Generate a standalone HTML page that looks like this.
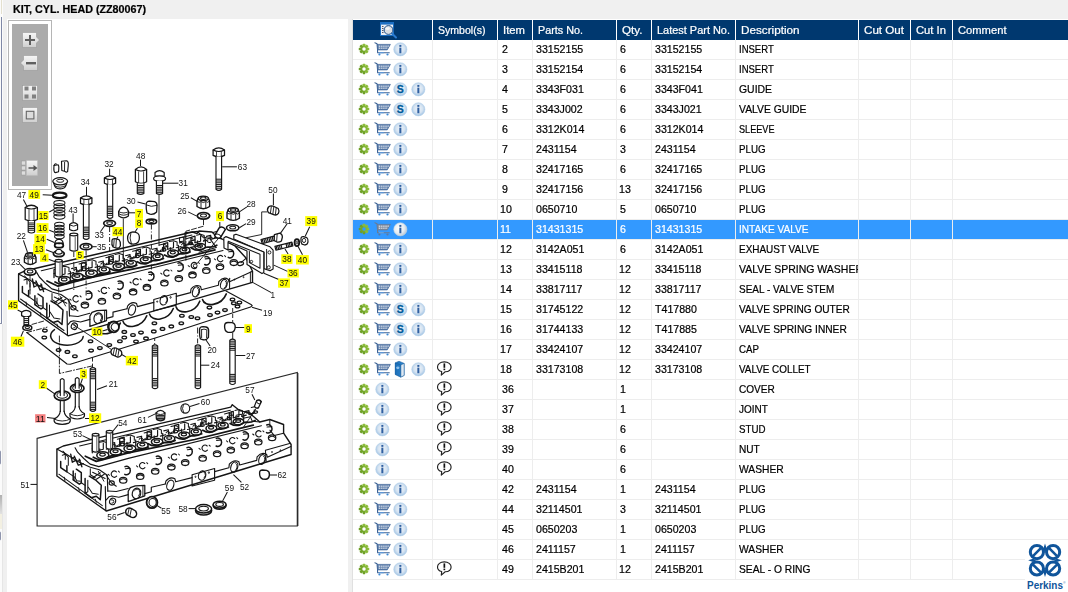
<!DOCTYPE html><html><head><meta charset="utf-8"><title>KIT, CYL. HEAD (ZZ80067)</title><style>

html,body{margin:0;padding:0}
body{width:1068px;height:592px;overflow:hidden;position:relative;background:#f0f0f0;font-family:"Liberation Sans", sans-serif;font-size:11px}
.abs{position:absolute}
.t{-webkit-text-stroke:0.22px currentColor;position:absolute;white-space:pre;line-height:13px;height:13px;transform-origin:0 0;font-size:11px}
.ic{position:absolute;overflow:visible}
.hl{position:absolute;background:#ededed;height:1px}
.vl{position:absolute;background:#ededed;width:1px}
.clip{position:absolute;overflow:hidden;height:20px}

</style></head><body>

<svg width="0" height="0" style="position:absolute">
<defs>
<linearGradient id="gg" x1="0" y1="0" x2="0" y2="1"><stop offset="0" stop-color="#8fc03e"/><stop offset="1" stop-color="#6a9c24"/></linearGradient>
<radialGradient id="ig" cx="0.5" cy="0.45" r="0.55"><stop offset="0" stop-color="#eef4fa"/><stop offset="0.6" stop-color="#d5e3f1"/><stop offset="1" stop-color="#9fc2e4"/></radialGradient>
<radialGradient id="igs" cx="0.4" cy="0.4" r="0.65"><stop offset="0" stop-color="#ffffff"/><stop offset="0.6" stop-color="#e6edf3"/><stop offset="1" stop-color="#b4c4d4"/></radialGradient>
<linearGradient id="bk" x1="0" y1="0" x2="1" y2="0"><stop offset="0" stop-color="#1d6fb8"/><stop offset="1" stop-color="#2d86cf"/></linearGradient>
<mask id="gm" x="-6" y="-6" width="12" height="12" maskUnits="userSpaceOnUse"><rect x="-6" y="-6" width="12" height="12" fill="#fff"/><circle r="1.75" fill="#000"/></mask>
<symbol id="gear" viewBox="-6 -6 12 12">
 <g fill="url(#gg)" mask="url(#gm)">
 <circle r="3.7"/>
 <rect x="-1.3" y="-5.25" width="2.6" height="10.5" rx="0.4"/><rect x="-1.3" y="-5.25" width="2.6" height="10.5" rx="0.4" transform="rotate(45)"/><rect x="-1.3" y="-5.25" width="2.6" height="10.5" rx="0.4" transform="rotate(90)"/><rect x="-1.3" y="-5.25" width="2.6" height="10.5" rx="0.4" transform="rotate(135)"/>
 </g>
</symbol>
<symbol id="cart" viewBox="0 0 17 14">
 <path d="M0.4 0.6 L2.3 1.3 L3.1 2.4 L3.3 10.7 L15 10.7" fill="none" stroke="#3d6396" stroke-width="1.1" stroke-linejoin="round" stroke-linecap="round"/>
 <path d="M2.7 2.3 L16.1 2.3 L12.9 7.8 L3.3 7.8 Z" fill="#6382ad" stroke="#3d6396" stroke-width="0.7" stroke-linejoin="round"/>
 <g fill="#fff" opacity="0.92">
  <rect x="4.5" y="3.5" width="1.05" height="1.2"/><rect x="6.4" y="3.5" width="1.05" height="1.2"/><rect x="8.3" y="3.5" width="1.05" height="1.2"/><rect x="10.2" y="3.5" width="1.05" height="1.2"/><rect x="12.1" y="3.5" width="1.05" height="1.2"/><rect x="13.9" y="3.5" width="0.8" height="1"/>
  <rect x="4.5" y="5.5" width="1.05" height="1.2"/><rect x="6.4" y="5.5" width="1.05" height="1.2"/><rect x="8.3" y="5.5" width="1.05" height="1.2"/><rect x="10.2" y="5.5" width="1.05" height="1.2"/><rect x="12" y="5.5" width="0.9" height="1.1"/>
 </g>
 <path d="M4.6 10.7 H9.5" stroke="#5a9be0" stroke-width="1.1"/>
 <circle cx="5.1" cy="12.4" r="1.1" fill="#3d8ad6"/><circle cx="13.2" cy="12.4" r="1.1" fill="#3d8ad6"/>
</symbol>
<symbol id="info" viewBox="-7.5 -7.5 15 15">
 <circle r="6.6" fill="url(#ig)" stroke="#b4d0ea" stroke-width="0.6"/>
 <rect x="-1" y="-1.7" width="2" height="5.6" fill="#2f5fa0"/><rect x="-1" y="-4.4" width="2" height="1.9" fill="#2f5fa0"/>
</symbol>
<symbol id="cartsel" viewBox="0 0 17 14">
 <path d="M0.4 0.6 L2.3 1.3 L3.1 2.4 L3.3 10.7 L15 10.7" fill="none" stroke="#6b7b92" stroke-width="1.1" stroke-linejoin="round" stroke-linecap="round"/>
 <path d="M2.7 2.3 L16.1 2.3 L12.9 7.8 L3.3 7.8 Z" fill="#7c8aa0" stroke="#6b7b92" stroke-width="0.7" stroke-linejoin="round"/>
 <g fill="#fff" opacity="0.92">
  <rect x="4.5" y="3.5" width="1.05" height="1.2"/><rect x="6.4" y="3.5" width="1.05" height="1.2"/><rect x="8.3" y="3.5" width="1.05" height="1.2"/><rect x="10.2" y="3.5" width="1.05" height="1.2"/><rect x="12.1" y="3.5" width="1.05" height="1.2"/><rect x="13.9" y="3.5" width="0.8" height="1"/>
  <rect x="4.5" y="5.5" width="1.05" height="1.2"/><rect x="6.4" y="5.5" width="1.05" height="1.2"/><rect x="8.3" y="5.5" width="1.05" height="1.2"/><rect x="10.2" y="5.5" width="1.05" height="1.2"/><rect x="12" y="5.5" width="0.9" height="1.1"/>
 </g>
 <path d="M4.6 10.7 H9.5" stroke="#6aa8e6" stroke-width="1.1"/>
 <circle cx="5.1" cy="12.4" r="1.1" fill="#5a7aa6"/><circle cx="13.2" cy="12.4" r="1.1" fill="#5a7aa6"/>
</symbol>
<symbol id="infosel" viewBox="-7.5 -7.5 15 15">
 <circle r="6.6" fill="url(#igs)" stroke="#c9d6e3" stroke-width="0.6"/>
 <rect x="-1" y="-1.7" width="2" height="5.6" fill="#2f5fa0"/><rect x="-1" y="-4.4" width="2" height="1.9" fill="#2f5fa0"/>
</symbol>
<symbol id="sicon" viewBox="-7.5 -7.5 15 15">
 <circle r="6.6" fill="url(#ig)" stroke="#b4d0ea" stroke-width="0.6"/>
 <text x="0" y="3.7" text-anchor="middle" font-family='"Liberation Sans", sans-serif' font-weight="bold" font-size="10.5" fill="#005b9a" stroke="#005b9a" stroke-width="0.3">S</text>
</symbol>
<symbol id="book" viewBox="0 0 11 17">
 <path d="M0.5 2.2 L4.5 0.4 L9.6 2.6 L9.6 14.6 L6.2 16.4 L0.5 13.6 Z" fill="url(#bk)" stroke="#155a9b" stroke-width="0.6"/>
 <path d="M6.2 4.2 L9.6 2.6 L9.6 14.6 L6.2 16.4 Z" fill="#dfe9f3" stroke="#155a9b" stroke-width="0.5"/>
 <path d="M0.5 2.2 L6.2 4.2 L6.2 16.4" fill="none" stroke="#155a9b" stroke-width="0.5"/>
 <ellipse cx="3.3" cy="7" rx="1.6" ry="1.4" fill="#8fc0ea"/>
</symbol>
<symbol id="bubble" viewBox="0 0 16 15">
 <path d="M8 0.8 C12 0.8 14.8 3 14.8 5.8 C14.8 8.4 12.3 10.4 8.9 10.7 L5 14 L5.4 10.4 C2.8 9.8 1.2 8 1.2 5.8 C1.2 3 4 0.8 8 0.8 Z" fill="#fff" stroke="#222" stroke-width="1.15" stroke-linejoin="round"/>
 <rect x="7.2" y="2.3" width="1.7" height="4.4" fill="#111"/><rect x="7.2" y="7.5" width="1.7" height="1.6" fill="#111"/>
</symbol>
</defs></svg>

<div class="abs" style="left:0;top:0;width:3px;height:592px;background:#fbfbfb"></div>
<div class="abs" style="left:1px;top:17px;width:1px;height:307px;background:#7f88a6"></div>
<div class="abs" style="left:0;top:323px;width:2px;height:1px;background:#8a90a8"></div>
<div class="abs" style="left:2px;top:324px;width:1px;height:268px;background:#e6e6e6"></div>
<div class="abs" style="left:-4px;top:450px;width:5px;height:15px;border:1px solid #8f95ad;border-radius:2px;box-sizing:border-box"></div>
<div class="abs" style="left:0;top:495px;width:2px;height:19px;background:linear-gradient(#b0b0b0,#e2e2e2)"></div>
<div class="abs" style="left:0;top:514px;width:2px;height:15px;background:#f3f0e2"></div>
<div class="abs" style="left:-4px;top:531px;width:5px;height:10px;border:1px solid #8f95ad;border-radius:2px;box-sizing:border-box"></div>
<div class="abs" style="left:1px;top:0;width:1px;height:14px;background:#e4e0cf"></div>
<span class="t" style="left:13px;top:2.6px;font-weight:bold;font-size:11px;transform:scaleX(0.976)">KIT, CYL. HEAD (ZZ80067)</span>
<div class="abs" style="left:7px;top:19px;width:341px;height:573px;background:#fff"></div>
<div class="abs" style="left:8px;top:20px;width:42px;height:168px;border:1px solid #b5b5b5;background:#fff"></div>
<div class="abs" style="left:12px;top:24px;width:36px;height:162px;background:#ababab"></div>

<svg class="abs" style="left:0;top:0" width="60" height="200">
<defs><linearGradient id="bg1" x1="0" y1="0" x2="0" y2="1"><stop offset="0" stop-color="#f6f6f6"/><stop offset="0.5" stop-color="#e4e4e4"/><stop offset="1" stop-color="#cfcfcf"/></linearGradient></defs>
<g stroke="#999" stroke-width="0.6" fill="url(#bg1)">
 <path d="M22.5 32.5 H36.5 V37 L39.5 40 L36.5 43 V47.5 H22.5 Z"/>
 <path d="M23.5 55.5 H37.5 V70.5 H23.5 V66 L20.5 63 L23.5 60 Z"/>
 <rect x="22.5" y="85.5" width="15" height="15"/>
 <rect x="22.5" y="107.5" width="15" height="15"/>
</g>
<g fill="#606060">
 <rect x="25" y="39" width="10" height="2"/><rect x="29" y="35" width="2" height="10"/>
 <rect x="26" y="62" width="10" height="2.4"/>
 <rect x="24.5" y="86.5" width="4" height="4" fill="#808080"/><rect x="32" y="86.5" width="4" height="4" fill="#808080"/><rect x="24.5" y="94.5" width="4" height="4" fill="#808080"/><rect x="32" y="94.5" width="4" height="4" fill="#808080"/>
</g>
<rect x="26.3" y="111.3" width="7.6" height="7.6" fill="#dcdcdc" stroke="#666" stroke-width="1.1"/>
<g>
 <rect x="26.5" y="160.5" width="11" height="15" fill="url(#bg1)" stroke="#bbb" stroke-width="0.5"/>
 <rect x="21.5" y="161" width="4" height="4" fill="#ddd" stroke="#999" stroke-width="0.5"/>
 <rect x="21.5" y="166" width="4" height="4" fill="#ddd" stroke="#999" stroke-width="0.5"/>
 <rect x="21.5" y="171" width="4" height="4" fill="#ddd" stroke="#999" stroke-width="0.5"/>
 <path d="M28.5 167.2 H33.5 V165 L37.5 168 L33.5 171 V168.8 H28.5 Z" fill="#555"/>
</g>
</svg>

<svg class="abs" style="left:0;top:0;will-change:transform" width="352" height="592" viewBox="0 0 352 592" font-family='"Liberation Sans", sans-serif' font-size="8.6" fill="#111">
<path d="M37.1 438.4 L297.3 372.5 L297.3 526.0 L37.1 526.0 Z" fill="none" stroke="#2a2a2a" stroke-width="1.15" stroke-linejoin="miter" stroke-linecap="round"/>
<line x1="297.7" y1="373.0" x2="297.7" y2="526.0" stroke="#2a2a2a" stroke-width="1.38"/>
<line x1="30.5" y1="484.4" x2="37.0" y2="484.4" stroke="#151515" stroke-width="1.03"/>
<path d="M26.8 332.5 L64.5 362.0 L67.0 364.0 L70.3 364.3 L162.5 335.8 L250.6 307.0 L252.2 305.6 L251.0 304.4 L226.0 291.0 L100.0 300.0 Z" fill="#fff" stroke="#fff" stroke-width="0.01" stroke-linejoin="round" stroke-linecap="round"/>
<path d="M26.8 332.5 L64.5 362.0 L67.0 364.0 L70.3 364.3 L162.5 335.8 L250.6 307.0 L252.2 305.6 L251.0 304.4 L226.0 291.0" fill="none" stroke="#151515" stroke-width="1.15" stroke-linejoin="round" stroke-linecap="round"/>
<path d="M26.8 332.5 L47.0 327.2" fill="none" stroke="#151515" stroke-width="0.92" stroke-linejoin="round" stroke-linecap="round" stroke-dasharray="5 2 1 2"/>
<path d="M32.0 324.4 L44.0 321.0" fill="none" stroke="#151515" stroke-width="0.92" stroke-linejoin="round" stroke-linecap="round" stroke-dasharray="5 2"/>
<path d="M202.5 299.5 C204.5 307.5 221.3 306.4 226.3 293.9" fill="none" stroke="#151515" stroke-width="1.61" stroke-linejoin="round" stroke-linecap="round"/>
<path d="M176.0 306.8 C178.0 314.8 194.8 313.7 199.8 301.2" fill="none" stroke="#151515" stroke-width="1.61" stroke-linejoin="round" stroke-linecap="round"/>
<path d="M149.5 314.1 C151.5 322.1 168.3 321.0 173.3 308.5" fill="none" stroke="#151515" stroke-width="1.61" stroke-linejoin="round" stroke-linecap="round"/>
<path d="M123.0 321.4 C125.0 329.4 141.8 328.3 146.8 315.8" fill="none" stroke="#151515" stroke-width="1.61" stroke-linejoin="round" stroke-linecap="round"/>
<path d="M96.5 328.7 C98.5 336.7 115.3 335.6 120.3 323.1" fill="none" stroke="#151515" stroke-width="1.61" stroke-linejoin="round" stroke-linecap="round"/>
<path d="M54.5 329.6 A16.3 9.5 0 1 0 83.2 336.6" fill="none" stroke="#151515" stroke-width="1.49" stroke-linejoin="round" stroke-linecap="round"/>
<ellipse cx="232.5" cy="299.5" rx="2.3" ry="1.4" fill="none" stroke="#151515" stroke-width="1.26"/>
<ellipse cx="233.8" cy="303.3" rx="2.3" ry="1.4" fill="none" stroke="#151515" stroke-width="1.26"/>
<ellipse cx="239.4" cy="302.6" rx="2.3" ry="1.4" fill="none" stroke="#151515" stroke-width="1.26"/>
<ellipse cx="237.5" cy="306.4" rx="2.3" ry="1.4" fill="none" stroke="#151515" stroke-width="1.26"/>
<ellipse cx="225.0" cy="310.1" rx="2.3" ry="1.4" fill="none" stroke="#151515" stroke-width="1.26"/>
<ellipse cx="217.5" cy="312.6" rx="2.3" ry="1.4" fill="none" stroke="#151515" stroke-width="1.26"/>
<ellipse cx="210.0" cy="315.1" rx="2.3" ry="1.4" fill="none" stroke="#151515" stroke-width="1.26"/>
<ellipse cx="209.4" cy="307.6" rx="2.3" ry="1.4" fill="none" stroke="#151515" stroke-width="1.26"/>
<ellipse cx="197.5" cy="318.3" rx="2.3" ry="1.4" fill="none" stroke="#151515" stroke-width="1.26"/>
<ellipse cx="191.3" cy="317.0" rx="2.3" ry="1.4" fill="none" stroke="#151515" stroke-width="1.26"/>
<ellipse cx="181.9" cy="315.8" rx="2.3" ry="1.4" fill="none" stroke="#151515" stroke-width="1.26"/>
<ellipse cx="181.3" cy="323.3" rx="2.3" ry="1.4" fill="none" stroke="#151515" stroke-width="1.26"/>
<ellipse cx="154.4" cy="323.3" rx="2.3" ry="1.4" fill="none" stroke="#151515" stroke-width="1.26"/>
<ellipse cx="162.5" cy="328.9" rx="2.3" ry="1.4" fill="none" stroke="#151515" stroke-width="1.26"/>
<ellipse cx="171.3" cy="326.4" rx="2.3" ry="1.4" fill="none" stroke="#151515" stroke-width="1.26"/>
<ellipse cx="153.8" cy="331.4" rx="2.3" ry="1.4" fill="none" stroke="#151515" stroke-width="1.26"/>
<ellipse cx="44.9" cy="330.6" rx="2.3" ry="1.4" fill="none" stroke="#151515" stroke-width="1.26"/>
<ellipse cx="44.3" cy="337.5" rx="2.3" ry="1.4" fill="none" stroke="#151515" stroke-width="1.26"/>
<ellipse cx="58.6" cy="350.0" rx="2.3" ry="1.4" fill="none" stroke="#151515" stroke-width="1.26"/>
<ellipse cx="67.4" cy="351.9" rx="2.3" ry="1.4" fill="none" stroke="#151515" stroke-width="1.26"/>
<ellipse cx="74.9" cy="356.3" rx="2.3" ry="1.4" fill="none" stroke="#151515" stroke-width="1.26"/>
<ellipse cx="90.5" cy="341.3" rx="2.3" ry="1.4" fill="none" stroke="#151515" stroke-width="1.26"/>
<ellipse cx="91.1" cy="350.6" rx="2.3" ry="1.4" fill="none" stroke="#151515" stroke-width="1.26"/>
<ellipse cx="99.9" cy="348.1" rx="2.3" ry="1.4" fill="none" stroke="#151515" stroke-width="1.26"/>
<ellipse cx="109.3" cy="345.0" rx="2.3" ry="1.4" fill="none" stroke="#151515" stroke-width="1.26"/>
<ellipse cx="124.3" cy="331.9" rx="2.3" ry="1.4" fill="none" stroke="#151515" stroke-width="1.26"/>
<ellipse cx="124.3" cy="337.5" rx="2.3" ry="1.4" fill="none" stroke="#151515" stroke-width="1.26"/>
<ellipse cx="119.9" cy="341.3" rx="2.3" ry="1.4" fill="none" stroke="#151515" stroke-width="1.26"/>
<ellipse cx="133.0" cy="335.0" rx="2.3" ry="1.4" fill="none" stroke="#151515" stroke-width="1.26"/>
<ellipse cx="141.0" cy="332.6" rx="2.3" ry="1.4" fill="none" stroke="#151515" stroke-width="1.26"/>
<ellipse cx="146.0" cy="338.4" rx="2.3" ry="1.4" fill="none" stroke="#151515" stroke-width="1.26"/>
<ellipse cx="136.0" cy="341.6" rx="2.3" ry="1.4" fill="none" stroke="#151515" stroke-width="1.26"/>
<path d="M18.6 273.9 L25.0 270.8 L37.0 268.0 L192.5 232.0 L197.0 233.5 L199.0 231.0 L212.0 232.0 L217.0 237.0 L222.0 239.0 L235.0 246.0 L246.0 258.0 L252.5 271.3 L252.5 282.4 L68.0 335.8 L18.6 300.8 Z" fill="#fff" stroke="#151515" stroke-width="1.38" stroke-linejoin="round" stroke-linecap="round"/>
<path d="M41.3 270.8 L192.0 235.0" fill="none" stroke="#151515" stroke-width="1.03" stroke-linejoin="round" stroke-linecap="round"/>
<path d="M18.6 273.9 L29.0 279.5 L39.0 286.0 L52.0 292.0 L61.0 294.5 L69.0 300.0 L69.5 316.0" fill="none" stroke="#151515" stroke-width="1.15" stroke-linejoin="round" stroke-linecap="round"/>
<path d="M36.8 272.6 L39.3 277.0 L45.5 283.3 L51.8 288.9 L60.5 291.4 L90.0 283.2 L223.0 250.5" fill="none" stroke="#151515" stroke-width="1.15" stroke-linejoin="round" stroke-linecap="round"/>
<path d="M47.0 281.0 L58.0 286.2 L90.0 277.6 L156.3 264.3 L215.0 249.9" fill="none" stroke="#151515" stroke-width="1.72" stroke-linejoin="round" stroke-linecap="round"/>
<path d="M67.0 311.3 L67.5 335.5" fill="none" stroke="#151515" stroke-width="1.15" stroke-linejoin="round" stroke-linecap="round"/>
<path d="M22.4 286.4 L22.4 292.5 L28.6 296.6 L28.6 290.5" fill="none" stroke="#151515" stroke-width="1.49" stroke-linejoin="round" stroke-linecap="round"/>
<path d="M24.0 280.0 L27.0 279.0 L27.0 284.0" fill="none" stroke="#151515" stroke-width="1.03" stroke-linejoin="round" stroke-linecap="round"/>
<path d="M34.9 295.8 L34.9 304.6 L41.0 309.0 L43.0 307.6 L43.0 297.5 L38.0 294.0" fill="none" stroke="#151515" stroke-width="1.49" stroke-linejoin="round" stroke-linecap="round"/>
<path d="M34.9 304.6 L37.0 303.4 L37.0 298.0" fill="none" stroke="#151515" stroke-width="1.03" stroke-linejoin="round" stroke-linecap="round"/>
<path d="M36.0 301.5 L38.6 305.6 L42.0 306.0" fill="none" stroke="#151515" stroke-width="1.03" stroke-linejoin="round" stroke-linecap="round"/>
<path d="M46.8 303.3 L46.8 318.0 L53.0 322.5 L58.0 321.0 L62.0 324.5 L63.0 310.0 L57.0 304.6 L51.0 301.0" fill="none" stroke="#151515" stroke-width="1.49" stroke-linejoin="round" stroke-linecap="round"/>
<path d="M46.8 318.0 L49.5 316.6 L49.5 305.0" fill="none" stroke="#151515" stroke-width="1.03" stroke-linejoin="round" stroke-linecap="round"/>
<path d="M50.0 312.0 L54.0 318.0 L60.0 319.0" fill="none" stroke="#151515" stroke-width="1.03" stroke-linejoin="round" stroke-linecap="round"/>
<path d="M28.6 296.6 L34.9 301.0" fill="none" stroke="#151515" stroke-width="1.03" stroke-linejoin="round" stroke-linecap="round"/>
<path d="M43.0 307.6 L46.8 310.2" fill="none" stroke="#151515" stroke-width="1.03" stroke-linejoin="round" stroke-linecap="round"/>
<path d="M20.5 299.0 L64.0 330.5" fill="none" stroke="#151515" stroke-width="1.03" stroke-linejoin="round" stroke-linecap="round"/>
<path d="M26.0 302.0 L26.6 305.4" fill="none" stroke="#151515" stroke-width="0.92" stroke-linejoin="round" stroke-linecap="round"/>
<path d="M40.0 312.4 L41.0 315.4" fill="none" stroke="#151515" stroke-width="0.92" stroke-linejoin="round" stroke-linecap="round"/>
<path d="M57.0 324.0 L58.0 327.0" fill="none" stroke="#151515" stroke-width="0.92" stroke-linejoin="round" stroke-linecap="round"/>
<path d="M54.3 297.0 L66.8 303.3" fill="none" stroke="#151515" stroke-width="1.03" stroke-linejoin="round" stroke-linecap="round"/>
<path d="M54.5 302.5 L62.0 297.5" fill="none" stroke="#151515" stroke-width="1.03" stroke-linejoin="round" stroke-linecap="round"/>
<path d="M58.0 304.0 L66.0 299.0" fill="none" stroke="#151515" stroke-width="1.03" stroke-linejoin="round" stroke-linecap="round"/>
<path d="M60.0 296.0 L65.6 306.0" fill="none" stroke="#151515" stroke-width="0.92" stroke-linejoin="round" stroke-linecap="round"/>
<path d="M32.4 279.0 L34.0 287.0 L38.0 285.0" fill="none" stroke="#151515" stroke-width="1.38" stroke-linejoin="round" stroke-linecap="round"/>
<path d="M36.0 281.0 L40.0 290.0 L45.0 288.5" fill="none" stroke="#151515" stroke-width="1.38" stroke-linejoin="round" stroke-linecap="round"/>
<path d="M41.0 284.0 L43.6 291.6" fill="none" stroke="#151515" stroke-width="1.38" stroke-linejoin="round" stroke-linecap="round"/>
<path d="M33.0 283.0 L36.4 282.0" fill="none" stroke="#151515" stroke-width="1.15" stroke-linejoin="round" stroke-linecap="round"/>
<path d="M38.0 286.0 L42.0 285.0" fill="none" stroke="#151515" stroke-width="1.15" stroke-linejoin="round" stroke-linecap="round"/>
<path d="M24.6 276.0 L30.0 282.0 L30.0 290.0" fill="none" stroke="#151515" stroke-width="1.03" stroke-linejoin="round" stroke-linecap="round"/>
<path d="M52.0 293.6 L52.0 299.6 L57.0 302.6" fill="none" stroke="#151515" stroke-width="1.03" stroke-linejoin="round" stroke-linecap="round"/>
<ellipse cx="74.3" cy="326.2" rx="3.0" ry="3.3" fill="none" stroke="#151515" stroke-width="1.15" transform="rotate(20 74.3 326.2)"/>
<path transform="translate(0 0)" d="M73 324.6 q2.6 -0.6 2.6 1.8 q-0.4 2 -2 1.6" fill="none" stroke="#151515" stroke-width="0.92" stroke-linejoin="round" stroke-linecap="round"/>
<path d="M69.6 315.8 L78.0 316.4 L89.9 313.3" fill="none" stroke="#151515" stroke-width="1.03" stroke-linejoin="round" stroke-linecap="round"/>
<path d="M68.0 324.6 L70.6 321.6 L73.6 320.8 L80.5 322.0 L89.9 319.4" fill="none" stroke="#151515" stroke-width="1.15" stroke-linejoin="round" stroke-linecap="round"/>
<path d="M68.0 300.0 L73.0 307.6 L78.0 311.0" fill="none" stroke="#151515" stroke-width="1.03" stroke-linejoin="round" stroke-linecap="round"/>
<path d="M89.9 326.4 L89.9 316.0 L92.0 312.4 L97.0 310.6 L106.5 310.2 L106.5 320.6 L89.9 326.4" fill="none" stroke="#151515" stroke-width="1.26" stroke-linejoin="round" stroke-linecap="round"/>
<path d="M106.5 318.4 L113.0 316.6 L113.0 312.1 L127.0 308.8" fill="none" stroke="#151515" stroke-width="1.15" stroke-linejoin="round" stroke-linecap="round"/>
<path d="M104.6 311.0 L104.6 320.8" fill="none" stroke="#151515" stroke-width="0.92" stroke-linejoin="round" stroke-linecap="round"/>
<ellipse cx="98.2" cy="318.2" rx="4.2" ry="5.4" fill="none" stroke="#151515" stroke-width="1.15" transform="rotate(15 98.2 318.2)"/>
<path transform="translate(0 0)" d="M96.4 315.2 A2.8 3.8 15 0 1 100.4 320.8" fill="none" stroke="#151515" stroke-width="0.92" stroke-linejoin="round" stroke-linecap="round"/>
<path transform="translate(0 0)" d="M127 308.8 L127.6 306 Q131.5 301 136.6 303.6 L137.4 306.6 L153.8 302.4" fill="none" stroke="#151515" stroke-width="1.15" stroke-linejoin="round" stroke-linecap="round"/>
<path d="M153.8 299.5 L176.3 293.3 L176.3 305.1 L153.8 310.8 Z" fill="none" stroke="#151515" stroke-width="1.15" stroke-linejoin="round" stroke-linecap="round"/>
<path transform="translate(0 0)" d="M176.3 296.4 L190.6 292.6 L191 289 Q195.6 283.6 200.6 286.6 L201.4 289.8 L218.4 285.2 L218.8 281.6 Q223.4 276.2 228.4 279.4 L229 282 L252.5 271.3" fill="none" stroke="#151515" stroke-width="1.15" stroke-linejoin="round" stroke-linecap="round"/>
<ellipse cx="132.0" cy="310.0" rx="3.4" ry="5.2" fill="none" stroke="#151515" stroke-width="1.15" transform="rotate(18 132.0 310.0)"/>
<ellipse cx="163.8" cy="300.3" rx="3.6" ry="4.8" fill="none" stroke="#151515" stroke-width="1.15" transform="rotate(18 163.8 300.3)"/>
<path transform="translate(0 0)" d="M162.2 297.4 A2.6 3.4 18 0 1 165.8 302.8" fill="none" stroke="#151515" stroke-width="0.92" stroke-linejoin="round" stroke-linecap="round"/>
<ellipse cx="157.2" cy="301.6" rx="0.5" ry="0.7" fill="none" stroke="#151515" stroke-width="0.92"/>
<ellipse cx="170.6" cy="297.4" rx="0.6" ry="0.9" fill="none" stroke="#151515" stroke-width="0.92"/>
<ellipse cx="196.0" cy="291.8" rx="3.4" ry="5.2" fill="none" stroke="#151515" stroke-width="1.15" transform="rotate(18 196.0 291.8)"/>
<path transform="translate(0 0)" d="M197.6 288.4 A2.6 4 18 0 1 196.6 295.6" fill="none" stroke="#151515" stroke-width="0.92" stroke-linejoin="round" stroke-linecap="round"/>
<ellipse cx="223.8" cy="284.3" rx="3.2" ry="5.0" fill="none" stroke="#151515" stroke-width="1.15" transform="rotate(18 223.8 284.3)"/>
<path transform="translate(0 0)" d="M225.4 281 A2.6 4 18 0 1 224.4 288" fill="none" stroke="#151515" stroke-width="0.92" stroke-linejoin="round" stroke-linecap="round"/>
<path d="M229.6 278.2 L229.6 288.4" fill="none" stroke="#151515" stroke-width="1.03" stroke-linejoin="round" stroke-linecap="round"/>
<ellipse cx="234.4" cy="279.6" rx="0.5" ry="0.5" fill="none" stroke="#151515" stroke-width="0.92"/>
<ellipse cx="243.6" cy="277.2" rx="0.5" ry="0.5" fill="none" stroke="#151515" stroke-width="0.92"/>
<path d="M250.4 272.0 L250.4 282.6" fill="none" stroke="#151515" stroke-width="0.92" stroke-linejoin="round" stroke-linecap="round"/>
<path transform="translate(0 0)" d="M78.1 296.7 A3.1 3 0 1 0 78.3 300.9" fill="none" stroke="#151515" stroke-width="1.15" stroke-linejoin="round" stroke-linecap="round"/>
<path d="M69.9 299.1 L71.1 300.1" fill="none" stroke="#151515" stroke-width="1.03" stroke-linejoin="round" stroke-linecap="round"/>
<path d="M80.1 295.9 L81.1 296.9" fill="none" stroke="#151515" stroke-width="1.03" stroke-linejoin="round" stroke-linecap="round"/>
<path transform="translate(0 0)" d="M106.4 288.3 A3.1 3 0 1 0 106.6 292.5" fill="none" stroke="#151515" stroke-width="1.15" stroke-linejoin="round" stroke-linecap="round"/>
<path d="M98.2 290.7 L99.4 291.7" fill="none" stroke="#151515" stroke-width="1.03" stroke-linejoin="round" stroke-linecap="round"/>
<path d="M108.4 287.5 L109.4 288.5" fill="none" stroke="#151515" stroke-width="1.03" stroke-linejoin="round" stroke-linecap="round"/>
<path transform="translate(0 0)" d="M138.2 279.6 A3.1 3 0 1 0 138.4 283.8" fill="none" stroke="#151515" stroke-width="1.15" stroke-linejoin="round" stroke-linecap="round"/>
<path d="M130.0 282.0 L131.2 283.0" fill="none" stroke="#151515" stroke-width="1.03" stroke-linejoin="round" stroke-linecap="round"/>
<path d="M140.2 278.8 L141.2 279.8" fill="none" stroke="#151515" stroke-width="1.03" stroke-linejoin="round" stroke-linecap="round"/>
<path transform="translate(0 0)" d="M168.9 270.8 A3.1 3 0 1 0 169.1 275.0" fill="none" stroke="#151515" stroke-width="1.15" stroke-linejoin="round" stroke-linecap="round"/>
<path d="M160.7 273.2 L161.9 274.2" fill="none" stroke="#151515" stroke-width="1.03" stroke-linejoin="round" stroke-linecap="round"/>
<path d="M170.9 270.0 L171.9 271.0" fill="none" stroke="#151515" stroke-width="1.03" stroke-linejoin="round" stroke-linecap="round"/>
<path transform="translate(0 0)" d="M196.4 263.3 A3.1 3 0 1 0 196.6 267.5" fill="none" stroke="#151515" stroke-width="1.15" stroke-linejoin="round" stroke-linecap="round"/>
<path d="M188.2 265.7 L189.4 266.7" fill="none" stroke="#151515" stroke-width="1.03" stroke-linejoin="round" stroke-linecap="round"/>
<path d="M198.4 262.5 L199.4 263.5" fill="none" stroke="#151515" stroke-width="1.03" stroke-linejoin="round" stroke-linecap="round"/>
<path transform="translate(0 0)" d="M222.6 256.4 A3.1 3 0 1 0 222.8 260.6" fill="none" stroke="#151515" stroke-width="1.15" stroke-linejoin="round" stroke-linecap="round"/>
<path d="M214.4 258.8 L215.6 259.8" fill="none" stroke="#151515" stroke-width="1.03" stroke-linejoin="round" stroke-linecap="round"/>
<path d="M224.6 255.6 L225.6 256.6" fill="none" stroke="#151515" stroke-width="1.03" stroke-linejoin="round" stroke-linecap="round"/>
<path transform="translate(0 0)" d="M86.7 291.5 A3.8 4.2 0 1 1 86.5 299.1" fill="none" stroke="#151515" stroke-width="1.49" stroke-linejoin="round" stroke-linecap="round"/>
<path d="M87.1 293.5 L91.7 293.1" fill="none" stroke="#151515" stroke-width="1.15" stroke-linejoin="round" stroke-linecap="round"/>
<path transform="translate(0 0)" d="M118.0 281.3 A3.8 4.2 0 1 1 117.8 288.9" fill="none" stroke="#151515" stroke-width="1.49" stroke-linejoin="round" stroke-linecap="round"/>
<path d="M118.4 283.3 L123.0 282.9" fill="none" stroke="#151515" stroke-width="1.15" stroke-linejoin="round" stroke-linecap="round"/>
<path transform="translate(0 0)" d="M148.7 272.5 A3.8 4.2 0 1 1 148.5 280.1" fill="none" stroke="#151515" stroke-width="1.49" stroke-linejoin="round" stroke-linecap="round"/>
<path d="M149.1 274.5 L153.7 274.1" fill="none" stroke="#151515" stroke-width="1.15" stroke-linejoin="round" stroke-linecap="round"/>
<path transform="translate(0 0)" d="M178.0 263.2 A3.8 4.2 0 1 1 177.8 270.8" fill="none" stroke="#151515" stroke-width="1.49" stroke-linejoin="round" stroke-linecap="round"/>
<path d="M178.4 265.2 L183.0 264.8" fill="none" stroke="#151515" stroke-width="1.15" stroke-linejoin="round" stroke-linecap="round"/>
<path transform="translate(0 0)" d="M204.9 256.9 A3.8 4.2 0 1 1 204.7 264.5" fill="none" stroke="#151515" stroke-width="1.49" stroke-linejoin="round" stroke-linecap="round"/>
<path d="M205.3 258.9 L209.9 258.5" fill="none" stroke="#151515" stroke-width="1.15" stroke-linejoin="round" stroke-linecap="round"/>
<path transform="translate(0 0)" d="M228.4 249.8 A3.8 4.2 0 1 1 228.2 257.4" fill="none" stroke="#151515" stroke-width="1.49" stroke-linejoin="round" stroke-linecap="round"/>
<path d="M228.8 251.8 L233.4 251.4" fill="none" stroke="#151515" stroke-width="1.15" stroke-linejoin="round" stroke-linecap="round"/>
<ellipse cx="84.9" cy="305.1" rx="3.7" ry="2.9" fill="none" stroke="#151515" stroke-width="1.26"/>
<path transform="translate(0 0)" d="M82.1 304.7 Q84.9 302.5 87.7 304.7" fill="none" stroke="#151515" stroke-width="1.03" stroke-linejoin="round" stroke-linecap="round"/>
<ellipse cx="101.9" cy="301.2" rx="3.7" ry="2.9" fill="none" stroke="#151515" stroke-width="1.26"/>
<path transform="translate(0 0)" d="M99.1 300.8 Q101.9 298.6 104.7 300.8" fill="none" stroke="#151515" stroke-width="1.03" stroke-linejoin="round" stroke-linecap="round"/>
<ellipse cx="116.9" cy="296.0" rx="3.7" ry="2.9" fill="none" stroke="#151515" stroke-width="1.26"/>
<path transform="translate(0 0)" d="M114.1 295.6 Q116.9 293.4 119.7 295.6" fill="none" stroke="#151515" stroke-width="1.03" stroke-linejoin="round" stroke-linecap="round"/>
<ellipse cx="133.1" cy="291.9" rx="3.7" ry="2.9" fill="none" stroke="#151515" stroke-width="1.26"/>
<path transform="translate(0 0)" d="M130.3 291.5 Q133.1 289.3 135.9 291.5" fill="none" stroke="#151515" stroke-width="1.03" stroke-linejoin="round" stroke-linecap="round"/>
<ellipse cx="146.9" cy="287.4" rx="3.7" ry="2.9" fill="none" stroke="#151515" stroke-width="1.26"/>
<path transform="translate(0 0)" d="M144.1 287.0 Q146.9 284.8 149.7 287.0" fill="none" stroke="#151515" stroke-width="1.03" stroke-linejoin="round" stroke-linecap="round"/>
<ellipse cx="164.4" cy="283.0" rx="3.7" ry="2.9" fill="none" stroke="#151515" stroke-width="1.26"/>
<path transform="translate(0 0)" d="M161.6 282.6 Q164.4 280.4 167.2 282.6" fill="none" stroke="#151515" stroke-width="1.03" stroke-linejoin="round" stroke-linecap="round"/>
<ellipse cx="178.8" cy="278.6" rx="3.7" ry="2.9" fill="none" stroke="#151515" stroke-width="1.26"/>
<path transform="translate(0 0)" d="M176.0 278.2 Q178.8 276.0 181.6 278.2" fill="none" stroke="#151515" stroke-width="1.03" stroke-linejoin="round" stroke-linecap="round"/>
<ellipse cx="192.5" cy="274.9" rx="3.7" ry="2.9" fill="none" stroke="#151515" stroke-width="1.26"/>
<path transform="translate(0 0)" d="M189.7 274.5 Q192.5 272.3 195.3 274.5" fill="none" stroke="#151515" stroke-width="1.03" stroke-linejoin="round" stroke-linecap="round"/>
<ellipse cx="206.3" cy="270.5" rx="3.7" ry="2.9" fill="none" stroke="#151515" stroke-width="1.26"/>
<path transform="translate(0 0)" d="M203.5 270.1 Q206.3 267.9 209.1 270.1" fill="none" stroke="#151515" stroke-width="1.03" stroke-linejoin="round" stroke-linecap="round"/>
<ellipse cx="220.0" cy="266.8" rx="3.7" ry="2.9" fill="none" stroke="#151515" stroke-width="1.26"/>
<path transform="translate(0 0)" d="M217.2 266.4 Q220.0 264.2 222.8 266.4" fill="none" stroke="#151515" stroke-width="1.03" stroke-linejoin="round" stroke-linecap="round"/>
<ellipse cx="233.8" cy="262.6" rx="3.7" ry="2.9" fill="none" stroke="#151515" stroke-width="1.26"/>
<path transform="translate(0 0)" d="M231.0 262.2 Q233.8 260.0 236.6 262.2" fill="none" stroke="#151515" stroke-width="1.03" stroke-linejoin="round" stroke-linecap="round"/>
<ellipse cx="73.4" cy="307.8" rx="2.6" ry="2.2" fill="none" stroke="#151515" stroke-width="1.15"/>
<path transform="translate(0 0)" d="M241 262.6 L246 258.4" fill="none" stroke="#151515" stroke-width="1.15" stroke-linejoin="round" stroke-linecap="round"/>
<ellipse cx="240.6" cy="263.6" rx="3.0" ry="1.8" fill="none" stroke="#151515" stroke-width="1.15" transform="rotate(-15 240.6 263.6)"/>
<path d="M54.0 277.6 L54.0 269.6 L58.6 268.4 L58.6 275.6" fill="none" stroke="#151515" stroke-width="1.26" stroke-linejoin="round" stroke-linecap="round"/>
<path d="M54.0 273.6 L58.6 272.4" fill="none" stroke="#151515" stroke-width="1.26" stroke-linejoin="round" stroke-linecap="round"/>
<path d="M58.6 275.6 L65.0 274.0 L65.0 268.0" fill="none" stroke="#151515" stroke-width="1.15" stroke-linejoin="round" stroke-linecap="round"/>
<path d="M60.4 267.2 L65.0 266.2 L69.0 267.6 L69.0 271.6" fill="none" stroke="#151515" stroke-width="1.03" stroke-linejoin="round" stroke-linecap="round"/>
<ellipse cx="64.5" cy="280.0" rx="6.0" ry="3.5" fill="none" stroke="#151515" stroke-width="1.55"/>
<ellipse cx="64.2" cy="279.4" rx="2.8" ry="1.5" fill="none" stroke="#151515" stroke-width="1.15"/>
<path d="M61.5 277.0 L61.5 273.6" fill="none" stroke="#151515" stroke-width="1.03" stroke-linejoin="round" stroke-linecap="round"/>
<ellipse cx="77.5" cy="276.6" rx="5.6" ry="3.3" fill="none" stroke="#151515" stroke-width="1.55"/>
<ellipse cx="77.2" cy="276.0" rx="2.6" ry="1.4" fill="none" stroke="#151515" stroke-width="1.15"/>
<path d="M70.4 271.2 L70.4 277.6" fill="none" stroke="#151515" stroke-width="1.15" stroke-linejoin="round" stroke-linecap="round"/>
<path d="M68.0 274.0 L73.4 272.6" fill="none" stroke="#151515" stroke-width="1.15" stroke-linejoin="round" stroke-linecap="round"/>
<path d="M71.6 268.6 L76.4 267.4 L76.4 272.0 L82.4 270.4 L82.4 266.6" fill="none" stroke="#151515" stroke-width="1.15" stroke-linejoin="round" stroke-linecap="round"/>
<path transform="translate(0 0)" d="M74.0 270.6 q1.6 -2.4 3.2 -0.6 q1.4 1.8 3 -0.4" fill="none" stroke="#151515" stroke-width="1.03" stroke-linejoin="round" stroke-linecap="round"/>
<ellipse cx="84.0" cy="269.2" rx="2.2" ry="1.4" fill="none" stroke="#151515" stroke-width="1.26"/>
<path d="M79.0 264.0 L84.0 262.8 L86.6 264.6" fill="none" stroke="#151515" stroke-width="1.03" stroke-linejoin="round" stroke-linecap="round"/>
<path transform="translate(0 0)" d="M55.0 282.0 Q60.0 285.2 65.4 284.0 Q70.0 281.0 73.0 280.6 Q78.0 281.4 83.4 278.6" fill="none" stroke="#151515" stroke-width="1.72" stroke-linejoin="round" stroke-linecap="round"/>
<path d="M81.4 270.9 L81.4 263.1 L85.9 262.0 L85.9 269.0" fill="none" stroke="#151515" stroke-width="1.26" stroke-linejoin="round" stroke-linecap="round"/>
<path d="M81.4 267.0 L85.9 265.9" fill="none" stroke="#151515" stroke-width="1.26" stroke-linejoin="round" stroke-linecap="round"/>
<path d="M85.9 269.0 L92.1 267.4 L92.1 261.6" fill="none" stroke="#151515" stroke-width="1.15" stroke-linejoin="round" stroke-linecap="round"/>
<path d="M87.6 260.8 L92.1 259.8 L96.0 261.2 L96.0 265.1" fill="none" stroke="#151515" stroke-width="1.03" stroke-linejoin="round" stroke-linecap="round"/>
<ellipse cx="91.6" cy="273.3" rx="5.9" ry="3.4" fill="none" stroke="#151515" stroke-width="1.55"/>
<ellipse cx="91.3" cy="272.7" rx="2.7" ry="1.5" fill="none" stroke="#151515" stroke-width="1.15"/>
<path d="M88.7 270.4 L88.7 267.0" fill="none" stroke="#151515" stroke-width="1.03" stroke-linejoin="round" stroke-linecap="round"/>
<ellipse cx="104.3" cy="270.0" rx="5.5" ry="3.2" fill="none" stroke="#151515" stroke-width="1.55"/>
<ellipse cx="104.0" cy="269.4" rx="2.5" ry="1.4" fill="none" stroke="#151515" stroke-width="1.15"/>
<path d="M97.4 264.7 L97.4 270.9" fill="none" stroke="#151515" stroke-width="1.15" stroke-linejoin="round" stroke-linecap="round"/>
<path d="M95.1 267.4 L100.3 266.1" fill="none" stroke="#151515" stroke-width="1.15" stroke-linejoin="round" stroke-linecap="round"/>
<path d="M98.6 262.2 L103.3 261.0 L103.3 265.5 L109.1 263.9 L109.1 260.2" fill="none" stroke="#151515" stroke-width="1.15" stroke-linejoin="round" stroke-linecap="round"/>
<path transform="translate(0 0)" d="M100.9 264.1 q1.6 -2.4 3.2 -0.6 q1.4 1.8 3 -0.4" fill="none" stroke="#151515" stroke-width="1.03" stroke-linejoin="round" stroke-linecap="round"/>
<ellipse cx="110.7" cy="262.7" rx="2.1" ry="1.4" fill="none" stroke="#151515" stroke-width="1.26"/>
<path d="M105.8 257.7 L110.7 256.5 L113.2 258.3" fill="none" stroke="#151515" stroke-width="1.03" stroke-linejoin="round" stroke-linecap="round"/>
<path transform="translate(0 0)" d="M82.4 275.2 Q87.2 278.4 92.5 277.2 Q97.0 274.3 99.9 273.9 Q104.8 274.7 110.1 271.9" fill="none" stroke="#151515" stroke-width="1.72" stroke-linejoin="round" stroke-linecap="round"/>
<path d="M108.8 264.3 L108.8 256.7 L113.2 255.5 L113.2 262.4" fill="none" stroke="#151515" stroke-width="1.26" stroke-linejoin="round" stroke-linecap="round"/>
<path d="M108.8 260.5 L113.2 259.3" fill="none" stroke="#151515" stroke-width="1.26" stroke-linejoin="round" stroke-linecap="round"/>
<path d="M113.2 262.4 L119.3 260.9 L119.3 255.2" fill="none" stroke="#151515" stroke-width="1.15" stroke-linejoin="round" stroke-linecap="round"/>
<path d="M114.9 254.4 L119.3 253.4 L123.1 254.8 L123.1 258.6" fill="none" stroke="#151515" stroke-width="1.03" stroke-linejoin="round" stroke-linecap="round"/>
<ellipse cx="118.8" cy="266.6" rx="5.7" ry="3.3" fill="none" stroke="#151515" stroke-width="1.55"/>
<ellipse cx="118.5" cy="266.0" rx="2.7" ry="1.4" fill="none" stroke="#151515" stroke-width="1.15"/>
<path d="M115.9 263.7 L115.9 260.5" fill="none" stroke="#151515" stroke-width="1.03" stroke-linejoin="round" stroke-linecap="round"/>
<ellipse cx="131.2" cy="263.3" rx="5.3" ry="3.1" fill="none" stroke="#151515" stroke-width="1.55"/>
<ellipse cx="130.9" cy="262.8" rx="2.5" ry="1.3" fill="none" stroke="#151515" stroke-width="1.15"/>
<path d="M124.4 258.2 L124.4 264.3" fill="none" stroke="#151515" stroke-width="1.15" stroke-linejoin="round" stroke-linecap="round"/>
<path d="M122.1 260.9 L127.3 259.5" fill="none" stroke="#151515" stroke-width="1.15" stroke-linejoin="round" stroke-linecap="round"/>
<path d="M125.5 255.7 L130.1 254.6 L130.1 259.0 L135.8 257.4 L135.8 253.8" fill="none" stroke="#151515" stroke-width="1.15" stroke-linejoin="round" stroke-linecap="round"/>
<path transform="translate(0 0)" d="M127.8 257.6 q1.6 -2.4 3.2 -0.6 q1.4 1.8 3 -0.4" fill="none" stroke="#151515" stroke-width="1.03" stroke-linejoin="round" stroke-linecap="round"/>
<ellipse cx="137.3" cy="256.3" rx="2.1" ry="1.3" fill="none" stroke="#151515" stroke-width="1.26"/>
<path d="M132.6 251.3 L137.3 250.2 L139.8 251.9" fill="none" stroke="#151515" stroke-width="1.03" stroke-linejoin="round" stroke-linecap="round"/>
<path transform="translate(0 0)" d="M109.7 268.5 Q114.5 271.5 119.6 270.4 Q124.0 267.5 126.9 267.2 Q131.6 267.9 136.8 265.2" fill="none" stroke="#151515" stroke-width="1.72" stroke-linejoin="round" stroke-linecap="round"/>
<path d="M136.2 257.6 L136.2 250.2 L140.4 249.1 L140.4 255.8" fill="none" stroke="#151515" stroke-width="1.26" stroke-linejoin="round" stroke-linecap="round"/>
<path d="M136.2 253.9 L140.4 252.8" fill="none" stroke="#151515" stroke-width="1.26" stroke-linejoin="round" stroke-linecap="round"/>
<path d="M140.4 255.8 L146.4 254.3 L146.4 248.7" fill="none" stroke="#151515" stroke-width="1.15" stroke-linejoin="round" stroke-linecap="round"/>
<path d="M142.1 248.0 L146.4 247.1 L150.1 248.4 L150.1 252.1" fill="none" stroke="#151515" stroke-width="1.03" stroke-linejoin="round" stroke-linecap="round"/>
<ellipse cx="145.9" cy="259.9" rx="5.6" ry="3.2" fill="none" stroke="#151515" stroke-width="1.55"/>
<ellipse cx="145.6" cy="259.3" rx="2.6" ry="1.4" fill="none" stroke="#151515" stroke-width="1.15"/>
<path d="M143.1 257.1 L143.1 253.9" fill="none" stroke="#151515" stroke-width="1.03" stroke-linejoin="round" stroke-linecap="round"/>
<ellipse cx="158.0" cy="256.7" rx="5.2" ry="3.1" fill="none" stroke="#151515" stroke-width="1.55"/>
<ellipse cx="157.7" cy="256.2" rx="2.4" ry="1.3" fill="none" stroke="#151515" stroke-width="1.15"/>
<path d="M151.4 251.7 L151.4 257.6" fill="none" stroke="#151515" stroke-width="1.15" stroke-linejoin="round" stroke-linecap="round"/>
<path d="M149.2 254.3 L154.2 253.0" fill="none" stroke="#151515" stroke-width="1.15" stroke-linejoin="round" stroke-linecap="round"/>
<path d="M152.5 249.3 L157.0 248.2 L157.0 252.4 L162.5 251.0 L162.5 247.4" fill="none" stroke="#151515" stroke-width="1.15" stroke-linejoin="round" stroke-linecap="round"/>
<path transform="translate(0 0)" d="M154.7 251.1 q1.6 -2.4 3.2 -0.6 q1.4 1.8 3 -0.4" fill="none" stroke="#151515" stroke-width="1.03" stroke-linejoin="round" stroke-linecap="round"/>
<ellipse cx="164.0" cy="249.8" rx="2.0" ry="1.3" fill="none" stroke="#151515" stroke-width="1.26"/>
<path d="M159.4 245.0 L164.0 243.9 L166.4 245.6" fill="none" stroke="#151515" stroke-width="1.03" stroke-linejoin="round" stroke-linecap="round"/>
<path transform="translate(0 0)" d="M137.1 261.7 Q141.7 264.7 146.8 263.6 Q151.0 260.8 153.8 260.4 Q158.4 261.2 163.5 258.6" fill="none" stroke="#151515" stroke-width="1.72" stroke-linejoin="round" stroke-linecap="round"/>
<path d="M163.6 251.0 L163.6 243.8 L167.7 242.7 L167.7 249.2" fill="none" stroke="#151515" stroke-width="1.26" stroke-linejoin="round" stroke-linecap="round"/>
<path d="M163.6 247.4 L167.7 246.3" fill="none" stroke="#151515" stroke-width="1.26" stroke-linejoin="round" stroke-linecap="round"/>
<path d="M167.7 249.2 L173.5 247.7 L173.5 242.3" fill="none" stroke="#151515" stroke-width="1.15" stroke-linejoin="round" stroke-linecap="round"/>
<path d="M169.4 241.6 L173.5 240.7 L177.1 242.0 L177.1 245.6" fill="none" stroke="#151515" stroke-width="1.03" stroke-linejoin="round" stroke-linecap="round"/>
<ellipse cx="173.1" cy="253.2" rx="5.4" ry="3.2" fill="none" stroke="#151515" stroke-width="1.55"/>
<ellipse cx="172.8" cy="252.6" rx="2.5" ry="1.4" fill="none" stroke="#151515" stroke-width="1.15"/>
<path d="M170.3 250.4 L170.3 247.4" fill="none" stroke="#151515" stroke-width="1.03" stroke-linejoin="round" stroke-linecap="round"/>
<ellipse cx="184.8" cy="250.1" rx="5.1" ry="3.0" fill="none" stroke="#151515" stroke-width="1.55"/>
<ellipse cx="184.5" cy="249.5" rx="2.4" ry="1.3" fill="none" stroke="#151515" stroke-width="1.15"/>
<path d="M178.4 245.2 L178.4 251.0" fill="none" stroke="#151515" stroke-width="1.15" stroke-linejoin="round" stroke-linecap="round"/>
<path d="M176.2 247.7 L181.1 246.5" fill="none" stroke="#151515" stroke-width="1.15" stroke-linejoin="round" stroke-linecap="round"/>
<path d="M179.5 242.9 L183.8 241.8 L183.8 245.9 L189.2 244.5 L189.2 241.0" fill="none" stroke="#151515" stroke-width="1.15" stroke-linejoin="round" stroke-linecap="round"/>
<path transform="translate(0 0)" d="M181.6 244.7 q1.6 -2.4 3.2 -0.6 q1.4 1.8 3 -0.4" fill="none" stroke="#151515" stroke-width="1.03" stroke-linejoin="round" stroke-linecap="round"/>
<ellipse cx="190.7" cy="243.4" rx="2.0" ry="1.3" fill="none" stroke="#151515" stroke-width="1.26"/>
<path d="M186.2 238.7 L190.7 237.6 L193.0 239.2" fill="none" stroke="#151515" stroke-width="1.03" stroke-linejoin="round" stroke-linecap="round"/>
<path transform="translate(0 0)" d="M164.5 255.0 Q169.0 257.9 173.9 256.8 Q178.0 254.1 180.7 253.7 Q185.3 254.4 190.1 251.9" fill="none" stroke="#151515" stroke-width="1.72" stroke-linejoin="round" stroke-linecap="round"/>
<path d="M191.0 244.3 L191.0 237.3 L195.0 236.2 L195.0 242.6" fill="none" stroke="#151515" stroke-width="1.26" stroke-linejoin="round" stroke-linecap="round"/>
<path d="M191.0 240.8 L195.0 239.8" fill="none" stroke="#151515" stroke-width="1.26" stroke-linejoin="round" stroke-linecap="round"/>
<path d="M195.0 242.6 L200.6 241.2 L200.6 235.9" fill="none" stroke="#151515" stroke-width="1.15" stroke-linejoin="round" stroke-linecap="round"/>
<path d="M196.6 235.2 L200.6 234.3 L204.2 235.5 L204.2 239.1" fill="none" stroke="#151515" stroke-width="1.03" stroke-linejoin="round" stroke-linecap="round"/>
<ellipse cx="200.2" cy="246.5" rx="5.3" ry="3.1" fill="none" stroke="#151515" stroke-width="1.55"/>
<ellipse cx="199.9" cy="245.9" rx="2.5" ry="1.3" fill="none" stroke="#151515" stroke-width="1.15"/>
<path d="M197.6 243.8 L197.6 240.8" fill="none" stroke="#151515" stroke-width="1.03" stroke-linejoin="round" stroke-linecap="round"/>
<path d="M205.4 238.7 L205.4 244.3" fill="none" stroke="#151515" stroke-width="1.15" stroke-linejoin="round" stroke-linecap="round"/>
<path d="M203.3 241.2 L208.0 239.9" fill="none" stroke="#151515" stroke-width="1.15" stroke-linejoin="round" stroke-linecap="round"/>
<path d="M206.4 236.4 L210.7 235.4 L210.7 239.4 L216.0 238.0 L216.0 234.7" fill="none" stroke="#151515" stroke-width="1.15" stroke-linejoin="round" stroke-linecap="round"/>
<path transform="translate(0 0)" d="M208.6 238.2 q1.6 -2.4 3.2 -0.6 q1.4 1.8 3 -0.4" fill="none" stroke="#151515" stroke-width="1.03" stroke-linejoin="round" stroke-linecap="round"/>
<ellipse cx="217.4" cy="236.9" rx="1.9" ry="1.2" fill="none" stroke="#151515" stroke-width="1.26"/>
<path d="M213.0 232.4 L217.4 231.3 L219.6 232.9" fill="none" stroke="#151515" stroke-width="1.03" stroke-linejoin="round" stroke-linecap="round"/>
<path transform="translate(0 0)" d="M191.8 248.2 Q196.2 251.0 201.0 250.0 Q205.0 247.3 207.7 247.0 Q212.1 247.7 216.8 245.2" fill="none" stroke="#151515" stroke-width="1.72" stroke-linejoin="round" stroke-linecap="round"/>
<path d="M185.0 250.0 L185.0 232.8 L197.5 231.3 L202.5 236.9 L210.0 238.8 L216.3 247.5 L199.0 252.2" fill="none" stroke="#151515" stroke-width="1.15" stroke-linejoin="round" stroke-linecap="round"/>
<path d="M179.4 237.8 L183.6 237.0 L183.8 241.0 L179.6 241.8 Z" fill="none" stroke="#151515" stroke-width="1.03" stroke-linejoin="round" stroke-linecap="round"/>
<path transform="translate(0 0)" d="M188 244.6 q2.4 -3 4.6 -0.4 q1.6 2 3.6 0.2 M196 246.4 l4 -1 l0.6 2.4 M190 247.6 l4.4 -1" fill="none" stroke="#151515" stroke-width="1.15" stroke-linejoin="round" stroke-linecap="round"/>
<path transform="translate(0 0)" d="M203.6 240.6 q2 -1.6 3.4 0.4 q1.4 2.2 3.6 1.2" fill="none" stroke="#151515" stroke-width="1.03" stroke-linejoin="round" stroke-linecap="round"/>
<path d="M56.9 449.1 L63.3 446.0 L75.3 443.2 L230.8 407.2 L232.3 404.7 L239.8 410.7 L249.8 413.2 L259.8 422.0 L269.8 419.5 L283.6 424.5 L283.6 433.2 L291.1 444.5 L291.1 454.5 L106.3 511.0 L56.9 476.0 Z" fill="#fff" stroke="#151515" stroke-width="1.38" stroke-linejoin="round" stroke-linecap="round"/>
<path d="M289.6 443.6 L265.4 450.3 L266.2 461.2" fill="none" stroke="#151515" stroke-width="1.03" stroke-linejoin="round" stroke-linecap="round"/>
<path d="M269.8 419.5 L269.8 425.2" fill="none" stroke="#151515" stroke-width="0.92" stroke-linejoin="round" stroke-linecap="round"/>
<path d="M283.6 433.2 L274.3 435.6 L269.9 430.2" fill="none" stroke="#151515" stroke-width="1.03" stroke-linejoin="round" stroke-linecap="round"/>
<ellipse cx="272.0" cy="452.0" rx="0.5" ry="0.5" fill="none" stroke="#151515" stroke-width="0.92"/>
<ellipse cx="280.4" cy="450.3" rx="0.5" ry="0.5" fill="none" stroke="#151515" stroke-width="0.92"/>
<path d="M79.6 446.0 L230.3 410.2" fill="none" stroke="#151515" stroke-width="1.03" stroke-linejoin="round" stroke-linecap="round"/>
<path d="M56.9 449.1 L67.3 454.7 L77.3 461.2 L90.3 467.2 L99.3 469.7 L107.3 475.2 L107.8 491.2" fill="none" stroke="#151515" stroke-width="1.15" stroke-linejoin="round" stroke-linecap="round"/>
<path d="M75.1 447.8 L77.6 452.2 L83.8 458.5 L90.1 464.1 L98.8 466.6 L128.3 458.4 L261.3 425.7" fill="none" stroke="#151515" stroke-width="1.15" stroke-linejoin="round" stroke-linecap="round"/>
<path d="M85.3 456.2 L96.3 461.4 L128.3 452.8 L194.6 439.5 L253.3 425.1" fill="none" stroke="#151515" stroke-width="1.72" stroke-linejoin="round" stroke-linecap="round"/>
<path d="M105.3 486.5 L105.8 510.7" fill="none" stroke="#151515" stroke-width="1.15" stroke-linejoin="round" stroke-linecap="round"/>
<path d="M60.7 461.6 L60.7 467.7 L66.9 471.8 L66.9 465.7" fill="none" stroke="#151515" stroke-width="1.49" stroke-linejoin="round" stroke-linecap="round"/>
<path d="M62.3 455.2 L65.3 454.2 L65.3 459.2" fill="none" stroke="#151515" stroke-width="1.03" stroke-linejoin="round" stroke-linecap="round"/>
<path d="M73.2 471.0 L73.2 479.8 L79.3 484.2 L81.3 482.8 L81.3 472.7 L76.3 469.2" fill="none" stroke="#151515" stroke-width="1.49" stroke-linejoin="round" stroke-linecap="round"/>
<path d="M73.2 479.8 L75.3 478.6 L75.3 473.2" fill="none" stroke="#151515" stroke-width="1.03" stroke-linejoin="round" stroke-linecap="round"/>
<path d="M74.3 476.7 L76.9 480.8 L80.3 481.2" fill="none" stroke="#151515" stroke-width="1.03" stroke-linejoin="round" stroke-linecap="round"/>
<path d="M85.1 478.5 L85.1 493.2 L91.3 497.7 L96.3 496.2 L100.3 499.7 L101.3 485.2 L95.3 479.8 L89.3 476.2" fill="none" stroke="#151515" stroke-width="1.49" stroke-linejoin="round" stroke-linecap="round"/>
<path d="M85.1 493.2 L87.8 491.8 L87.8 480.2" fill="none" stroke="#151515" stroke-width="1.03" stroke-linejoin="round" stroke-linecap="round"/>
<path d="M88.3 487.2 L92.3 493.2 L98.3 494.2" fill="none" stroke="#151515" stroke-width="1.03" stroke-linejoin="round" stroke-linecap="round"/>
<path d="M66.9 471.8 L73.2 476.2" fill="none" stroke="#151515" stroke-width="1.03" stroke-linejoin="round" stroke-linecap="round"/>
<path d="M81.3 482.8 L85.1 485.4" fill="none" stroke="#151515" stroke-width="1.03" stroke-linejoin="round" stroke-linecap="round"/>
<path d="M58.8 474.2 L102.3 505.7" fill="none" stroke="#151515" stroke-width="1.03" stroke-linejoin="round" stroke-linecap="round"/>
<path d="M64.3 477.2 L64.9 480.6" fill="none" stroke="#151515" stroke-width="0.92" stroke-linejoin="round" stroke-linecap="round"/>
<path d="M78.3 487.6 L79.3 490.6" fill="none" stroke="#151515" stroke-width="0.92" stroke-linejoin="round" stroke-linecap="round"/>
<path d="M95.3 499.2 L96.3 502.2" fill="none" stroke="#151515" stroke-width="0.92" stroke-linejoin="round" stroke-linecap="round"/>
<path d="M92.6 472.2 L105.1 478.5" fill="none" stroke="#151515" stroke-width="1.03" stroke-linejoin="round" stroke-linecap="round"/>
<path d="M92.8 477.7 L100.3 472.7" fill="none" stroke="#151515" stroke-width="1.03" stroke-linejoin="round" stroke-linecap="round"/>
<path d="M96.3 479.2 L104.3 474.2" fill="none" stroke="#151515" stroke-width="1.03" stroke-linejoin="round" stroke-linecap="round"/>
<path d="M98.3 471.2 L103.9 481.2" fill="none" stroke="#151515" stroke-width="0.92" stroke-linejoin="round" stroke-linecap="round"/>
<path d="M70.7 454.2 L72.3 462.2 L76.3 460.2" fill="none" stroke="#151515" stroke-width="1.38" stroke-linejoin="round" stroke-linecap="round"/>
<path d="M74.3 456.2 L78.3 465.2 L83.3 463.7" fill="none" stroke="#151515" stroke-width="1.38" stroke-linejoin="round" stroke-linecap="round"/>
<path d="M79.3 459.2 L81.9 466.8" fill="none" stroke="#151515" stroke-width="1.38" stroke-linejoin="round" stroke-linecap="round"/>
<path d="M71.3 458.2 L74.7 457.2" fill="none" stroke="#151515" stroke-width="1.15" stroke-linejoin="round" stroke-linecap="round"/>
<path d="M76.3 461.2 L80.3 460.2" fill="none" stroke="#151515" stroke-width="1.15" stroke-linejoin="round" stroke-linecap="round"/>
<path d="M62.9 451.2 L68.3 457.2 L68.3 465.2" fill="none" stroke="#151515" stroke-width="1.03" stroke-linejoin="round" stroke-linecap="round"/>
<path d="M90.3 468.8 L90.3 474.8 L95.3 477.8" fill="none" stroke="#151515" stroke-width="1.03" stroke-linejoin="round" stroke-linecap="round"/>
<ellipse cx="112.6" cy="501.4" rx="3.0" ry="3.3" fill="none" stroke="#151515" stroke-width="1.15" transform="rotate(20 112.6 501.4)"/>
<path transform="translate(38.3 175.2)" d="M73 324.6 q2.6 -0.6 2.6 1.8 q-0.4 2 -2 1.6" fill="none" stroke="#151515" stroke-width="0.92" stroke-linejoin="round" stroke-linecap="round"/>
<path d="M107.9 491.0 L116.3 491.6 L128.2 488.5" fill="none" stroke="#151515" stroke-width="1.03" stroke-linejoin="round" stroke-linecap="round"/>
<path d="M106.3 499.8 L108.9 496.8 L111.9 496.0 L118.8 497.2 L128.2 494.6" fill="none" stroke="#151515" stroke-width="1.15" stroke-linejoin="round" stroke-linecap="round"/>
<path d="M106.3 475.2 L111.3 482.8 L116.3 486.2" fill="none" stroke="#151515" stroke-width="1.03" stroke-linejoin="round" stroke-linecap="round"/>
<path d="M128.2 501.6 L128.2 491.2 L130.3 487.6 L135.3 485.8 L144.8 485.4 L144.8 495.8 L128.2 501.6" fill="none" stroke="#151515" stroke-width="1.26" stroke-linejoin="round" stroke-linecap="round"/>
<path d="M144.8 493.6 L151.3 491.8 L151.3 487.3 L165.3 484.0" fill="none" stroke="#151515" stroke-width="1.15" stroke-linejoin="round" stroke-linecap="round"/>
<path d="M142.9 486.2 L142.9 496.0" fill="none" stroke="#151515" stroke-width="0.92" stroke-linejoin="round" stroke-linecap="round"/>
<ellipse cx="136.5" cy="493.4" rx="4.2" ry="5.4" fill="none" stroke="#151515" stroke-width="1.15" transform="rotate(15 136.5 493.4)"/>
<path transform="translate(38.3 175.2)" d="M96.4 315.2 A2.8 3.8 15 0 1 100.4 320.8" fill="none" stroke="#151515" stroke-width="0.92" stroke-linejoin="round" stroke-linecap="round"/>
<path transform="translate(38.3 175.2)" d="M127 308.8 L127.6 306 Q131.5 301 136.6 303.6 L137.4 306.6 L153.8 302.4" fill="none" stroke="#151515" stroke-width="1.15" stroke-linejoin="round" stroke-linecap="round"/>
<path d="M192.1 474.7 L214.6 468.5 L214.6 480.3 L192.1 486.0 Z" fill="none" stroke="#151515" stroke-width="1.15" stroke-linejoin="round" stroke-linecap="round"/>
<path transform="translate(38.3 175.2)" d="M176.3 296.4 L190.6 292.6 L191 289 Q195.6 283.6 200.6 286.6 L201.4 289.8 L218.4 285.2 L218.8 281.6 Q223.4 276.2 228.4 279.4 L229 282 L252.5 271.3" fill="none" stroke="#151515" stroke-width="1.15" stroke-linejoin="round" stroke-linecap="round"/>
<ellipse cx="170.3" cy="485.2" rx="3.4" ry="5.2" fill="none" stroke="#151515" stroke-width="1.15" transform="rotate(18 170.3 485.2)"/>
<ellipse cx="202.1" cy="475.5" rx="3.6" ry="4.8" fill="none" stroke="#151515" stroke-width="1.15" transform="rotate(18 202.1 475.5)"/>
<path transform="translate(38.3 175.2)" d="M162.2 297.4 A2.6 3.4 18 0 1 165.8 302.8" fill="none" stroke="#151515" stroke-width="0.92" stroke-linejoin="round" stroke-linecap="round"/>
<ellipse cx="195.5" cy="476.8" rx="0.5" ry="0.7" fill="none" stroke="#151515" stroke-width="0.92"/>
<ellipse cx="208.9" cy="472.6" rx="0.6" ry="0.9" fill="none" stroke="#151515" stroke-width="0.92"/>
<ellipse cx="234.3" cy="467.0" rx="3.4" ry="5.2" fill="none" stroke="#151515" stroke-width="1.15" transform="rotate(18 234.3 467.0)"/>
<path transform="translate(38.3 175.2)" d="M197.6 288.4 A2.6 4 18 0 1 196.6 295.6" fill="none" stroke="#151515" stroke-width="0.92" stroke-linejoin="round" stroke-linecap="round"/>
<ellipse cx="262.1" cy="459.5" rx="3.2" ry="5.0" fill="none" stroke="#151515" stroke-width="1.15" transform="rotate(18 262.1 459.5)"/>
<path transform="translate(38.3 175.2)" d="M225.4 281 A2.6 4 18 0 1 224.4 288" fill="none" stroke="#151515" stroke-width="0.92" stroke-linejoin="round" stroke-linecap="round"/>
<path transform="translate(38.3 175.2)" d="M78.1 296.7 A3.1 3 0 1 0 78.3 300.9" fill="none" stroke="#151515" stroke-width="1.15" stroke-linejoin="round" stroke-linecap="round"/>
<path d="M108.2 474.3 L109.4 475.3" fill="none" stroke="#151515" stroke-width="1.03" stroke-linejoin="round" stroke-linecap="round"/>
<path d="M118.4 471.1 L119.4 472.1" fill="none" stroke="#151515" stroke-width="1.03" stroke-linejoin="round" stroke-linecap="round"/>
<path transform="translate(38.3 175.2)" d="M106.4 288.3 A3.1 3 0 1 0 106.6 292.5" fill="none" stroke="#151515" stroke-width="1.15" stroke-linejoin="round" stroke-linecap="round"/>
<path d="M136.5 465.9 L137.7 466.9" fill="none" stroke="#151515" stroke-width="1.03" stroke-linejoin="round" stroke-linecap="round"/>
<path d="M146.7 462.7 L147.7 463.7" fill="none" stroke="#151515" stroke-width="1.03" stroke-linejoin="round" stroke-linecap="round"/>
<path transform="translate(38.3 175.2)" d="M138.2 279.6 A3.1 3 0 1 0 138.4 283.8" fill="none" stroke="#151515" stroke-width="1.15" stroke-linejoin="round" stroke-linecap="round"/>
<path d="M168.3 457.2 L169.5 458.2" fill="none" stroke="#151515" stroke-width="1.03" stroke-linejoin="round" stroke-linecap="round"/>
<path d="M178.5 454.0 L179.5 455.0" fill="none" stroke="#151515" stroke-width="1.03" stroke-linejoin="round" stroke-linecap="round"/>
<path transform="translate(38.3 175.2)" d="M168.9 270.8 A3.1 3 0 1 0 169.1 275.0" fill="none" stroke="#151515" stroke-width="1.15" stroke-linejoin="round" stroke-linecap="round"/>
<path d="M199.0 448.4 L200.2 449.4" fill="none" stroke="#151515" stroke-width="1.03" stroke-linejoin="round" stroke-linecap="round"/>
<path d="M209.2 445.2 L210.2 446.2" fill="none" stroke="#151515" stroke-width="1.03" stroke-linejoin="round" stroke-linecap="round"/>
<path transform="translate(38.3 175.2)" d="M196.4 263.3 A3.1 3 0 1 0 196.6 267.5" fill="none" stroke="#151515" stroke-width="1.15" stroke-linejoin="round" stroke-linecap="round"/>
<path d="M226.5 440.9 L227.7 441.9" fill="none" stroke="#151515" stroke-width="1.03" stroke-linejoin="round" stroke-linecap="round"/>
<path d="M236.7 437.7 L237.7 438.7" fill="none" stroke="#151515" stroke-width="1.03" stroke-linejoin="round" stroke-linecap="round"/>
<path transform="translate(38.3 175.2)" d="M222.6 256.4 A3.1 3 0 1 0 222.8 260.6" fill="none" stroke="#151515" stroke-width="1.15" stroke-linejoin="round" stroke-linecap="round"/>
<path d="M252.7 434.0 L253.9 435.0" fill="none" stroke="#151515" stroke-width="1.03" stroke-linejoin="round" stroke-linecap="round"/>
<path d="M262.9 430.8 L263.9 431.8" fill="none" stroke="#151515" stroke-width="1.03" stroke-linejoin="round" stroke-linecap="round"/>
<path transform="translate(38.3 175.2)" d="M86.7 291.5 A3.8 4.2 0 1 1 86.5 299.1" fill="none" stroke="#151515" stroke-width="1.49" stroke-linejoin="round" stroke-linecap="round"/>
<path d="M125.4 468.7 L130.0 468.3" fill="none" stroke="#151515" stroke-width="1.15" stroke-linejoin="round" stroke-linecap="round"/>
<path transform="translate(38.3 175.2)" d="M118.0 281.3 A3.8 4.2 0 1 1 117.8 288.9" fill="none" stroke="#151515" stroke-width="1.49" stroke-linejoin="round" stroke-linecap="round"/>
<path d="M156.7 458.5 L161.3 458.1" fill="none" stroke="#151515" stroke-width="1.15" stroke-linejoin="round" stroke-linecap="round"/>
<path transform="translate(38.3 175.2)" d="M148.7 272.5 A3.8 4.2 0 1 1 148.5 280.1" fill="none" stroke="#151515" stroke-width="1.49" stroke-linejoin="round" stroke-linecap="round"/>
<path d="M187.4 449.7 L192.0 449.3" fill="none" stroke="#151515" stroke-width="1.15" stroke-linejoin="round" stroke-linecap="round"/>
<path transform="translate(38.3 175.2)" d="M178.0 263.2 A3.8 4.2 0 1 1 177.8 270.8" fill="none" stroke="#151515" stroke-width="1.49" stroke-linejoin="round" stroke-linecap="round"/>
<path d="M216.7 440.4 L221.3 440.0" fill="none" stroke="#151515" stroke-width="1.15" stroke-linejoin="round" stroke-linecap="round"/>
<path transform="translate(38.3 175.2)" d="M204.9 256.9 A3.8 4.2 0 1 1 204.7 264.5" fill="none" stroke="#151515" stroke-width="1.49" stroke-linejoin="round" stroke-linecap="round"/>
<path d="M243.6 434.1 L248.2 433.7" fill="none" stroke="#151515" stroke-width="1.15" stroke-linejoin="round" stroke-linecap="round"/>
<path transform="translate(38.3 175.2)" d="M228.4 249.8 A3.8 4.2 0 1 1 228.2 257.4" fill="none" stroke="#151515" stroke-width="1.49" stroke-linejoin="round" stroke-linecap="round"/>
<path d="M267.1 427.0 L271.7 426.6" fill="none" stroke="#151515" stroke-width="1.15" stroke-linejoin="round" stroke-linecap="round"/>
<ellipse cx="123.2" cy="480.3" rx="3.7" ry="2.9" fill="none" stroke="#151515" stroke-width="1.26"/>
<path transform="translate(38.3 175.2)" d="M82.1 304.7 Q84.9 302.5 87.7 304.7" fill="none" stroke="#151515" stroke-width="1.03" stroke-linejoin="round" stroke-linecap="round"/>
<ellipse cx="140.2" cy="476.4" rx="3.7" ry="2.9" fill="none" stroke="#151515" stroke-width="1.26"/>
<path transform="translate(38.3 175.2)" d="M99.1 300.8 Q101.9 298.6 104.7 300.8" fill="none" stroke="#151515" stroke-width="1.03" stroke-linejoin="round" stroke-linecap="round"/>
<ellipse cx="155.2" cy="471.2" rx="3.7" ry="2.9" fill="none" stroke="#151515" stroke-width="1.26"/>
<path transform="translate(38.3 175.2)" d="M114.1 295.6 Q116.9 293.4 119.7 295.6" fill="none" stroke="#151515" stroke-width="1.03" stroke-linejoin="round" stroke-linecap="round"/>
<ellipse cx="171.4" cy="467.1" rx="3.7" ry="2.9" fill="none" stroke="#151515" stroke-width="1.26"/>
<path transform="translate(38.3 175.2)" d="M130.3 291.5 Q133.1 289.3 135.9 291.5" fill="none" stroke="#151515" stroke-width="1.03" stroke-linejoin="round" stroke-linecap="round"/>
<ellipse cx="185.2" cy="462.6" rx="3.7" ry="2.9" fill="none" stroke="#151515" stroke-width="1.26"/>
<path transform="translate(38.3 175.2)" d="M144.1 287.0 Q146.9 284.8 149.7 287.0" fill="none" stroke="#151515" stroke-width="1.03" stroke-linejoin="round" stroke-linecap="round"/>
<ellipse cx="202.7" cy="458.2" rx="3.7" ry="2.9" fill="none" stroke="#151515" stroke-width="1.26"/>
<path transform="translate(38.3 175.2)" d="M161.6 282.6 Q164.4 280.4 167.2 282.6" fill="none" stroke="#151515" stroke-width="1.03" stroke-linejoin="round" stroke-linecap="round"/>
<ellipse cx="217.1" cy="453.8" rx="3.7" ry="2.9" fill="none" stroke="#151515" stroke-width="1.26"/>
<path transform="translate(38.3 175.2)" d="M176.0 278.2 Q178.8 276.0 181.6 278.2" fill="none" stroke="#151515" stroke-width="1.03" stroke-linejoin="round" stroke-linecap="round"/>
<ellipse cx="230.8" cy="450.1" rx="3.7" ry="2.9" fill="none" stroke="#151515" stroke-width="1.26"/>
<path transform="translate(38.3 175.2)" d="M189.7 274.5 Q192.5 272.3 195.3 274.5" fill="none" stroke="#151515" stroke-width="1.03" stroke-linejoin="round" stroke-linecap="round"/>
<ellipse cx="244.6" cy="445.7" rx="3.7" ry="2.9" fill="none" stroke="#151515" stroke-width="1.26"/>
<path transform="translate(38.3 175.2)" d="M203.5 270.1 Q206.3 267.9 209.1 270.1" fill="none" stroke="#151515" stroke-width="1.03" stroke-linejoin="round" stroke-linecap="round"/>
<ellipse cx="258.3" cy="442.0" rx="3.7" ry="2.9" fill="none" stroke="#151515" stroke-width="1.26"/>
<path transform="translate(38.3 175.2)" d="M217.2 266.4 Q220.0 264.2 222.8 266.4" fill="none" stroke="#151515" stroke-width="1.03" stroke-linejoin="round" stroke-linecap="round"/>
<ellipse cx="272.1" cy="437.8" rx="3.7" ry="2.9" fill="none" stroke="#151515" stroke-width="1.26"/>
<path transform="translate(38.3 175.2)" d="M231.0 262.2 Q233.8 260.0 236.6 262.2" fill="none" stroke="#151515" stroke-width="1.03" stroke-linejoin="round" stroke-linecap="round"/>
<ellipse cx="111.7" cy="483.0" rx="2.6" ry="2.2" fill="none" stroke="#151515" stroke-width="1.15"/>
<path d="M92.3 452.8 L92.3 444.8 L96.9 443.6 L96.9 450.8" fill="none" stroke="#151515" stroke-width="1.26" stroke-linejoin="round" stroke-linecap="round"/>
<path d="M92.3 448.8 L96.9 447.6" fill="none" stroke="#151515" stroke-width="1.26" stroke-linejoin="round" stroke-linecap="round"/>
<path d="M96.9 450.8 L103.3 449.2 L103.3 443.2" fill="none" stroke="#151515" stroke-width="1.15" stroke-linejoin="round" stroke-linecap="round"/>
<path d="M98.7 442.4 L103.3 441.4 L107.3 442.8 L107.3 446.8" fill="none" stroke="#151515" stroke-width="1.03" stroke-linejoin="round" stroke-linecap="round"/>
<ellipse cx="102.8" cy="455.2" rx="6.0" ry="3.5" fill="none" stroke="#151515" stroke-width="1.55"/>
<ellipse cx="102.5" cy="454.6" rx="2.8" ry="1.5" fill="none" stroke="#151515" stroke-width="1.15"/>
<path d="M99.8 452.2 L99.8 448.8" fill="none" stroke="#151515" stroke-width="1.03" stroke-linejoin="round" stroke-linecap="round"/>
<ellipse cx="115.8" cy="451.8" rx="5.6" ry="3.3" fill="none" stroke="#151515" stroke-width="1.55"/>
<ellipse cx="115.5" cy="451.2" rx="2.6" ry="1.4" fill="none" stroke="#151515" stroke-width="1.15"/>
<path d="M108.7 446.4 L108.7 452.8" fill="none" stroke="#151515" stroke-width="1.15" stroke-linejoin="round" stroke-linecap="round"/>
<path d="M106.3 449.2 L111.7 447.8" fill="none" stroke="#151515" stroke-width="1.15" stroke-linejoin="round" stroke-linecap="round"/>
<path d="M109.9 443.8 L114.7 442.6 L114.7 447.2 L120.7 445.6 L120.7 441.8" fill="none" stroke="#151515" stroke-width="1.15" stroke-linejoin="round" stroke-linecap="round"/>
<path transform="translate(38.3 175.2)" d="M74.0 270.6 q1.6 -2.4 3.2 -0.6 q1.4 1.8 3 -0.4" fill="none" stroke="#151515" stroke-width="1.03" stroke-linejoin="round" stroke-linecap="round"/>
<ellipse cx="122.3" cy="444.4" rx="2.2" ry="1.4" fill="none" stroke="#151515" stroke-width="1.26"/>
<path d="M117.3 439.2 L122.3 438.0 L124.9 439.8" fill="none" stroke="#151515" stroke-width="1.03" stroke-linejoin="round" stroke-linecap="round"/>
<path transform="translate(38.3 175.2)" d="M55.0 282.0 Q60.0 285.2 65.4 284.0 Q70.0 281.0 73.0 280.6 Q78.0 281.4 83.4 278.6" fill="none" stroke="#151515" stroke-width="1.72" stroke-linejoin="round" stroke-linecap="round"/>
<path d="M119.7 446.1 L119.7 438.3 L124.2 437.2 L124.2 444.2" fill="none" stroke="#151515" stroke-width="1.26" stroke-linejoin="round" stroke-linecap="round"/>
<path d="M119.7 442.2 L124.2 441.1" fill="none" stroke="#151515" stroke-width="1.26" stroke-linejoin="round" stroke-linecap="round"/>
<path d="M124.2 444.2 L130.4 442.6 L130.4 436.8" fill="none" stroke="#151515" stroke-width="1.15" stroke-linejoin="round" stroke-linecap="round"/>
<path d="M125.9 436.0 L130.4 435.0 L134.3 436.4 L134.3 440.3" fill="none" stroke="#151515" stroke-width="1.03" stroke-linejoin="round" stroke-linecap="round"/>
<ellipse cx="129.9" cy="448.5" rx="5.9" ry="3.4" fill="none" stroke="#151515" stroke-width="1.55"/>
<ellipse cx="129.6" cy="447.9" rx="2.7" ry="1.5" fill="none" stroke="#151515" stroke-width="1.15"/>
<path d="M127.0 445.6 L127.0 442.2" fill="none" stroke="#151515" stroke-width="1.03" stroke-linejoin="round" stroke-linecap="round"/>
<ellipse cx="142.6" cy="445.2" rx="5.5" ry="3.2" fill="none" stroke="#151515" stroke-width="1.55"/>
<ellipse cx="142.3" cy="444.6" rx="2.5" ry="1.4" fill="none" stroke="#151515" stroke-width="1.15"/>
<path d="M135.7 439.9 L135.7 446.1" fill="none" stroke="#151515" stroke-width="1.15" stroke-linejoin="round" stroke-linecap="round"/>
<path d="M133.4 442.6 L138.6 441.3" fill="none" stroke="#151515" stroke-width="1.15" stroke-linejoin="round" stroke-linecap="round"/>
<path d="M136.9 437.4 L141.6 436.2 L141.6 440.7 L147.4 439.1 L147.4 435.4" fill="none" stroke="#151515" stroke-width="1.15" stroke-linejoin="round" stroke-linecap="round"/>
<path transform="translate(38.3 175.2)" d="M100.9 264.1 q1.6 -2.4 3.2 -0.6 q1.4 1.8 3 -0.4" fill="none" stroke="#151515" stroke-width="1.03" stroke-linejoin="round" stroke-linecap="round"/>
<ellipse cx="149.0" cy="437.9" rx="2.1" ry="1.4" fill="none" stroke="#151515" stroke-width="1.26"/>
<path d="M144.1 432.9 L149.0 431.7 L151.5 433.5" fill="none" stroke="#151515" stroke-width="1.03" stroke-linejoin="round" stroke-linecap="round"/>
<path transform="translate(38.3 175.2)" d="M82.4 275.2 Q87.2 278.4 92.5 277.2 Q97.0 274.3 99.9 273.9 Q104.8 274.7 110.1 271.9" fill="none" stroke="#151515" stroke-width="1.72" stroke-linejoin="round" stroke-linecap="round"/>
<path d="M147.1 439.5 L147.1 431.9 L151.5 430.7 L151.5 437.6" fill="none" stroke="#151515" stroke-width="1.26" stroke-linejoin="round" stroke-linecap="round"/>
<path d="M147.1 435.7 L151.5 434.5" fill="none" stroke="#151515" stroke-width="1.26" stroke-linejoin="round" stroke-linecap="round"/>
<path d="M151.5 437.6 L157.6 436.1 L157.6 430.4" fill="none" stroke="#151515" stroke-width="1.15" stroke-linejoin="round" stroke-linecap="round"/>
<path d="M153.2 429.6 L157.6 428.6 L161.4 430.0 L161.4 433.8" fill="none" stroke="#151515" stroke-width="1.03" stroke-linejoin="round" stroke-linecap="round"/>
<ellipse cx="157.1" cy="441.8" rx="5.7" ry="3.3" fill="none" stroke="#151515" stroke-width="1.55"/>
<ellipse cx="156.8" cy="441.2" rx="2.7" ry="1.4" fill="none" stroke="#151515" stroke-width="1.15"/>
<path d="M154.2 438.9 L154.2 435.7" fill="none" stroke="#151515" stroke-width="1.03" stroke-linejoin="round" stroke-linecap="round"/>
<ellipse cx="169.5" cy="438.5" rx="5.3" ry="3.1" fill="none" stroke="#151515" stroke-width="1.55"/>
<ellipse cx="169.2" cy="438.0" rx="2.5" ry="1.3" fill="none" stroke="#151515" stroke-width="1.15"/>
<path d="M162.7 433.4 L162.7 439.5" fill="none" stroke="#151515" stroke-width="1.15" stroke-linejoin="round" stroke-linecap="round"/>
<path d="M160.4 436.1 L165.6 434.7" fill="none" stroke="#151515" stroke-width="1.15" stroke-linejoin="round" stroke-linecap="round"/>
<path d="M163.8 430.9 L168.4 429.8 L168.4 434.2 L174.1 432.6 L174.1 429.0" fill="none" stroke="#151515" stroke-width="1.15" stroke-linejoin="round" stroke-linecap="round"/>
<path transform="translate(38.3 175.2)" d="M127.8 257.6 q1.6 -2.4 3.2 -0.6 q1.4 1.8 3 -0.4" fill="none" stroke="#151515" stroke-width="1.03" stroke-linejoin="round" stroke-linecap="round"/>
<ellipse cx="175.6" cy="431.5" rx="2.1" ry="1.3" fill="none" stroke="#151515" stroke-width="1.26"/>
<path d="M170.9 426.5 L175.6 425.4 L178.1 427.1" fill="none" stroke="#151515" stroke-width="1.03" stroke-linejoin="round" stroke-linecap="round"/>
<path transform="translate(38.3 175.2)" d="M109.7 268.5 Q114.5 271.5 119.6 270.4 Q124.0 267.5 126.9 267.2 Q131.6 267.9 136.8 265.2" fill="none" stroke="#151515" stroke-width="1.72" stroke-linejoin="round" stroke-linecap="round"/>
<path d="M174.5 432.8 L174.5 425.4 L178.7 424.3 L178.7 431.0" fill="none" stroke="#151515" stroke-width="1.26" stroke-linejoin="round" stroke-linecap="round"/>
<path d="M174.5 429.1 L178.7 428.0" fill="none" stroke="#151515" stroke-width="1.26" stroke-linejoin="round" stroke-linecap="round"/>
<path d="M178.7 431.0 L184.7 429.5 L184.7 423.9" fill="none" stroke="#151515" stroke-width="1.15" stroke-linejoin="round" stroke-linecap="round"/>
<path d="M180.4 423.2 L184.7 422.3 L188.4 423.6 L188.4 427.3" fill="none" stroke="#151515" stroke-width="1.03" stroke-linejoin="round" stroke-linecap="round"/>
<ellipse cx="184.2" cy="435.1" rx="5.6" ry="3.2" fill="none" stroke="#151515" stroke-width="1.55"/>
<ellipse cx="183.9" cy="434.5" rx="2.6" ry="1.4" fill="none" stroke="#151515" stroke-width="1.15"/>
<path d="M181.4 432.3 L181.4 429.1" fill="none" stroke="#151515" stroke-width="1.03" stroke-linejoin="round" stroke-linecap="round"/>
<ellipse cx="196.3" cy="431.9" rx="5.2" ry="3.1" fill="none" stroke="#151515" stroke-width="1.55"/>
<ellipse cx="196.0" cy="431.4" rx="2.4" ry="1.3" fill="none" stroke="#151515" stroke-width="1.15"/>
<path d="M189.7 426.9 L189.7 432.8" fill="none" stroke="#151515" stroke-width="1.15" stroke-linejoin="round" stroke-linecap="round"/>
<path d="M187.5 429.5 L192.5 428.2" fill="none" stroke="#151515" stroke-width="1.15" stroke-linejoin="round" stroke-linecap="round"/>
<path d="M190.8 424.5 L195.3 423.4 L195.3 427.6 L200.8 426.2 L200.8 422.6" fill="none" stroke="#151515" stroke-width="1.15" stroke-linejoin="round" stroke-linecap="round"/>
<path transform="translate(38.3 175.2)" d="M154.7 251.1 q1.6 -2.4 3.2 -0.6 q1.4 1.8 3 -0.4" fill="none" stroke="#151515" stroke-width="1.03" stroke-linejoin="round" stroke-linecap="round"/>
<ellipse cx="202.3" cy="425.0" rx="2.0" ry="1.3" fill="none" stroke="#151515" stroke-width="1.26"/>
<path d="M197.7 420.2 L202.3 419.1 L204.7 420.8" fill="none" stroke="#151515" stroke-width="1.03" stroke-linejoin="round" stroke-linecap="round"/>
<path transform="translate(38.3 175.2)" d="M137.1 261.7 Q141.7 264.7 146.8 263.6 Q151.0 260.8 153.8 260.4 Q158.4 261.2 163.5 258.6" fill="none" stroke="#151515" stroke-width="1.72" stroke-linejoin="round" stroke-linecap="round"/>
<path d="M201.9 426.2 L201.9 419.0 L206.0 417.9 L206.0 424.4" fill="none" stroke="#151515" stroke-width="1.26" stroke-linejoin="round" stroke-linecap="round"/>
<path d="M201.9 422.6 L206.0 421.5" fill="none" stroke="#151515" stroke-width="1.26" stroke-linejoin="round" stroke-linecap="round"/>
<path d="M206.0 424.4 L211.8 422.9 L211.8 417.5" fill="none" stroke="#151515" stroke-width="1.15" stroke-linejoin="round" stroke-linecap="round"/>
<path d="M207.7 416.8 L211.8 415.9 L215.4 417.2 L215.4 420.8" fill="none" stroke="#151515" stroke-width="1.03" stroke-linejoin="round" stroke-linecap="round"/>
<ellipse cx="211.4" cy="428.4" rx="5.4" ry="3.2" fill="none" stroke="#151515" stroke-width="1.55"/>
<ellipse cx="211.1" cy="427.8" rx="2.5" ry="1.4" fill="none" stroke="#151515" stroke-width="1.15"/>
<path d="M208.6 425.6 L208.6 422.6" fill="none" stroke="#151515" stroke-width="1.03" stroke-linejoin="round" stroke-linecap="round"/>
<ellipse cx="223.1" cy="425.3" rx="5.1" ry="3.0" fill="none" stroke="#151515" stroke-width="1.55"/>
<ellipse cx="222.8" cy="424.7" rx="2.4" ry="1.3" fill="none" stroke="#151515" stroke-width="1.15"/>
<path d="M216.7 420.4 L216.7 426.2" fill="none" stroke="#151515" stroke-width="1.15" stroke-linejoin="round" stroke-linecap="round"/>
<path d="M214.5 422.9 L219.4 421.7" fill="none" stroke="#151515" stroke-width="1.15" stroke-linejoin="round" stroke-linecap="round"/>
<path d="M217.8 418.1 L222.1 417.0 L222.1 421.1 L227.5 419.7 L227.5 416.2" fill="none" stroke="#151515" stroke-width="1.15" stroke-linejoin="round" stroke-linecap="round"/>
<path transform="translate(38.3 175.2)" d="M181.6 244.7 q1.6 -2.4 3.2 -0.6 q1.4 1.8 3 -0.4" fill="none" stroke="#151515" stroke-width="1.03" stroke-linejoin="round" stroke-linecap="round"/>
<ellipse cx="229.0" cy="418.6" rx="2.0" ry="1.3" fill="none" stroke="#151515" stroke-width="1.26"/>
<path d="M224.5 413.9 L229.0 412.8 L231.3 414.4" fill="none" stroke="#151515" stroke-width="1.03" stroke-linejoin="round" stroke-linecap="round"/>
<path transform="translate(38.3 175.2)" d="M164.5 255.0 Q169.0 257.9 173.9 256.8 Q178.0 254.1 180.7 253.7 Q185.3 254.4 190.1 251.9" fill="none" stroke="#151515" stroke-width="1.72" stroke-linejoin="round" stroke-linecap="round"/>
<path d="M229.3 419.5 L229.3 412.5 L233.3 411.4 L233.3 417.8" fill="none" stroke="#151515" stroke-width="1.26" stroke-linejoin="round" stroke-linecap="round"/>
<path d="M229.3 416.0 L233.3 415.0" fill="none" stroke="#151515" stroke-width="1.26" stroke-linejoin="round" stroke-linecap="round"/>
<path d="M233.3 417.8 L238.9 416.4 L238.9 411.1" fill="none" stroke="#151515" stroke-width="1.15" stroke-linejoin="round" stroke-linecap="round"/>
<path d="M234.9 410.4 L238.9 409.5 L242.5 410.7 L242.5 414.3" fill="none" stroke="#151515" stroke-width="1.03" stroke-linejoin="round" stroke-linecap="round"/>
<ellipse cx="238.5" cy="421.7" rx="5.3" ry="3.1" fill="none" stroke="#151515" stroke-width="1.55"/>
<ellipse cx="238.2" cy="421.1" rx="2.5" ry="1.3" fill="none" stroke="#151515" stroke-width="1.15"/>
<path d="M235.9 419.0 L235.9 416.0" fill="none" stroke="#151515" stroke-width="1.03" stroke-linejoin="round" stroke-linecap="round"/>
<path d="M243.7 413.9 L243.7 419.5" fill="none" stroke="#151515" stroke-width="1.15" stroke-linejoin="round" stroke-linecap="round"/>
<path d="M241.6 416.4 L246.3 415.1" fill="none" stroke="#151515" stroke-width="1.15" stroke-linejoin="round" stroke-linecap="round"/>
<path d="M244.7 411.6 L249.0 410.6 L249.0 414.6 L254.3 413.2 L254.3 409.9" fill="none" stroke="#151515" stroke-width="1.15" stroke-linejoin="round" stroke-linecap="round"/>
<path transform="translate(38.3 175.2)" d="M208.6 238.2 q1.6 -2.4 3.2 -0.6 q1.4 1.8 3 -0.4" fill="none" stroke="#151515" stroke-width="1.03" stroke-linejoin="round" stroke-linecap="round"/>
<ellipse cx="255.7" cy="412.1" rx="1.9" ry="1.2" fill="none" stroke="#151515" stroke-width="1.26"/>
<path d="M251.3 407.6 L255.7 406.5 L257.9 408.1" fill="none" stroke="#151515" stroke-width="1.03" stroke-linejoin="round" stroke-linecap="round"/>
<path transform="translate(38.3 175.2)" d="M191.8 248.2 Q196.2 251.0 201.0 250.0 Q205.0 247.3 207.7 247.0 Q212.1 247.7 216.8 245.2" fill="none" stroke="#151515" stroke-width="1.72" stroke-linejoin="round" stroke-linecap="round"/>
<path d="M231.3 411.6 L231.3 423.2 L235.9 422.2" fill="none" stroke="#151515" stroke-width="1.03" stroke-linejoin="round" stroke-linecap="round"/>
<path d="M236.3 415.2 L241.3 414.2 L243.3 418.2 L250.3 416.8 L252.3 421.2 L259.8 422.0" fill="none" stroke="#151515" stroke-width="1.03" stroke-linejoin="round" stroke-linecap="round"/>
<path transform="translate(38.3 175.2)" d="M206 238 q2 -3 4 0 q2 3 4 0.6" fill="none" stroke="#151515" stroke-width="1.03" stroke-linejoin="round" stroke-linecap="round"/>
<path d="M54 165.5 Q53.3 172.5 55.5 172.6 L58.5 171.8 Q59.3 166 58.2 164.8 Z" fill="none" stroke="#151515" stroke-width="1.15" stroke-linejoin="round" stroke-linecap="round"/>
<path d="M54 165.5 Q55 163 56.5 164.2" fill="none" stroke="#151515" stroke-width="1.03" stroke-linejoin="round" stroke-linecap="round"/>
<path d="M61.5 161.3 L66.5 160.8 Q68.8 161 68.2 166 L67.6 171.6 Q66 172.8 64.5 171.2 L61.8 170.5 Z" fill="none" stroke="#151515" stroke-width="1.15" stroke-linejoin="round" stroke-linecap="round"/>
<line x1="64.6" y1="162.0" x2="64.5" y2="171.0" stroke="#151515" stroke-width="0.92"/>
<ellipse cx="60.2" cy="181.3" rx="7.4" ry="3.6" fill="#fff" stroke="#151515" stroke-width="1.26"/>
<ellipse cx="60.2" cy="180.8" rx="3.6" ry="1.5" fill="none" stroke="#151515" stroke-width="0.92"/>
<path d="M53.6 183 Q55 187.8 57 188.3 Q60.2 189.6 63.4 188.3 Q65.4 187.8 66.8 183" fill="none" stroke="#151515" stroke-width="1.15" stroke-linejoin="round" stroke-linecap="round"/>
<path d="M54.6 185.6 Q60.2 189 65.8 185.6" fill="none" stroke="#151515" stroke-width="0.92" stroke-linejoin="round" stroke-linecap="round"/>
<ellipse cx="59.7" cy="195.4" rx="6.8" ry="2.7" fill="none" stroke="#151515" stroke-width="2.18"/>
<line x1="42.7" y1="194.7" x2="52.7" y2="195.2" stroke="#151515" stroke-width="1.03"/>
<ellipse cx="59.4" cy="203.0" rx="5.6" ry="2.6" fill="none" stroke="#151515" stroke-width="1.03"/>
<ellipse cx="59.4" cy="206.4" rx="5.6" ry="2.6" fill="none" stroke="#151515" stroke-width="1.03"/>
<ellipse cx="59.4" cy="209.8" rx="5.6" ry="2.6" fill="none" stroke="#151515" stroke-width="1.03"/>
<ellipse cx="59.4" cy="213.2" rx="5.6" ry="2.6" fill="none" stroke="#151515" stroke-width="1.03"/>
<ellipse cx="59.4" cy="216.6" rx="5.6" ry="2.6" fill="none" stroke="#151515" stroke-width="1.03"/>
<ellipse cx="59.4" cy="224.5" rx="4.8" ry="2.3" fill="none" stroke="#151515" stroke-width="1.03"/>
<ellipse cx="59.4" cy="227.5" rx="4.8" ry="2.3" fill="none" stroke="#151515" stroke-width="1.03"/>
<ellipse cx="59.4" cy="230.5" rx="4.8" ry="2.3" fill="none" stroke="#151515" stroke-width="1.03"/>
<ellipse cx="59.4" cy="233.5" rx="4.8" ry="2.3" fill="none" stroke="#151515" stroke-width="1.03"/>
<ellipse cx="59.4" cy="236.5" rx="4.8" ry="2.3" fill="none" stroke="#151515" stroke-width="1.03"/>
<line x1="49.3" y1="212.0" x2="53.9" y2="209.4" stroke="#151515" stroke-width="1.03"/>
<line x1="49.3" y1="230.3" x2="54.4" y2="232.3" stroke="#151515" stroke-width="1.03"/>
<line x1="23.4" y1="199.4" x2="26.8" y2="206.0" stroke="#151515" stroke-width="1.03"/>
<path d="M25.2 207.5 Q31.3 203 37.4 207.5 L37.4 219.5 Q31.3 222.6 25.2 219.5 Z" fill="#fff" stroke="#151515" stroke-width="1.26" stroke-linejoin="round" stroke-linecap="round"/>
<path d="M25.2 207.5 Q31.3 210.6 37.4 207.5" fill="none" stroke="#151515" stroke-width="1.03" stroke-linejoin="round" stroke-linecap="round"/>
<line x1="29.0" y1="209.3" x2="29.0" y2="220.6" stroke="#151515" stroke-width="0.80"/>
<line x1="34.0" y1="209.2" x2="34.0" y2="220.4" stroke="#151515" stroke-width="0.80"/>
<path d="M28.2 221 L28.2 232 Q31.4 234 34.6 232 L34.6 221" fill="#fff" stroke="#151515" stroke-width="1.15" stroke-linejoin="round" stroke-linecap="round"/>
<line x1="28.2" y1="223.0" x2="34.6" y2="223.0" stroke="#151515" stroke-width="1.03"/>
<line x1="28.2" y1="224.8" x2="34.6" y2="224.8" stroke="#151515" stroke-width="1.03"/>
<line x1="28.2" y1="226.6" x2="34.6" y2="226.6" stroke="#151515" stroke-width="1.03"/>
<line x1="28.2" y1="228.4" x2="34.6" y2="228.4" stroke="#151515" stroke-width="1.03"/>
<line x1="28.2" y1="230.2" x2="34.6" y2="230.2" stroke="#151515" stroke-width="1.03"/>
<line x1="23.4" y1="240.4" x2="27.6" y2="252.6" stroke="#151515" stroke-width="1.03"/>
<path d="M25.6 254.7 L24.4 257.7 L24.4 262.3 Q30.2 266.7 36.0 262.3 L36.0 257.7 L34.8 254.7" fill="#fff" stroke="#151515" stroke-width="1.38" stroke-linejoin="round" stroke-linecap="round"/>
<ellipse cx="30.2" cy="254.9" rx="4.6" ry="2.2" fill="#fff" stroke="#151515" stroke-width="1.38"/>
<ellipse cx="30.2" cy="254.9" rx="2.6" ry="1.2" fill="none" stroke="#151515" stroke-width="1.03"/>
<path d="M24.4 257.7 Q26.5 260.1 28.1 258.1 Q30.2 260.3 32.5 258.1 Q34.1 260.1 36.0 257.7" fill="none" stroke="#151515" stroke-width="0.92" stroke-linejoin="round" stroke-linecap="round"/>
<line x1="28.1" y1="258.3" x2="28.1" y2="264.3" stroke="#151515" stroke-width="0.92"/>
<line x1="32.5" y1="258.3" x2="32.5" y2="264.3" stroke="#151515" stroke-width="0.92"/>
<line x1="20.1" y1="264.3" x2="25.1" y2="269.3" stroke="#151515" stroke-width="1.03"/>
<ellipse cx="30.1" cy="271.8" rx="5.9" ry="3.3" fill="#fff" stroke="#151515" stroke-width="1.72"/>
<ellipse cx="30.1" cy="271.6" rx="2.8" ry="1.5" fill="none" stroke="#151515" stroke-width="1.03"/>
<line x1="30.0" y1="275.4" x2="30.0" y2="297.0" stroke="#151515" stroke-width="0.92" stroke-dasharray="5 2"/>
<line x1="46.8" y1="239.2" x2="54.4" y2="242.5" stroke="#151515" stroke-width="1.03"/>
<path d="M54.8 245.6 Q54.2 239.6 59 239.2 Q63.8 239.6 63.2 245.6" fill="#fff" stroke="#151515" stroke-width="1.26" stroke-linejoin="round" stroke-linecap="round"/>
<ellipse cx="59.0" cy="245.4" rx="4.3" ry="2.3" fill="#fff" stroke="#151515" stroke-width="1.84"/>
<path d="M55.6 243 Q59 245 62.6 243" fill="none" stroke="#151515" stroke-width="0.92" stroke-linejoin="round" stroke-linecap="round"/>
<line x1="46.0" y1="249.7" x2="53.2" y2="252.6" stroke="#151515" stroke-width="1.03"/>
<ellipse cx="58.8" cy="253.8" rx="5.4" ry="2.9" fill="#fff" stroke="#151515" stroke-width="1.84"/>
<path d="M55.4 253 Q55.4 249.4 58.8 249.2 Q62.2 249.4 62.2 253 Q58.8 255.2 55.4 253 Z" fill="#fff" stroke="#151515" stroke-width="1.15" stroke-linejoin="round" stroke-linecap="round"/>
<line x1="48.5" y1="259.3" x2="55.2" y2="261.8" stroke="#151515" stroke-width="1.03"/>
<path d="M55.2 260.7 L55.2 275.8 Q58.7 278.2 62.2 275.8 L62.2 260.7" fill="#fff" stroke="#151515" stroke-width="1.15" stroke-linejoin="round" stroke-linecap="round"/>
<ellipse cx="58.7" cy="260.7" rx="3.5" ry="1.4" fill="#fff" stroke="#151515" stroke-width="1.15"/>
<line x1="60.0" y1="262.7" x2="60.0" y2="275.8" stroke="#151515" stroke-width="0.69"/>
<line x1="58.7" y1="277.5" x2="58.7" y2="300.0" stroke="#151515" stroke-width="0.92" stroke-dasharray="5 2 1 2"/>
<line x1="73.1" y1="213.6" x2="73.1" y2="222.0" stroke="#151515" stroke-width="1.03"/>
<path d="M69.6 224.5 Q73.6 220.6 77.6 224.5 L77.6 229.5 Q73.6 232 69.6 229.5 Z" fill="#fff" stroke="#151515" stroke-width="1.15" stroke-linejoin="round" stroke-linecap="round"/>
<path d="M69.6 225 Q73.6 227.5 77.6 225" fill="none" stroke="#151515" stroke-width="0.92" stroke-linejoin="round" stroke-linecap="round"/>
<path d="M69.9 234.5 L69.9 249.9 Q73.8 252.3 77.7 249.9 L77.7 234.5" fill="#fff" stroke="#151515" stroke-width="1.15" stroke-linejoin="round" stroke-linecap="round"/>
<ellipse cx="73.8" cy="234.5" rx="3.9" ry="1.4" fill="#fff" stroke="#151515" stroke-width="1.15"/>
<line x1="75.2" y1="236.5" x2="75.2" y2="249.9" stroke="#151515" stroke-width="0.69"/>
<line x1="73.8" y1="252.0" x2="73.8" y2="292.0" stroke="#151515" stroke-width="0.92" stroke-dasharray="5 2 1 2"/>
<line x1="86.5" y1="186.8" x2="86.5" y2="196.0" stroke="#151515" stroke-width="1.03"/>
<path d="M80.5 198.0 Q86.2 193.8 91.9 198.0 L91.9 203.4 Q86.2 206.4 80.5 203.4 Z" fill="#fff" stroke="#151515" stroke-width="1.26" stroke-linejoin="round" stroke-linecap="round"/>
<path d="M80.5 198.0 Q86.2 201.0 91.9 198.0" fill="none" stroke="#151515" stroke-width="1.03" stroke-linejoin="round" stroke-linecap="round"/>
<line x1="83.9" y1="199.4" x2="83.9" y2="204.4" stroke="#151515" stroke-width="0.80"/>
<line x1="88.7" y1="199.4" x2="88.7" y2="204.4" stroke="#151515" stroke-width="0.80"/>
<path d="M83.4 204.4 L83.4 238.2 Q86.2 240.4 89.0 238.2 L89.0 204.4" fill="#fff" stroke="#151515" stroke-width="1.15" stroke-linejoin="round" stroke-linecap="round"/>
<line x1="83.4" y1="227.2" x2="89.0" y2="227.2" stroke="#151515" stroke-width="1.03"/>
<line x1="83.4" y1="229.0" x2="89.0" y2="229.0" stroke="#151515" stroke-width="1.03"/>
<line x1="83.4" y1="230.8" x2="89.0" y2="230.8" stroke="#151515" stroke-width="1.03"/>
<line x1="83.4" y1="232.6" x2="89.0" y2="232.6" stroke="#151515" stroke-width="1.03"/>
<line x1="83.4" y1="234.4" x2="89.0" y2="234.4" stroke="#151515" stroke-width="1.03"/>
<line x1="83.4" y1="236.2" x2="89.0" y2="236.2" stroke="#151515" stroke-width="1.03"/>
<ellipse cx="86.1" cy="246.7" rx="5.9" ry="3.0" fill="#fff" stroke="#151515" stroke-width="1.72"/>
<ellipse cx="86.1" cy="246.5" rx="2.8" ry="1.4" fill="none" stroke="#151515" stroke-width="1.03"/>
<line x1="92.3" y1="246.7" x2="96.7" y2="246.7" stroke="#151515" stroke-width="1.03"/>
<line x1="86.1" y1="250.5" x2="86.1" y2="297.0" stroke="#151515" stroke-width="0.92" stroke-dasharray="5 2 1 2"/>
<line x1="109.6" y1="168.8" x2="109.6" y2="176.0" stroke="#151515" stroke-width="1.03"/>
<path d="M104.4 178.0 Q110.0 173.8 115.6 178.0 L115.6 183.3 Q110.0 186.3 104.4 183.3 Z" fill="#fff" stroke="#151515" stroke-width="1.26" stroke-linejoin="round" stroke-linecap="round"/>
<path d="M104.4 178.0 Q110.0 181.0 115.6 178.0" fill="none" stroke="#151515" stroke-width="1.03" stroke-linejoin="round" stroke-linecap="round"/>
<line x1="107.8" y1="179.4" x2="107.8" y2="184.3" stroke="#151515" stroke-width="0.80"/>
<line x1="112.5" y1="179.4" x2="112.5" y2="184.3" stroke="#151515" stroke-width="0.80"/>
<path d="M107.3 184.3 L107.3 217.3 Q110.0 219.5 112.7 217.3 L112.7 184.3" fill="#fff" stroke="#151515" stroke-width="1.15" stroke-linejoin="round" stroke-linecap="round"/>
<line x1="107.3" y1="206.3" x2="112.7" y2="206.3" stroke="#151515" stroke-width="1.03"/>
<line x1="107.3" y1="208.1" x2="112.7" y2="208.1" stroke="#151515" stroke-width="1.03"/>
<line x1="107.3" y1="209.9" x2="112.7" y2="209.9" stroke="#151515" stroke-width="1.03"/>
<line x1="107.3" y1="211.7" x2="112.7" y2="211.7" stroke="#151515" stroke-width="1.03"/>
<line x1="107.3" y1="213.5" x2="112.7" y2="213.5" stroke="#151515" stroke-width="1.03"/>
<line x1="107.3" y1="215.3" x2="112.7" y2="215.3" stroke="#151515" stroke-width="1.03"/>
<ellipse cx="109.6" cy="223.3" rx="5.9" ry="3.0" fill="#fff" stroke="#151515" stroke-width="1.72"/>
<ellipse cx="109.6" cy="223.1" rx="2.8" ry="1.4" fill="none" stroke="#151515" stroke-width="1.03"/>
<line x1="100.4" y1="231.7" x2="105.0" y2="225.3" stroke="#151515" stroke-width="1.03"/>
<line x1="109.6" y1="227.0" x2="109.6" y2="263.0" stroke="#151515" stroke-width="0.92" stroke-dasharray="5 2 1 2"/>
<path d="M112 241.5 Q111.6 238.6 115 238.6 L119 239.6 Q121 241.8 120.4 245.6 Q119.6 248.6 116.5 248.2 L113 247 Q111.4 244.6 112 241.5 Z" fill="#fff" stroke="#151515" stroke-width="1.26" stroke-linejoin="round" stroke-linecap="round"/>
<line x1="114.2" y1="239.4" x2="113.6" y2="246.8" stroke="#151515" stroke-width="0.92"/>
<line x1="116.4" y1="239.3" x2="115.8" y2="247.6" stroke="#151515" stroke-width="0.92"/>
<line x1="118.0" y1="236.5" x2="116.6" y2="239.0" stroke="#151515" stroke-width="1.03"/>
<path d="M118.6 211.6 L120 209 Q123.6 205.4 127.2 209 L128.6 211.6 L128.4 216 Q123.6 219.6 118.8 216 Z" fill="#fff" stroke="#151515" stroke-width="1.26" stroke-linejoin="round" stroke-linecap="round"/>
<path d="M118.6 211.6 Q123.6 214.4 128.6 211.6" fill="none" stroke="#151515" stroke-width="1.03" stroke-linejoin="round" stroke-linecap="round"/>
<path d="M118.8 213.8 Q123.6 216.8 128.4 213.8" fill="none" stroke="#151515" stroke-width="0.92" stroke-linejoin="round" stroke-linecap="round"/>
<line x1="128.8" y1="212.8" x2="135.2" y2="212.8" stroke="#151515" stroke-width="1.03"/>
<line x1="123.3" y1="218.6" x2="123.3" y2="262.0" stroke="#151515" stroke-width="0.92"/>
<line x1="137.5" y1="228.3" x2="133.8" y2="233.7" stroke="#151515" stroke-width="1.03"/>
<path d="M127.6 238.5 Q127.4 232.2 133 231.8 Q139.6 232 139.4 237.6 Q139.6 243.6 133.6 244.2 Q127.8 244.2 127.6 238.5 Z" fill="#fff" stroke="#151515" stroke-width="1.26" stroke-linejoin="round" stroke-linecap="round"/>
<path d="M131 232.2 Q128.8 238 131.4 244" fill="none" stroke="#151515" stroke-width="0.92" stroke-linejoin="round" stroke-linecap="round"/>
<line x1="140.5" y1="159.7" x2="140.5" y2="166.0" stroke="#151515" stroke-width="1.03"/>
<path d="M135.4 169.5 Q141 164.4 146.6 169.5 L146.6 181.8 Q141 185 135.4 181.8 Z" fill="#fff" stroke="#151515" stroke-width="1.26" stroke-linejoin="round" stroke-linecap="round"/>
<path d="M135.4 169.5 Q141 172.6 146.6 169.5" fill="none" stroke="#151515" stroke-width="1.03" stroke-linejoin="round" stroke-linecap="round"/>
<line x1="138.6" y1="171.5" x2="138.6" y2="183.0" stroke="#151515" stroke-width="0.80"/>
<line x1="143.6" y1="171.5" x2="143.6" y2="183.0" stroke="#151515" stroke-width="0.80"/>
<path d="M137.3 183.5 L137.3 193.6 Q140.6 195.4 143.9 193.6 L143.9 183.5" fill="#fff" stroke="#151515" stroke-width="1.15" stroke-linejoin="round" stroke-linecap="round"/>
<line x1="137.3" y1="185.5" x2="143.9" y2="185.5" stroke="#151515" stroke-width="1.03"/>
<line x1="137.3" y1="187.3" x2="143.9" y2="187.3" stroke="#151515" stroke-width="1.03"/>
<line x1="137.3" y1="189.1" x2="143.9" y2="189.1" stroke="#151515" stroke-width="1.03"/>
<line x1="137.3" y1="190.9" x2="143.9" y2="190.9" stroke="#151515" stroke-width="1.03"/>
<line x1="137.3" y1="192.7" x2="143.9" y2="192.7" stroke="#151515" stroke-width="1.03"/>
<path d="M155 172.5 Q159.6 168.6 164.2 172.5 L164.2 176 L155 176 Z" fill="#fff" stroke="#151515" stroke-width="1.15" stroke-linejoin="round" stroke-linecap="round"/>
<ellipse cx="159.6" cy="178.6" rx="6.0" ry="2.6" fill="#fff" stroke="#151515" stroke-width="1.15"/>
<path d="M156.4 181 L156.4 193.6 Q159.5 195.4 162.6 193.6 L162.6 181" fill="#fff" stroke="#151515" stroke-width="1.15" stroke-linejoin="round" stroke-linecap="round"/>
<line x1="156.4" y1="185.5" x2="162.6" y2="185.5" stroke="#151515" stroke-width="1.03"/>
<line x1="156.4" y1="187.3" x2="162.6" y2="187.3" stroke="#151515" stroke-width="1.03"/>
<line x1="156.4" y1="189.1" x2="162.6" y2="189.1" stroke="#151515" stroke-width="1.03"/>
<line x1="156.4" y1="190.9" x2="162.6" y2="190.9" stroke="#151515" stroke-width="1.03"/>
<line x1="156.4" y1="192.7" x2="162.6" y2="192.7" stroke="#151515" stroke-width="1.03"/>
<line x1="159.0" y1="195.0" x2="159.0" y2="246.0" stroke="#151515" stroke-width="0.92"/>
<line x1="163.0" y1="183.2" x2="178.4" y2="183.2" stroke="#151515" stroke-width="1.03"/>
<line x1="137.5" y1="201.9" x2="145.5" y2="203.9" stroke="#151515" stroke-width="1.03"/>
<path d="M146.2 204.5 Q146 201.4 149.6 201.2 L154.6 201.6 Q157.2 202.4 157 206 L156.6 212 Q154 214.8 150 214.2 L147 213 Q146 209 146.2 204.5 Z" fill="#fff" stroke="#151515" stroke-width="1.26" stroke-linejoin="round" stroke-linecap="round"/>
<path d="M146.4 205 Q151 207.6 157 205.4" fill="none" stroke="#151515" stroke-width="0.92" stroke-linejoin="round" stroke-linecap="round"/>
<ellipse cx="151.4" cy="221.5" rx="5.2" ry="2.4" fill="#fff" stroke="#151515" stroke-width="1.61"/>
<ellipse cx="151.4" cy="221.3" rx="2.5" ry="1.1" fill="none" stroke="#151515" stroke-width="1.03"/>
<line x1="151.4" y1="224.5" x2="151.4" y2="276.0" stroke="#151515" stroke-width="0.92" stroke-dasharray="5 2 1 2"/>
<path d="M213.1 150.0 Q218.8 145.8 224.5 150.0 L224.5 155.4 Q218.8 158.4 213.1 155.4 Z" fill="#fff" stroke="#151515" stroke-width="1.26" stroke-linejoin="round" stroke-linecap="round"/>
<path d="M213.1 150.0 Q218.8 153.0 224.5 150.0" fill="none" stroke="#151515" stroke-width="1.03" stroke-linejoin="round" stroke-linecap="round"/>
<line x1="216.5" y1="151.4" x2="216.5" y2="156.4" stroke="#151515" stroke-width="0.80"/>
<line x1="221.3" y1="151.4" x2="221.3" y2="156.4" stroke="#151515" stroke-width="0.80"/>
<path d="M216.0 156.4 L216.0 189.2 Q218.8 191.4 221.6 189.2 L221.6 156.4" fill="#fff" stroke="#151515" stroke-width="1.15" stroke-linejoin="round" stroke-linecap="round"/>
<line x1="216.0" y1="179.2" x2="221.6" y2="179.2" stroke="#151515" stroke-width="1.03"/>
<line x1="216.0" y1="181.0" x2="221.6" y2="181.0" stroke="#151515" stroke-width="1.03"/>
<line x1="216.0" y1="182.8" x2="221.6" y2="182.8" stroke="#151515" stroke-width="1.03"/>
<line x1="216.0" y1="184.6" x2="221.6" y2="184.6" stroke="#151515" stroke-width="1.03"/>
<line x1="216.0" y1="186.4" x2="221.6" y2="186.4" stroke="#151515" stroke-width="1.03"/>
<line x1="216.0" y1="188.2" x2="221.6" y2="188.2" stroke="#151515" stroke-width="1.03"/>
<line x1="222.2" y1="166.8" x2="236.9" y2="166.8" stroke="#151515" stroke-width="1.03"/>
<line x1="190.9" y1="197.7" x2="197.6" y2="201.6" stroke="#151515" stroke-width="1.03"/>
<path d="M198.3 198.1 L197.0 201.1 L197.0 206.5 Q203.3 210.9 209.6 206.5 L209.6 201.1 L208.3 198.1" fill="#fff" stroke="#151515" stroke-width="1.38" stroke-linejoin="round" stroke-linecap="round"/>
<ellipse cx="203.3" cy="198.3" rx="5.0" ry="2.2" fill="#fff" stroke="#151515" stroke-width="1.38"/>
<ellipse cx="203.3" cy="198.3" rx="2.8" ry="1.2" fill="none" stroke="#151515" stroke-width="1.03"/>
<path d="M197.0 201.1 Q199.3 203.5 201.0 201.5 Q203.3 203.7 205.8 201.5 Q207.6 203.5 209.6 201.1" fill="none" stroke="#151515" stroke-width="0.92" stroke-linejoin="round" stroke-linecap="round"/>
<line x1="201.0" y1="201.7" x2="201.0" y2="208.5" stroke="#151515" stroke-width="0.92"/>
<line x1="205.8" y1="201.7" x2="205.8" y2="208.5" stroke="#151515" stroke-width="0.92"/>
<line x1="188.1" y1="211.9" x2="196.8" y2="216.1" stroke="#151515" stroke-width="1.03"/>
<ellipse cx="203.5" cy="215.8" rx="6.2" ry="3.3" fill="#fff" stroke="#151515" stroke-width="1.72"/>
<ellipse cx="203.5" cy="215.6" rx="3.0" ry="1.5" fill="none" stroke="#151515" stroke-width="1.03"/>
<path d="M203.5 219.6 L203.5 226.2 L185.9 231.2 L185.9 262.0" fill="none" stroke="#151515" stroke-width="0.92" stroke-linejoin="round" stroke-linecap="round" stroke-dasharray="5 2"/>
<line x1="219.8" y1="222.0" x2="219.8" y2="227.0" stroke="#151515" stroke-width="1.03"/>
<path d="M219.2 227.8 Q222.6 225.6 225.4 229.4 L220.4 237.6 Q217 239.4 214.6 235.6 Z" fill="#fff" stroke="#151515" stroke-width="1.49" stroke-linejoin="round" stroke-linecap="round"/>
<path d="M215.6 234.4 Q218.6 233 221.2 236.6" fill="none" stroke="#151515" stroke-width="1.03" stroke-linejoin="round" stroke-linecap="round"/>
<line x1="218.5" y1="238.4" x2="196.4" y2="264.3" stroke="#151515" stroke-width="0.92"/>
<ellipse cx="195.2" cy="265.8" rx="1.9" ry="1.9" fill="none" stroke="#151515" stroke-width="0.92"/>
<path d="M228.2 209.8 L227.0 212.8 L227.0 218.2 Q233.2 222.6 239.4 218.2 L239.4 212.8 L238.2 209.8" fill="#fff" stroke="#151515" stroke-width="1.38" stroke-linejoin="round" stroke-linecap="round"/>
<ellipse cx="233.2" cy="210.0" rx="5.0" ry="2.2" fill="#fff" stroke="#151515" stroke-width="1.38"/>
<ellipse cx="233.2" cy="210.0" rx="2.7" ry="1.2" fill="none" stroke="#151515" stroke-width="1.03"/>
<path d="M227.0 212.8 Q229.2 215.2 231.0 213.2 Q233.2 215.4 235.7 213.2 Q237.4 215.2 239.4 212.8" fill="none" stroke="#151515" stroke-width="0.92" stroke-linejoin="round" stroke-linecap="round"/>
<line x1="231.0" y1="213.4" x2="231.0" y2="220.2" stroke="#151515" stroke-width="0.92"/>
<line x1="235.7" y1="213.4" x2="235.7" y2="220.2" stroke="#151515" stroke-width="0.92"/>
<line x1="239.4" y1="211.9" x2="246.9" y2="206.9" stroke="#151515" stroke-width="1.03"/>
<ellipse cx="232.7" cy="227.8" rx="6.2" ry="3.0" fill="#fff" stroke="#151515" stroke-width="1.61"/>
<ellipse cx="232.7" cy="227.6" rx="3.0" ry="1.4" fill="none" stroke="#151515" stroke-width="1.03"/>
<line x1="239.4" y1="227.8" x2="246.1" y2="223.6" stroke="#151515" stroke-width="1.03"/>
<line x1="273.4" y1="193.5" x2="273.4" y2="205.2" stroke="#151515" stroke-width="1.03"/>
<path d="M268.5 207 Q271 205 274 206.5 L278.2 208.5 Q279.6 210.8 278.4 213.4 Q276.4 215.8 273.6 214.6 L268.4 212.6 Q266.4 209.8 268.5 207 Z" fill="#fff" stroke="#151515" stroke-width="1.26" stroke-linejoin="round" stroke-linecap="round"/>
<line x1="271.4" y1="206.2" x2="270.4" y2="213.2" stroke="#151515" stroke-width="0.92"/>
<line x1="273.8" y1="206.8" x2="272.8" y2="214.2" stroke="#151515" stroke-width="0.92"/>
<line x1="276.2" y1="207.8" x2="275.4" y2="214.8" stroke="#151515" stroke-width="0.92"/>
<path d="M266.7 211.9 L261.7 211.9 L261.7 234.5 L245.3 237.9" fill="none" stroke="#151515" stroke-width="0.92" stroke-linejoin="round" stroke-linecap="round"/>
<line x1="287.5" y1="223.3" x2="280.0" y2="233.9" stroke="#151515" stroke-width="1.03"/>
<path d="M262.2 243.7 L275.1 240.3 L273.9 236.1 L261.0 239.5 Z" fill="#fff" stroke="#151515" stroke-width="1.15" stroke-linejoin="round" stroke-linecap="round"/>
<line x1="263.3" y1="243.4" x2="262.2" y2="239.2" stroke="#151515" stroke-width="1.15"/>
<line x1="265.0" y1="243.0" x2="263.8" y2="238.7" stroke="#151515" stroke-width="1.15"/>
<line x1="266.6" y1="242.6" x2="265.5" y2="238.3" stroke="#151515" stroke-width="1.15"/>
<line x1="268.3" y1="242.1" x2="267.1" y2="237.9" stroke="#151515" stroke-width="1.15"/>
<line x1="269.9" y1="241.7" x2="268.8" y2="237.4" stroke="#151515" stroke-width="1.15"/>
<line x1="271.5" y1="241.3" x2="270.4" y2="237.0" stroke="#151515" stroke-width="1.15"/>
<line x1="273.2" y1="240.8" x2="272.1" y2="236.6" stroke="#151515" stroke-width="1.15"/>
<path d="M274.4 234.6 L279.8 233.2 Q282.4 234.2 282.4 237 L281.4 241 Q279 242.6 276.6 241.8 L274.2 240.6 Z" fill="#fff" stroke="#151515" stroke-width="1.26" stroke-linejoin="round" stroke-linecap="round"/>
<line x1="277.2" y1="234.0" x2="276.6" y2="241.6" stroke="#151515" stroke-width="0.92"/>
<path d="M275.9 250.2 L292.9 245.9 L291.9 242.1 L274.9 246.4 Z" fill="#fff" stroke="#151515" stroke-width="1.15" stroke-linejoin="round" stroke-linecap="round"/>
<line x1="277.1" y1="249.9" x2="276.1" y2="246.1" stroke="#151515" stroke-width="1.15"/>
<line x1="278.7" y1="249.5" x2="277.7" y2="245.6" stroke="#151515" stroke-width="1.15"/>
<line x1="280.3" y1="249.1" x2="279.4" y2="245.2" stroke="#151515" stroke-width="1.15"/>
<line x1="282.0" y1="248.7" x2="281.0" y2="244.8" stroke="#151515" stroke-width="1.15"/>
<line x1="286.9" y1="247.4" x2="286.0" y2="243.6" stroke="#151515" stroke-width="1.15"/>
<line x1="288.6" y1="247.0" x2="287.6" y2="243.1" stroke="#151515" stroke-width="1.15"/>
<line x1="290.2" y1="246.6" x2="289.3" y2="242.7" stroke="#151515" stroke-width="1.15"/>
<line x1="291.9" y1="246.2" x2="290.9" y2="242.3" stroke="#151515" stroke-width="1.15"/>
<ellipse cx="296.9" cy="242.6" rx="2.3" ry="3.5" fill="none" stroke="#151515" stroke-width="1.84"/>
<ellipse cx="296.9" cy="242.6" rx="0.7" ry="1.4" fill="none" stroke="#151515" stroke-width="0.80"/>
<path d="M301 238.6 Q301 236.2 303.6 236.6 L306.8 237.6 Q308.4 239 308 242 Q307.4 245 304.8 245 L302 244.2 Q300.6 242 301 238.6 Z" fill="#fff" stroke="#151515" stroke-width="1.26" stroke-linejoin="round" stroke-linecap="round"/>
<ellipse cx="304.0" cy="240.4" rx="1.6" ry="2.2" fill="none" stroke="#151515" stroke-width="0.92"/>
<line x1="309.7" y1="226.7" x2="305.2" y2="236.2" stroke="#151515" stroke-width="1.03"/>
<line x1="285.0" y1="248.9" x2="288.1" y2="253.9" stroke="#151515" stroke-width="1.03"/>
<line x1="298.1" y1="246.4" x2="302.5" y2="254.8" stroke="#151515" stroke-width="1.03"/>
<line x1="273.8" y1="265.1" x2="287.5" y2="271.4" stroke="#151515" stroke-width="1.03"/>
<line x1="263.8" y1="273.3" x2="278.8" y2="279.5" stroke="#151515" stroke-width="1.03"/>
<line x1="253.1" y1="282.6" x2="271.3" y2="292.6" stroke="#151515" stroke-width="1.03"/>
<line x1="252.0" y1="307.3" x2="262.0" y2="310.3" stroke="#151515" stroke-width="1.03"/>
<path d="M233.8 235.1 L236.0 234.2 L270.0 246.8 L273.1 250.1 L273.1 268.9 L270.0 270.8 L264.0 268.6 L264.0 252.2 L233.8 239.0 Z" fill="#fff" stroke="#151515" stroke-width="1.15" stroke-linejoin="round" stroke-linecap="round"/>
<ellipse cx="269.4" cy="252.4" rx="1.5" ry="1.6" fill="none" stroke="#151515" stroke-width="0.92"/>
<ellipse cx="268.8" cy="267.4" rx="1.5" ry="1.6" fill="none" stroke="#151515" stroke-width="0.92"/>
<line x1="266.6" y1="249.0" x2="266.6" y2="269.4" stroke="#151515" stroke-width="0.92"/>
<path d="M223.8 238.0 L226.0 236.6 L263.8 252.0 L263.8 272.6 L262.0 273.6 L247.0 264.6 L247.0 251.0 L228.0 242.4 L228.0 250.0 L224.0 248.0 Z" fill="#fff" stroke="#151515" stroke-width="1.15" stroke-linejoin="round" stroke-linecap="round"/>
<path d="M228.1 241.2 L260.0 254.2 L260.0 268.3 L249.4 262.6" fill="none" stroke="#151515" stroke-width="1.03" stroke-linejoin="round" stroke-linecap="round"/>
<path d="M249.4 262.6 L249.4 251.6" fill="none" stroke="#151515" stroke-width="1.03" stroke-linejoin="round" stroke-linecap="round"/>
<ellipse cx="251.4" cy="261.6" rx="1.3" ry="1.2" fill="none" stroke="#151515" stroke-width="0.92"/>
<line x1="17.6" y1="310.0" x2="21.7" y2="312.0" stroke="#151515" stroke-width="1.03"/>
<path d="M21.6 312.2 Q26.2 308.6 30.8 312.2 L30.8 315.6 Q26.2 318.4 21.6 315.6 Z" fill="#fff" stroke="#151515" stroke-width="1.26" stroke-linejoin="round" stroke-linecap="round"/>
<path d="M24 317 L24 326 L28.6 326 L28.6 317" fill="#fff" stroke="#151515" stroke-width="1.15" stroke-linejoin="round" stroke-linecap="round"/>
<line x1="24.0" y1="318.6" x2="28.6" y2="318.6" stroke="#151515" stroke-width="1.03"/>
<line x1="24.0" y1="320.6" x2="28.6" y2="320.6" stroke="#151515" stroke-width="1.03"/>
<line x1="24.0" y1="322.6" x2="28.6" y2="322.6" stroke="#151515" stroke-width="1.03"/>
<line x1="24.0" y1="324.6" x2="28.6" y2="324.6" stroke="#151515" stroke-width="1.03"/>
<ellipse cx="27.3" cy="327.7" rx="4.5" ry="2.5" fill="#fff" stroke="#151515" stroke-width="1.49"/>
<ellipse cx="27.3" cy="327.5" rx="2.2" ry="1.1" fill="none" stroke="#151515" stroke-width="1.03"/>
<line x1="20.9" y1="336.7" x2="23.4" y2="330.9" stroke="#151515" stroke-width="1.03"/>
<line x1="102.4" y1="331.0" x2="107.6" y2="329.4" stroke="#151515" stroke-width="1.03"/>
<path d="M108.6 322.8 Q106.4 327.4 109.4 331.6" fill="none" stroke="#151515" stroke-width="1.15" stroke-linejoin="round" stroke-linecap="round"/>
<path d="M108.6 322.8 L112.6 321.6 M109.4 331.6 L113.4 332.2" fill="none" stroke="#151515" stroke-width="1.15" stroke-linejoin="round" stroke-linecap="round"/>
<ellipse cx="113.8" cy="326.9" rx="5.2" ry="5.4" fill="#fff" stroke="#151515" stroke-width="1.84"/>
<path d="M117 323.8 A3.6 3.9 0 1 0 117.2 330" fill="none" stroke="#151515" stroke-width="1.03" stroke-linejoin="round" stroke-linecap="round"/>
<line x1="73.6" y1="325.0" x2="111.2" y2="349.3" stroke="#151515" stroke-width="0.92"/>
<path d="M111.6 349.5 Q113.4 347 116.4 348.2 L120.6 350.4 Q122.6 352.6 121.4 355.2 Q119.6 357.8 116.8 356.8 L112 354.6 Q110 352.2 111.6 349.5 Z" fill="#fff" stroke="#151515" stroke-width="1.26" stroke-linejoin="round" stroke-linecap="round"/>
<line x1="114.6" y1="348.0" x2="113.0" y2="355.2" stroke="#151515" stroke-width="0.92"/>
<line x1="116.8" y1="348.8" x2="115.4" y2="356.2" stroke="#151515" stroke-width="0.92"/>
<line x1="119.0" y1="349.8" x2="117.8" y2="357.0" stroke="#151515" stroke-width="0.92"/>
<line x1="121.3" y1="354.3" x2="127.1" y2="357.6" stroke="#151515" stroke-width="1.03"/>
<path d="M59.4 336.0 L59.4 373.5 L92.0 366.0" fill="none" stroke="#151515" stroke-width="0.92" stroke-linejoin="round" stroke-linecap="round" stroke-dasharray="6 2 1 2"/>
<line x1="92.5" y1="357.6" x2="92.5" y2="367.0" stroke="#151515" stroke-width="0.92" stroke-dasharray="4 2"/>
<path d="M90.2 368.7 Q92.9 366.5 95.6 368.7 L95.6 410.2 Q92.9 412.4 90.2 410.2 Z" fill="#fff" stroke="#151515" stroke-width="1.15" stroke-linejoin="round" stroke-linecap="round"/>
<line x1="90.2" y1="369.7" x2="95.6" y2="369.7" stroke="#151515" stroke-width="1.03"/>
<line x1="90.2" y1="371.5" x2="95.6" y2="371.5" stroke="#151515" stroke-width="1.03"/>
<line x1="90.2" y1="373.3" x2="95.6" y2="373.3" stroke="#151515" stroke-width="1.03"/>
<line x1="90.2" y1="375.1" x2="95.6" y2="375.1" stroke="#151515" stroke-width="1.03"/>
<line x1="90.2" y1="376.9" x2="95.6" y2="376.9" stroke="#151515" stroke-width="1.03"/>
<line x1="90.2" y1="378.7" x2="95.6" y2="378.7" stroke="#151515" stroke-width="1.03"/>
<line x1="90.2" y1="402.2" x2="95.6" y2="402.2" stroke="#151515" stroke-width="1.03"/>
<line x1="90.2" y1="404.0" x2="95.6" y2="404.0" stroke="#151515" stroke-width="1.03"/>
<line x1="90.2" y1="405.8" x2="95.6" y2="405.8" stroke="#151515" stroke-width="1.03"/>
<line x1="90.2" y1="407.6" x2="95.6" y2="407.6" stroke="#151515" stroke-width="1.03"/>
<line x1="90.2" y1="409.4" x2="95.6" y2="409.4" stroke="#151515" stroke-width="1.03"/>
<line x1="97.0" y1="389.4" x2="107.0" y2="385.7" stroke="#151515" stroke-width="1.03"/>
<path d="M152.3 346.0 Q155.0 343.8 157.7 346.0 L157.7 387.6 Q155.0 389.8 152.3 387.6 Z" fill="#fff" stroke="#151515" stroke-width="1.15" stroke-linejoin="round" stroke-linecap="round"/>
<line x1="152.3" y1="347.0" x2="157.7" y2="347.0" stroke="#151515" stroke-width="1.03"/>
<line x1="152.3" y1="348.8" x2="157.7" y2="348.8" stroke="#151515" stroke-width="1.03"/>
<line x1="152.3" y1="350.6" x2="157.7" y2="350.6" stroke="#151515" stroke-width="1.03"/>
<line x1="152.3" y1="352.4" x2="157.7" y2="352.4" stroke="#151515" stroke-width="1.03"/>
<line x1="152.3" y1="354.2" x2="157.7" y2="354.2" stroke="#151515" stroke-width="1.03"/>
<line x1="152.3" y1="356.0" x2="157.7" y2="356.0" stroke="#151515" stroke-width="1.03"/>
<line x1="152.3" y1="378.6" x2="157.7" y2="378.6" stroke="#151515" stroke-width="1.03"/>
<line x1="152.3" y1="380.4" x2="157.7" y2="380.4" stroke="#151515" stroke-width="1.03"/>
<line x1="152.3" y1="382.2" x2="157.7" y2="382.2" stroke="#151515" stroke-width="1.03"/>
<line x1="152.3" y1="384.0" x2="157.7" y2="384.0" stroke="#151515" stroke-width="1.03"/>
<line x1="152.3" y1="385.8" x2="157.7" y2="385.8" stroke="#151515" stroke-width="1.03"/>
<line x1="154.7" y1="338.0" x2="154.7" y2="344.5" stroke="#151515" stroke-width="0.92" stroke-dasharray="3 2"/>
<path d="M195.2 346.0 Q197.9 343.8 200.6 346.0 L200.6 387.6 Q197.9 389.8 195.2 387.6 Z" fill="#fff" stroke="#151515" stroke-width="1.15" stroke-linejoin="round" stroke-linecap="round"/>
<line x1="195.2" y1="347.0" x2="200.6" y2="347.0" stroke="#151515" stroke-width="1.03"/>
<line x1="195.2" y1="348.8" x2="200.6" y2="348.8" stroke="#151515" stroke-width="1.03"/>
<line x1="195.2" y1="350.6" x2="200.6" y2="350.6" stroke="#151515" stroke-width="1.03"/>
<line x1="195.2" y1="352.4" x2="200.6" y2="352.4" stroke="#151515" stroke-width="1.03"/>
<line x1="195.2" y1="354.2" x2="200.6" y2="354.2" stroke="#151515" stroke-width="1.03"/>
<line x1="195.2" y1="356.0" x2="200.6" y2="356.0" stroke="#151515" stroke-width="1.03"/>
<line x1="195.2" y1="378.6" x2="200.6" y2="378.6" stroke="#151515" stroke-width="1.03"/>
<line x1="195.2" y1="380.4" x2="200.6" y2="380.4" stroke="#151515" stroke-width="1.03"/>
<line x1="195.2" y1="382.2" x2="200.6" y2="382.2" stroke="#151515" stroke-width="1.03"/>
<line x1="195.2" y1="384.0" x2="200.6" y2="384.0" stroke="#151515" stroke-width="1.03"/>
<line x1="195.2" y1="385.8" x2="200.6" y2="385.8" stroke="#151515" stroke-width="1.03"/>
<line x1="201.0" y1="365.2" x2="209.3" y2="365.2" stroke="#151515" stroke-width="1.03"/>
<line x1="197.6" y1="327.5" x2="197.6" y2="343.4" stroke="#151515" stroke-width="0.92" stroke-dasharray="6 2 1 2"/>
<path d="M229.8 340.2 Q232.5 338.0 235.2 340.2 L235.2 383.4 Q232.5 385.6 229.8 383.4 Z" fill="#fff" stroke="#151515" stroke-width="1.15" stroke-linejoin="round" stroke-linecap="round"/>
<line x1="229.8" y1="341.2" x2="235.2" y2="341.2" stroke="#151515" stroke-width="1.03"/>
<line x1="229.8" y1="343.0" x2="235.2" y2="343.0" stroke="#151515" stroke-width="1.03"/>
<line x1="229.8" y1="344.8" x2="235.2" y2="344.8" stroke="#151515" stroke-width="1.03"/>
<line x1="229.8" y1="346.6" x2="235.2" y2="346.6" stroke="#151515" stroke-width="1.03"/>
<line x1="229.8" y1="348.4" x2="235.2" y2="348.4" stroke="#151515" stroke-width="1.03"/>
<line x1="229.8" y1="350.2" x2="235.2" y2="350.2" stroke="#151515" stroke-width="1.03"/>
<line x1="229.8" y1="374.4" x2="235.2" y2="374.4" stroke="#151515" stroke-width="1.03"/>
<line x1="229.8" y1="376.2" x2="235.2" y2="376.2" stroke="#151515" stroke-width="1.03"/>
<line x1="229.8" y1="378.0" x2="235.2" y2="378.0" stroke="#151515" stroke-width="1.03"/>
<line x1="229.8" y1="379.8" x2="235.2" y2="379.8" stroke="#151515" stroke-width="1.03"/>
<line x1="229.8" y1="381.6" x2="235.2" y2="381.6" stroke="#151515" stroke-width="1.03"/>
<line x1="235.6" y1="355.5" x2="245.3" y2="355.5" stroke="#151515" stroke-width="1.03"/>
<line x1="232.7" y1="308.0" x2="232.7" y2="322.0" stroke="#151515" stroke-width="0.92" stroke-dasharray="4 2"/>
<path d="M224.6 326 Q224.6 322.6 228 322.5 L232 322.6 Q235.4 323.2 235.2 327 Q235 331.8 231.4 332.4 L227.6 332.2 Q224.4 331 224.6 326 Z" fill="#fff" stroke="#151515" stroke-width="1.38" stroke-linejoin="round" stroke-linecap="round"/>
<line x1="235.2" y1="327.5" x2="244.4" y2="327.5" stroke="#151515" stroke-width="1.03"/>
<line x1="232.7" y1="332.6" x2="232.7" y2="339.2" stroke="#151515" stroke-width="0.92"/>
<path d="M199.6 329.5 Q199.6 326.6 203 326.6 L206 327 Q208.8 327.6 208.6 331 L208.4 337.4 Q206.4 340.4 203.4 339.8 L200.4 338.8 Q199.4 336 199.6 329.5 Z" fill="#fff" stroke="#151515" stroke-width="1.38" stroke-linejoin="round" stroke-linecap="round"/>
<path d="M201.6 329.6 Q204 328.4 206.8 329.8 L206.6 337.6 M201.6 329.6 L201.6 337.6" fill="none" stroke="#151515" stroke-width="0.92" stroke-linejoin="round" stroke-linecap="round"/>
<line x1="206.0" y1="340.0" x2="210.1" y2="346.0" stroke="#151515" stroke-width="1.03"/>
<path d="M60.3 411.0 Q59.8 416.5 54.2 418.9 Q53.6 421.9 55.6 423.1 Q62.2 425.5 68.8 423.1 Q70.8 421.9 70.2 418.9 Q64.6 416.5 64.1 411.0" fill="#fff" stroke="#151515" stroke-width="1.15" stroke-linejoin="round" stroke-linecap="round"/>
<path d="M54.2 419.1 Q62.2 423.1 70.2 419.1" fill="none" stroke="#151515" stroke-width="0.92" stroke-linejoin="round" stroke-linecap="round"/>
<path d="M60.3 395.6 L60.3 411.5 M64.1 395.6 L64.1 411.5" fill="none" stroke="#151515" stroke-width="1.15" stroke-linejoin="round" stroke-linecap="round"/>
<ellipse cx="62.2" cy="395.6" rx="8.0" ry="4.8" fill="#fff" stroke="#151515" stroke-width="1.72"/>
<ellipse cx="62.2" cy="395.3" rx="5.3" ry="3.0" fill="#fff" stroke="#151515" stroke-width="1.03"/>
<path d="M60.3 395.6 L60.3 379.9 Q62.2 377.3 64.1 379.9 L64.1 395.6" fill="#fff" stroke="#151515" stroke-width="1.15" stroke-linejoin="round" stroke-linecap="round"/>
<path d="M75.3 406.5 Q74.8 411.2 70.0 413.6 Q69.4 416.6 71.4 417.8 Q77.2 420.2 83.0 417.8 Q85.0 416.6 84.4 413.6 Q79.6 411.2 79.1 406.5" fill="#fff" stroke="#151515" stroke-width="1.15" stroke-linejoin="round" stroke-linecap="round"/>
<path d="M70.0 413.8 Q77.2 417.8 84.4 413.8" fill="none" stroke="#151515" stroke-width="0.92" stroke-linejoin="round" stroke-linecap="round"/>
<path d="M75.3 388.2 L75.3 407.0 M79.1 388.2 L79.1 407.0" fill="none" stroke="#151515" stroke-width="1.15" stroke-linejoin="round" stroke-linecap="round"/>
<ellipse cx="77.2" cy="388.2" rx="6.8" ry="4.2" fill="#fff" stroke="#151515" stroke-width="1.72"/>
<ellipse cx="77.2" cy="387.9" rx="4.5" ry="2.6" fill="#fff" stroke="#151515" stroke-width="1.03"/>
<path d="M75.3 388.2 L75.3 378.9 Q77.2 376.3 79.1 378.9 L79.1 388.2" fill="#fff" stroke="#151515" stroke-width="1.15" stroke-linejoin="round" stroke-linecap="round"/>
<line x1="46.3" y1="388.0" x2="55.5" y2="394.3" stroke="#151515" stroke-width="1.03"/>
<line x1="82.5" y1="378.5" x2="80.5" y2="384.3" stroke="#151515" stroke-width="1.03"/>
<line x1="47.0" y1="417.5" x2="55.5" y2="418.5" stroke="#151515" stroke-width="1.03"/>
<line x1="85.0" y1="418.5" x2="90.0" y2="418.5" stroke="#151515" stroke-width="1.03"/>
<path d="M92.3 434.7 L92.3 451.0 Q95.6 453.4 98.9 451.0 L98.9 434.7" fill="#fff" stroke="#151515" stroke-width="1.15" stroke-linejoin="round" stroke-linecap="round"/>
<ellipse cx="95.6" cy="434.7" rx="3.3" ry="1.4" fill="#fff" stroke="#151515" stroke-width="1.15"/>
<line x1="96.8" y1="436.7" x2="96.8" y2="451.0" stroke="#151515" stroke-width="0.69"/>
<path d="M106.3 431.7 L106.3 448.0 Q109.5 450.4 112.7 448.0 L112.7 431.7" fill="#fff" stroke="#151515" stroke-width="1.15" stroke-linejoin="round" stroke-linecap="round"/>
<ellipse cx="109.5" cy="431.7" rx="3.2" ry="1.4" fill="#fff" stroke="#151515" stroke-width="1.15"/>
<line x1="110.7" y1="433.7" x2="110.7" y2="448.0" stroke="#151515" stroke-width="0.69"/>
<line x1="82.4" y1="435.6" x2="91.6" y2="440.0" stroke="#151515" stroke-width="1.03"/>
<line x1="118.2" y1="424.6" x2="113.0" y2="431.0" stroke="#151515" stroke-width="1.03"/>
<path d="M156 413 Q160.5 407.6 165 413 L164.6 419 Q160.5 422.6 156.4 419 Z" fill="#fff" stroke="#151515" stroke-width="1.26" stroke-linejoin="round" stroke-linecap="round"/>
<path d="M156 413.2 Q160.5 416 165 413.2" fill="none" stroke="#151515" stroke-width="0.92" stroke-linejoin="round" stroke-linecap="round"/>
<line x1="156.6" y1="415.4" x2="164.4" y2="415.4" stroke="#151515" stroke-width="1.03"/>
<line x1="156.6" y1="416.9" x2="164.4" y2="416.9" stroke="#151515" stroke-width="1.03"/>
<line x1="156.6" y1="418.4" x2="164.4" y2="418.4" stroke="#151515" stroke-width="1.03"/>
<line x1="156.6" y1="419.9" x2="164.4" y2="419.9" stroke="#151515" stroke-width="1.03"/>
<line x1="148.0" y1="417.4" x2="155.8" y2="413.6" stroke="#151515" stroke-width="1.03"/>
<ellipse cx="185.3" cy="408.5" rx="4.4" ry="4.6" fill="#fff" stroke="#151515" stroke-width="1.15"/>
<path d="M183.4 404.6 Q181.4 408.6 183.6 412.6" fill="none" stroke="#151515" stroke-width="0.92" stroke-linejoin="round" stroke-linecap="round"/>
<line x1="190.0" y1="406.6" x2="199.5" y2="403.6" stroke="#151515" stroke-width="1.03"/>
<line x1="252.0" y1="394.2" x2="254.8" y2="400.0" stroke="#151515" stroke-width="1.03"/>
<path d="M256.6 400.6 Q259.6 398.6 261.4 401.6 L258.6 407.6 Q256 409 254.4 406.4 Z" fill="#fff" stroke="#151515" stroke-width="1.26" stroke-linejoin="round" stroke-linecap="round"/>
<ellipse cx="258.8" cy="402.0" rx="2.2" ry="1.6" fill="none" stroke="#151515" stroke-width="0.92" transform="rotate(30 258.8 402.0)"/>
<line x1="256.2" y1="408.4" x2="243.6" y2="427.0" stroke="#151515" stroke-width="0.92"/>
<path d="M259.6 473 Q259.4 470 262.6 470 L266.6 470.4 Q269.6 471.2 269.4 474.6 Q269.2 478.8 266 479.2 L262.6 479 Q259.4 477.8 259.6 473 Z" fill="#fff" stroke="#151515" stroke-width="1.38" stroke-linejoin="round" stroke-linecap="round"/>
<line x1="269.4" y1="475.0" x2="277.0" y2="475.0" stroke="#151515" stroke-width="1.03"/>
<line x1="233.4" y1="474.6" x2="241.4" y2="482.4" stroke="#151515" stroke-width="1.03"/>
<line x1="227.4" y1="492.0" x2="222.6" y2="501.0" stroke="#151515" stroke-width="1.03"/>
<ellipse cx="219.6" cy="505.6" rx="6.4" ry="3.6" fill="#fff" stroke="#151515" stroke-width="1.72"/>
<ellipse cx="219.6" cy="504.6" rx="6.4" ry="3.4" fill="#fff" stroke="#151515" stroke-width="1.49"/>
<ellipse cx="219.6" cy="504.4" rx="3.8" ry="1.9" fill="none" stroke="#151515" stroke-width="1.15"/>
<line x1="188.6" y1="508.6" x2="195.4" y2="508.6" stroke="#151515" stroke-width="1.03"/>
<ellipse cx="203.6" cy="510.6" rx="8.0" ry="4.4" fill="#fff" stroke="#151515" stroke-width="1.72"/>
<ellipse cx="203.6" cy="508.8" rx="8.0" ry="4.2" fill="#fff" stroke="#151515" stroke-width="1.49"/>
<ellipse cx="203.6" cy="508.6" rx="4.8" ry="2.4" fill="none" stroke="#151515" stroke-width="1.15"/>
<ellipse cx="152.0" cy="502.4" rx="5.4" ry="5.8" fill="#fff" stroke="#151515" stroke-width="1.84"/>
<ellipse cx="152.6" cy="502.4" rx="3.6" ry="4.0" fill="none" stroke="#151515" stroke-width="1.03"/>
<line x1="156.8" y1="505.4" x2="161.4" y2="508.2" stroke="#151515" stroke-width="1.03"/>
<line x1="117.0" y1="515.2" x2="124.6" y2="512.4" stroke="#151515" stroke-width="1.03"/>
<path d="M126.4 509.4 Q128.6 507 131.6 508.6 L135.6 511 Q137.4 513.4 136 516 Q134 518.4 131.2 517.2 L126.6 514.6 Q124.8 512 126.4 509.4 Z" fill="#fff" stroke="#151515" stroke-width="1.38" stroke-linejoin="round" stroke-linecap="round"/>
<line x1="129.2" y1="508.2" x2="127.6" y2="515.2" stroke="#151515" stroke-width="0.92"/>
<line x1="131.4" y1="509.0" x2="129.8" y2="516.4" stroke="#151515" stroke-width="0.92"/>
<text x="21.5" y="198.3" text-anchor="middle" textLength="9.2" lengthAdjust="spacingAndGlyphs">47</text>
<text x="21.3" y="239.4" text-anchor="middle" textLength="9.2" lengthAdjust="spacingAndGlyphs">22</text>
<text x="15.7" y="264.8" text-anchor="middle" textLength="9.2" lengthAdjust="spacingAndGlyphs">23</text>
<text x="73.0" y="212.5" text-anchor="middle" textLength="9.2" lengthAdjust="spacingAndGlyphs">43</text>
<text x="85.3" y="185.2" text-anchor="middle" textLength="9.2" lengthAdjust="spacingAndGlyphs">34</text>
<text x="109.1" y="167.4" text-anchor="middle" textLength="9.2" lengthAdjust="spacingAndGlyphs">32</text>
<text x="99.3" y="238.3" text-anchor="middle" textLength="9.2" lengthAdjust="spacingAndGlyphs">33</text>
<text x="101.6" y="249.9" text-anchor="middle" textLength="9.2" lengthAdjust="spacingAndGlyphs">35</text>
<text x="140.7" y="158.7" text-anchor="middle" textLength="9.2" lengthAdjust="spacingAndGlyphs">48</text>
<text x="131.0" y="204.1" text-anchor="middle" textLength="9.2" lengthAdjust="spacingAndGlyphs">30</text>
<text x="183.2" y="186.4" text-anchor="middle" textLength="9.2" lengthAdjust="spacingAndGlyphs">31</text>
<text x="242.4" y="170.1" text-anchor="middle" textLength="9.2" lengthAdjust="spacingAndGlyphs">63</text>
<text x="184.8" y="198.9" text-anchor="middle" textLength="9.2" lengthAdjust="spacingAndGlyphs">25</text>
<text x="182.0" y="214.4" text-anchor="middle" textLength="9.2" lengthAdjust="spacingAndGlyphs">26</text>
<text x="251.1" y="207.2" text-anchor="middle" textLength="9.2" lengthAdjust="spacingAndGlyphs">28</text>
<text x="251.0" y="225.1" text-anchor="middle" textLength="9.2" lengthAdjust="spacingAndGlyphs">29</text>
<text x="272.9" y="192.7" text-anchor="middle" textLength="9.2" lengthAdjust="spacingAndGlyphs">50</text>
<text x="287.3" y="224.0" text-anchor="middle" textLength="9.2" lengthAdjust="spacingAndGlyphs">41</text>
<text x="272.8" y="298.1" text-anchor="middle" textLength="4.6" lengthAdjust="spacingAndGlyphs">1</text>
<text x="267.7" y="315.9" text-anchor="middle" textLength="9.2" lengthAdjust="spacingAndGlyphs">19</text>
<text x="212.0" y="353.2" text-anchor="middle" textLength="9.2" lengthAdjust="spacingAndGlyphs">20</text>
<text x="250.5" y="359.1" text-anchor="middle" textLength="9.2" lengthAdjust="spacingAndGlyphs">27</text>
<text x="215.4" y="368.1" text-anchor="middle" textLength="9.2" lengthAdjust="spacingAndGlyphs">24</text>
<text x="113.3" y="386.5" text-anchor="middle" textLength="9.2" lengthAdjust="spacingAndGlyphs">21</text>
<text x="122.8" y="425.6" text-anchor="middle" textLength="9.2" lengthAdjust="spacingAndGlyphs">54</text>
<text x="77.5" y="437.4" text-anchor="middle" textLength="9.2" lengthAdjust="spacingAndGlyphs">53</text>
<text x="142.2" y="422.5" text-anchor="middle" textLength="9.2" lengthAdjust="spacingAndGlyphs">61</text>
<text x="25.1" y="487.5" text-anchor="middle" textLength="9.2" lengthAdjust="spacingAndGlyphs">51</text>
<text x="205.4" y="405.1" text-anchor="middle" textLength="9.2" lengthAdjust="spacingAndGlyphs">60</text>
<text x="249.9" y="393.4" text-anchor="middle" textLength="9.2" lengthAdjust="spacingAndGlyphs">57</text>
<text x="282.1" y="478.2" text-anchor="middle" textLength="9.2" lengthAdjust="spacingAndGlyphs">62</text>
<text x="244.6" y="489.7" text-anchor="middle" textLength="9.2" lengthAdjust="spacingAndGlyphs">52</text>
<text x="229.4" y="490.9" text-anchor="middle" textLength="9.2" lengthAdjust="spacingAndGlyphs">59</text>
<text x="183.1" y="511.6" text-anchor="middle" textLength="9.2" lengthAdjust="spacingAndGlyphs">58</text>
<text x="165.9" y="514.1" text-anchor="middle" textLength="9.2" lengthAdjust="spacingAndGlyphs">55</text>
<text x="111.9" y="519.9" text-anchor="middle" textLength="9.2" lengthAdjust="spacingAndGlyphs">56</text>
<rect x="28.4" y="190.1" width="11.7" height="8.8" fill="#ffff00"/>
<text x="34.2" y="197.6" text-anchor="middle" textLength="9.2" lengthAdjust="spacingAndGlyphs">49</text>
<rect x="38.1" y="211.0" width="10.4" height="9.0" fill="#ffff00"/>
<text x="43.3" y="218.6" text-anchor="middle" textLength="9.2" lengthAdjust="spacingAndGlyphs">15</text>
<rect x="36.5" y="223.1" width="12.0" height="9.8" fill="#ffff00"/>
<text x="42.5" y="231.1" text-anchor="middle" textLength="9.2" lengthAdjust="spacingAndGlyphs">16</text>
<rect x="34.4" y="234.2" width="11.7" height="10.0" fill="#ffff00"/>
<text x="40.2" y="242.3" text-anchor="middle" textLength="9.2" lengthAdjust="spacingAndGlyphs">14</text>
<rect x="33.1" y="244.1" width="11.7" height="10.1" fill="#ffff00"/>
<text x="39.0" y="252.3" text-anchor="middle" textLength="9.2" lengthAdjust="spacingAndGlyphs">13</text>
<rect x="40.1" y="253.4" width="8.4" height="8.4" fill="#ffff00"/>
<text x="44.3" y="260.7" text-anchor="middle" textLength="4.6" lengthAdjust="spacingAndGlyphs">4</text>
<rect x="112.4" y="227.0" width="10.6" height="9.2" fill="#ffff00"/>
<text x="117.7" y="234.7" text-anchor="middle" textLength="9.2" lengthAdjust="spacingAndGlyphs">44</text>
<rect x="76.2" y="250.9" width="7.5" height="8.4" fill="#ffff00"/>
<text x="79.9" y="258.2" text-anchor="middle" textLength="4.6" lengthAdjust="spacingAndGlyphs">5</text>
<rect x="135.2" y="209.0" width="7.8" height="9.6" fill="#ffff00"/>
<text x="139.1" y="216.9" text-anchor="middle" textLength="4.6" lengthAdjust="spacingAndGlyphs">7</text>
<rect x="135.2" y="218.6" width="7.8" height="9.2" fill="#ffff00"/>
<text x="139.1" y="226.3" text-anchor="middle" textLength="4.6" lengthAdjust="spacingAndGlyphs">8</text>
<rect x="216.1" y="211.1" width="7.9" height="10.0" fill="#ffff00"/>
<text x="220.0" y="219.2" text-anchor="middle" textLength="4.6" lengthAdjust="spacingAndGlyphs">6</text>
<rect x="305.2" y="216.1" width="12.0" height="10.0" fill="#ffff00"/>
<text x="311.2" y="224.2" text-anchor="middle" textLength="9.2" lengthAdjust="spacingAndGlyphs">39</text>
<rect x="281.3" y="254.3" width="11.2" height="9.6" fill="#ffff00"/>
<text x="286.9" y="262.2" text-anchor="middle" textLength="9.2" lengthAdjust="spacingAndGlyphs">38</text>
<rect x="296.0" y="255.1" width="12.8" height="9.4" fill="#ffff00"/>
<text x="302.4" y="262.9" text-anchor="middle" textLength="9.2" lengthAdjust="spacingAndGlyphs">40</text>
<rect x="287.5" y="268.8" width="11.3" height="8.7" fill="#ffff00"/>
<text x="293.1" y="276.3" text-anchor="middle" textLength="9.2" lengthAdjust="spacingAndGlyphs">36</text>
<rect x="278.1" y="278.4" width="11.9" height="9.3" fill="#ffff00"/>
<text x="284.0" y="286.1" text-anchor="middle" textLength="9.2" lengthAdjust="spacingAndGlyphs">37</text>
<rect x="8.0" y="300.3" width="10.0" height="9.2" fill="#ffff00"/>
<text x="13.0" y="308.0" text-anchor="middle" textLength="9.2" lengthAdjust="spacingAndGlyphs">45</text>
<rect x="10.9" y="336.7" width="13.4" height="10.0" fill="#ffff00"/>
<text x="17.6" y="344.8" text-anchor="middle" textLength="9.2" lengthAdjust="spacingAndGlyphs">46</text>
<rect x="91.7" y="327.5" width="10.7" height="8.4" fill="#ffff00"/>
<text x="97.0" y="334.8" text-anchor="middle" textLength="9.2" lengthAdjust="spacingAndGlyphs">10</text>
<rect x="125.8" y="355.9" width="12.2" height="9.5" fill="#ffff00"/>
<text x="131.9" y="363.8" text-anchor="middle" textLength="9.2" lengthAdjust="spacingAndGlyphs">42</text>
<rect x="244.4" y="324.2" width="7.6" height="8.8" fill="#ffff00"/>
<text x="248.2" y="331.7" text-anchor="middle" textLength="4.6" lengthAdjust="spacingAndGlyphs">9</text>
<rect x="80.0" y="369.3" width="7.0" height="9.2" fill="#ffff00"/>
<text x="83.5" y="377.0" text-anchor="middle" textLength="4.6" lengthAdjust="spacingAndGlyphs">3</text>
<rect x="38.8" y="380.2" width="8.0" height="8.7" fill="#ffff00"/>
<text x="42.8" y="387.7" text-anchor="middle" textLength="4.6" lengthAdjust="spacingAndGlyphs">2</text>
<rect x="89.0" y="413.3" width="12.2" height="9.7" fill="#ffff00"/>
<text x="95.1" y="421.3" text-anchor="middle" textLength="9.2" lengthAdjust="spacingAndGlyphs">12</text>
<rect x="35.1" y="414.2" width="10.4" height="8.3" fill="#f47f7f"/>
<text x="40.3" y="421.5" text-anchor="middle" textLength="9.2" lengthAdjust="spacingAndGlyphs">11</text>
</svg>
<div class="abs" style="left:352px;top:19px;width:716px;height:573px;background:#fff;border-left:1px solid #e0e0e0;box-sizing:border-box"></div>
<div class="abs" style="left:353px;top:220px;width:715px;height:20px;background:#3399ff"></div>
<div class="hl" style="left:353px;top:59px;width:715px"></div>
<div class="hl" style="left:353px;top:79px;width:715px"></div>
<div class="hl" style="left:353px;top:99px;width:715px"></div>
<div class="hl" style="left:353px;top:119px;width:715px"></div>
<div class="hl" style="left:353px;top:139px;width:715px"></div>
<div class="hl" style="left:353px;top:159px;width:715px"></div>
<div class="hl" style="left:353px;top:179px;width:715px"></div>
<div class="hl" style="left:353px;top:199px;width:715px"></div>
<div class="hl" style="left:353px;top:219px;width:715px"></div>
<div class="hl" style="left:353px;top:239px;width:715px"></div>
<div class="hl" style="left:353px;top:259px;width:715px"></div>
<div class="hl" style="left:353px;top:279px;width:715px"></div>
<div class="hl" style="left:353px;top:299px;width:715px"></div>
<div class="hl" style="left:353px;top:319px;width:715px"></div>
<div class="hl" style="left:353px;top:339px;width:715px"></div>
<div class="hl" style="left:353px;top:359px;width:715px"></div>
<div class="hl" style="left:353px;top:379px;width:715px"></div>
<div class="hl" style="left:353px;top:399px;width:715px"></div>
<div class="hl" style="left:353px;top:419px;width:715px"></div>
<div class="hl" style="left:353px;top:439px;width:715px"></div>
<div class="hl" style="left:353px;top:459px;width:715px"></div>
<div class="hl" style="left:353px;top:479px;width:715px"></div>
<div class="hl" style="left:353px;top:499px;width:715px"></div>
<div class="hl" style="left:353px;top:519px;width:715px"></div>
<div class="hl" style="left:353px;top:539px;width:715px"></div>
<div class="hl" style="left:353px;top:559px;width:672px"></div>
<div class="hl" style="left:353px;top:579px;width:672px"></div>
<div class="vl" style="left:432px;top:40px;height:540px"></div>
<div class="vl" style="left:497px;top:40px;height:540px"></div>
<div class="vl" style="left:532px;top:40px;height:540px"></div>
<div class="vl" style="left:616px;top:40px;height:540px"></div>
<div class="vl" style="left:651px;top:40px;height:540px"></div>
<div class="vl" style="left:735px;top:40px;height:540px"></div>
<div class="vl" style="left:858px;top:40px;height:540px"></div>
<div class="vl" style="left:910px;top:40px;height:540px"></div>
<div class="vl" style="left:952px;top:40px;height:540px"></div>
<div class="abs" style="left:353px;top:20px;width:715px;height:20px;background:#00386f"></div>
<div class="abs" style="left:432px;top:20px;width:1px;height:20px;background:#fff"></div>
<div class="abs" style="left:497px;top:20px;width:1px;height:20px;background:#fff"></div>
<div class="abs" style="left:532px;top:20px;width:1px;height:20px;background:#fff"></div>
<div class="abs" style="left:616px;top:20px;width:1px;height:20px;background:#fff"></div>
<div class="abs" style="left:651px;top:20px;width:1px;height:20px;background:#fff"></div>
<div class="abs" style="left:735px;top:20px;width:1px;height:20px;background:#fff"></div>
<div class="abs" style="left:858px;top:20px;width:1px;height:20px;background:#fff"></div>
<div class="abs" style="left:910px;top:20px;width:1px;height:20px;background:#fff"></div>
<div class="abs" style="left:952px;top:20px;width:1px;height:20px;background:#fff"></div>
<span class="t" style="left:438px;top:24px;color:#fff;transform:scaleX(0.9593);font-size:11px;">Symbol(s)</span>
<span class="t" style="left:503px;top:24px;color:#fff;transform:scaleX(1.0277);font-size:11px;">Item</span>
<span class="t" style="left:538px;top:24px;color:#fff;transform:scaleX(0.9813);font-size:11px;">Parts No.</span>
<span class="t" style="left:622px;top:24px;color:#fff;transform:scaleX(1.0589);font-size:11px;">Qty.</span>
<span class="t" style="left:657px;top:24px;color:#fff;transform:scaleX(0.9949);font-size:11px;">Latest Part No.</span>
<span class="t" style="left:741px;top:24px;color:#fff;transform:scaleX(1.0630);font-size:11px;">Description</span>
<span class="t" style="left:864px;top:24px;color:#fff;transform:scaleX(1.0552);font-size:11px;">Cut Out</span>
<span class="t" style="left:916px;top:24px;color:#fff;transform:scaleX(1.0218);font-size:11px;">Cut In</span>
<span class="t" style="left:958px;top:24px;color:#fff;transform:scaleX(1.0170);font-size:11px;">Comment</span>

<svg class="abs" style="left:378px;top:20px" width="22" height="20" viewBox="378 20 22 20">
 <rect x="380.5" y="22.5" width="13" height="13" fill="#e9eef5" stroke="#1b6ec2" stroke-width="1"/>
 <rect x="380" y="22" width="14" height="2.6" fill="#1b6ec2"/>
 <path d="M382 26.5h1.5M382 28.5h1.5M382 30.5h1.5M382 32.5h1.5" stroke="#334" stroke-width="0.8"/>
 <line x1="391.5" y1="33" x2="396" y2="37.5" stroke="#2a7bd0" stroke-width="2" stroke-linecap="round"/>
 <circle cx="388.5" cy="30" r="4.4" fill="#d9dde2" stroke="#1a4f8c" stroke-width="1"/>
 <ellipse cx="387.6" cy="28.6" rx="2.2" ry="1.4" fill="#f4f6f8"/>
</svg>

<svg class="ic" style="left:358px;top:43px" width="13" height="13"><use href="#gear" x="0.00" y="0.00" width="12" height="12"/></svg>
<svg class="ic" style="left:374px;top:42px" width="18" height="15"><use href="#cart" x="0.30" y="0.10" width="17" height="14"/></svg>
<svg class="ic" style="left:392px;top:41px" width="16" height="16"><use href="#info" x="0.85" y="0.85" width="15" height="15"/></svg>
<span class="t" style="left:501.5px;top:43px;color:#000;transform:scaleX(0.9650);">2</span>
<span class="t" style="left:535.5px;top:43px;color:#000;transform:scaleX(0.9650);">33152155</span>
<span class="t" style="left:619.5px;top:43px;color:#000;transform:scaleX(0.9650);">6</span>
<span class="t" style="left:654.5px;top:43px;color:#000;transform:scaleX(0.9650);">33152155</span>
<div class="clip" style="left:736px;top:40px;width:122px"><span class="t" style="left:3px;top:3px;color:#000;transform:scaleX(0.8657);">INSERT</span></div>
<svg class="ic" style="left:358px;top:63px" width="13" height="13"><use href="#gear" x="0.00" y="0.00" width="12" height="12"/></svg>
<svg class="ic" style="left:374px;top:62px" width="18" height="15"><use href="#cart" x="0.30" y="0.10" width="17" height="14"/></svg>
<svg class="ic" style="left:392px;top:61px" width="16" height="16"><use href="#info" x="0.85" y="0.85" width="15" height="15"/></svg>
<span class="t" style="left:501.5px;top:63px;color:#000;transform:scaleX(0.9650);">3</span>
<span class="t" style="left:535.5px;top:63px;color:#000;transform:scaleX(0.9650);">33152154</span>
<span class="t" style="left:619.5px;top:63px;color:#000;transform:scaleX(0.9650);">6</span>
<span class="t" style="left:654.5px;top:63px;color:#000;transform:scaleX(0.9650);">33152154</span>
<div class="clip" style="left:736px;top:60px;width:122px"><span class="t" style="left:3px;top:3px;color:#000;transform:scaleX(0.8657);">INSERT</span></div>
<svg class="ic" style="left:358px;top:83px" width="13" height="13"><use href="#gear" x="0.00" y="0.00" width="12" height="12"/></svg>
<svg class="ic" style="left:374px;top:82px" width="18" height="15"><use href="#cart" x="0.30" y="0.10" width="17" height="14"/></svg>
<svg class="ic" style="left:392px;top:81px" width="16" height="16"><use href="#sicon" x="0.85" y="0.85" width="15" height="15"/></svg>
<svg class="ic" style="left:410px;top:81px" width="16" height="16"><use href="#info" x="0.85" y="0.85" width="15" height="15"/></svg>
<span class="t" style="left:501.5px;top:83px;color:#000;transform:scaleX(0.9650);">4</span>
<span class="t" style="left:535.5px;top:83px;color:#000;transform:scaleX(0.9650);">3343F031</span>
<span class="t" style="left:619.5px;top:83px;color:#000;transform:scaleX(0.9650);">6</span>
<span class="t" style="left:654.5px;top:83px;color:#000;transform:scaleX(0.9650);">3343F041</span>
<div class="clip" style="left:736px;top:80px;width:122px"><span class="t" style="left:3px;top:3px;color:#000;transform:scaleX(0.9471);">GUIDE</span></div>
<svg class="ic" style="left:358px;top:103px" width="13" height="13"><use href="#gear" x="0.00" y="0.00" width="12" height="12"/></svg>
<svg class="ic" style="left:374px;top:102px" width="18" height="15"><use href="#cart" x="0.30" y="0.10" width="17" height="14"/></svg>
<svg class="ic" style="left:392px;top:101px" width="16" height="16"><use href="#sicon" x="0.85" y="0.85" width="15" height="15"/></svg>
<svg class="ic" style="left:410px;top:101px" width="16" height="16"><use href="#info" x="0.85" y="0.85" width="15" height="15"/></svg>
<span class="t" style="left:501.5px;top:103px;color:#000;transform:scaleX(0.9650);">5</span>
<span class="t" style="left:535.5px;top:103px;color:#000;transform:scaleX(0.9650);">3343J002</span>
<span class="t" style="left:619.5px;top:103px;color:#000;transform:scaleX(0.9650);">6</span>
<span class="t" style="left:654.5px;top:103px;color:#000;transform:scaleX(0.9650);">3343J021</span>
<div class="clip" style="left:736px;top:100px;width:122px"><span class="t" style="left:3px;top:3px;color:#000;transform:scaleX(0.9410);">VALVE GUIDE</span></div>
<svg class="ic" style="left:358px;top:123px" width="13" height="13"><use href="#gear" x="0.00" y="0.00" width="12" height="12"/></svg>
<svg class="ic" style="left:374px;top:122px" width="18" height="15"><use href="#cart" x="0.30" y="0.10" width="17" height="14"/></svg>
<svg class="ic" style="left:392px;top:121px" width="16" height="16"><use href="#info" x="0.85" y="0.85" width="15" height="15"/></svg>
<span class="t" style="left:501.5px;top:123px;color:#000;transform:scaleX(0.9650);">6</span>
<span class="t" style="left:535.5px;top:123px;color:#000;transform:scaleX(0.9650);">3312K014</span>
<span class="t" style="left:619.5px;top:123px;color:#000;transform:scaleX(0.9650);">6</span>
<span class="t" style="left:654.5px;top:123px;color:#000;transform:scaleX(0.9650);">3312K014</span>
<div class="clip" style="left:736px;top:120px;width:122px"><span class="t" style="left:3px;top:3px;color:#000;transform:scaleX(0.8292);">SLEEVE</span></div>
<svg class="ic" style="left:358px;top:143px" width="13" height="13"><use href="#gear" x="0.00" y="0.00" width="12" height="12"/></svg>
<svg class="ic" style="left:374px;top:142px" width="18" height="15"><use href="#cart" x="0.30" y="0.10" width="17" height="14"/></svg>
<svg class="ic" style="left:392px;top:141px" width="16" height="16"><use href="#info" x="0.85" y="0.85" width="15" height="15"/></svg>
<span class="t" style="left:501.5px;top:143px;color:#000;transform:scaleX(0.9650);">7</span>
<span class="t" style="left:535.5px;top:143px;color:#000;transform:scaleX(0.9650);">2431154</span>
<span class="t" style="left:619.5px;top:143px;color:#000;transform:scaleX(0.9650);">3</span>
<span class="t" style="left:654.5px;top:143px;color:#000;transform:scaleX(0.9650);">2431154</span>
<div class="clip" style="left:736px;top:140px;width:122px"><span class="t" style="left:3px;top:3px;color:#000;transform:scaleX(0.8843);">PLUG</span></div>
<svg class="ic" style="left:358px;top:163px" width="13" height="13"><use href="#gear" x="0.00" y="0.00" width="12" height="12"/></svg>
<svg class="ic" style="left:374px;top:162px" width="18" height="15"><use href="#cart" x="0.30" y="0.10" width="17" height="14"/></svg>
<svg class="ic" style="left:392px;top:161px" width="16" height="16"><use href="#info" x="0.85" y="0.85" width="15" height="15"/></svg>
<span class="t" style="left:501.5px;top:163px;color:#000;transform:scaleX(0.9650);">8</span>
<span class="t" style="left:535.5px;top:163px;color:#000;transform:scaleX(0.9650);">32417165</span>
<span class="t" style="left:619.5px;top:163px;color:#000;transform:scaleX(0.9650);">6</span>
<span class="t" style="left:654.5px;top:163px;color:#000;transform:scaleX(0.9650);">32417165</span>
<div class="clip" style="left:736px;top:160px;width:122px"><span class="t" style="left:3px;top:3px;color:#000;transform:scaleX(0.8843);">PLUG</span></div>
<svg class="ic" style="left:358px;top:183px" width="13" height="13"><use href="#gear" x="0.00" y="0.00" width="12" height="12"/></svg>
<svg class="ic" style="left:374px;top:182px" width="18" height="15"><use href="#cart" x="0.30" y="0.10" width="17" height="14"/></svg>
<svg class="ic" style="left:392px;top:181px" width="16" height="16"><use href="#info" x="0.85" y="0.85" width="15" height="15"/></svg>
<span class="t" style="left:501.5px;top:183px;color:#000;transform:scaleX(0.9650);">9</span>
<span class="t" style="left:535.5px;top:183px;color:#000;transform:scaleX(0.9650);">32417156</span>
<span class="t" style="left:618.5px;top:183px;color:#000;transform:scaleX(0.9650);">13</span>
<span class="t" style="left:654.5px;top:183px;color:#000;transform:scaleX(0.9650);">32417156</span>
<div class="clip" style="left:736px;top:180px;width:122px"><span class="t" style="left:3px;top:3px;color:#000;transform:scaleX(0.8843);">PLUG</span></div>
<svg class="ic" style="left:358px;top:203px" width="13" height="13"><use href="#gear" x="0.00" y="0.00" width="12" height="12"/></svg>
<svg class="ic" style="left:374px;top:202px" width="18" height="15"><use href="#cart" x="0.30" y="0.10" width="17" height="14"/></svg>
<svg class="ic" style="left:392px;top:201px" width="16" height="16"><use href="#info" x="0.85" y="0.85" width="15" height="15"/></svg>
<span class="t" style="left:500.3px;top:203px;color:#000;transform:scaleX(0.9650);">10</span>
<span class="t" style="left:535.5px;top:203px;color:#000;transform:scaleX(0.9650);">0650710</span>
<span class="t" style="left:619.5px;top:203px;color:#000;transform:scaleX(0.9650);">5</span>
<span class="t" style="left:654.5px;top:203px;color:#000;transform:scaleX(0.9650);">0650710</span>
<div class="clip" style="left:736px;top:200px;width:122px"><span class="t" style="left:3px;top:3px;color:#000;transform:scaleX(0.8843);">PLUG</span></div>
<svg class="ic" style="left:358px;top:223px" width="13" height="13"><use href="#gear" x="0.00" y="0.00" width="12" height="12"/></svg>
<svg class="ic" style="left:374px;top:222px" width="18" height="15"><use href="#cartsel" x="0.30" y="0.10" width="17" height="14"/></svg>
<svg class="ic" style="left:392px;top:221px" width="16" height="16"><use href="#infosel" x="0.85" y="0.85" width="15" height="15"/></svg>
<span class="t" style="left:500.3px;top:223px;color:#fff;transform:scaleX(0.9650);">11</span>
<span class="t" style="left:535.5px;top:223px;color:#fff;transform:scaleX(0.9650);">31431315</span>
<span class="t" style="left:619.5px;top:223px;color:#fff;transform:scaleX(0.9650);">6</span>
<span class="t" style="left:654.5px;top:223px;color:#fff;transform:scaleX(0.9650);">31431315</span>
<div class="clip" style="left:736px;top:220px;width:122px"><span class="t" style="left:3px;top:3px;color:#fff;transform:scaleX(0.9167);">INTAKE VALVE</span></div>
<svg class="ic" style="left:358px;top:243px" width="13" height="13"><use href="#gear" x="0.00" y="0.00" width="12" height="12"/></svg>
<svg class="ic" style="left:374px;top:242px" width="18" height="15"><use href="#cart" x="0.30" y="0.10" width="17" height="14"/></svg>
<svg class="ic" style="left:392px;top:241px" width="16" height="16"><use href="#info" x="0.85" y="0.85" width="15" height="15"/></svg>
<span class="t" style="left:500.3px;top:243px;color:#000;transform:scaleX(0.9650);">12</span>
<span class="t" style="left:535.5px;top:243px;color:#000;transform:scaleX(0.9650);">3142A051</span>
<span class="t" style="left:619.5px;top:243px;color:#000;transform:scaleX(0.9650);">6</span>
<span class="t" style="left:654.5px;top:243px;color:#000;transform:scaleX(0.9650);">3142A051</span>
<div class="clip" style="left:736px;top:240px;width:122px"><span class="t" style="left:3px;top:3px;color:#000;transform:scaleX(0.9052);">EXHAUST VALVE</span></div>
<svg class="ic" style="left:358px;top:263px" width="13" height="13"><use href="#gear" x="0.00" y="0.00" width="12" height="12"/></svg>
<svg class="ic" style="left:374px;top:262px" width="18" height="15"><use href="#cart" x="0.30" y="0.10" width="17" height="14"/></svg>
<svg class="ic" style="left:392px;top:261px" width="16" height="16"><use href="#info" x="0.85" y="0.85" width="15" height="15"/></svg>
<span class="t" style="left:500.3px;top:263px;color:#000;transform:scaleX(0.9650);">13</span>
<span class="t" style="left:535.5px;top:263px;color:#000;transform:scaleX(0.9650);">33415118</span>
<span class="t" style="left:618.5px;top:263px;color:#000;transform:scaleX(0.9650);">12</span>
<span class="t" style="left:654.5px;top:263px;color:#000;transform:scaleX(0.9650);">33415118</span>
<div class="clip" style="left:736px;top:260px;width:122px"><span class="t" style="left:3px;top:3px;color:#000;transform:scaleX(0.9538);">VALVE SPRING WASHER</span></div>
<svg class="ic" style="left:358px;top:283px" width="13" height="13"><use href="#gear" x="0.00" y="0.00" width="12" height="12"/></svg>
<svg class="ic" style="left:374px;top:282px" width="18" height="15"><use href="#cart" x="0.30" y="0.10" width="17" height="14"/></svg>
<svg class="ic" style="left:392px;top:281px" width="16" height="16"><use href="#info" x="0.85" y="0.85" width="15" height="15"/></svg>
<span class="t" style="left:500.3px;top:283px;color:#000;transform:scaleX(0.9650);">14</span>
<span class="t" style="left:535.5px;top:283px;color:#000;transform:scaleX(0.9650);">33817117</span>
<span class="t" style="left:618.5px;top:283px;color:#000;transform:scaleX(0.9650);">12</span>
<span class="t" style="left:654.5px;top:283px;color:#000;transform:scaleX(0.9650);">33817117</span>
<div class="clip" style="left:736px;top:280px;width:122px"><span class="t" style="left:3px;top:3px;color:#000;transform:scaleX(0.9075);">SEAL - VALVE STEM</span></div>
<svg class="ic" style="left:358px;top:303px" width="13" height="13"><use href="#gear" x="0.00" y="0.00" width="12" height="12"/></svg>
<svg class="ic" style="left:374px;top:302px" width="18" height="15"><use href="#cart" x="0.30" y="0.10" width="17" height="14"/></svg>
<svg class="ic" style="left:392px;top:301px" width="16" height="16"><use href="#sicon" x="0.85" y="0.85" width="15" height="15"/></svg>
<svg class="ic" style="left:410px;top:301px" width="16" height="16"><use href="#info" x="0.85" y="0.85" width="15" height="15"/></svg>
<span class="t" style="left:500.3px;top:303px;color:#000;transform:scaleX(0.9650);">15</span>
<span class="t" style="left:535.5px;top:303px;color:#000;transform:scaleX(0.9650);">31745122</span>
<span class="t" style="left:618.5px;top:303px;color:#000;transform:scaleX(0.9650);">12</span>
<span class="t" style="left:654.5px;top:303px;color:#000;transform:scaleX(0.9650);">T417880</span>
<div class="clip" style="left:736px;top:300px;width:122px"><span class="t" style="left:3px;top:3px;color:#000;transform:scaleX(0.9181);">VALVE SPRING OUTER</span></div>
<svg class="ic" style="left:358px;top:323px" width="13" height="13"><use href="#gear" x="0.00" y="0.00" width="12" height="12"/></svg>
<svg class="ic" style="left:374px;top:322px" width="18" height="15"><use href="#cart" x="0.30" y="0.10" width="17" height="14"/></svg>
<svg class="ic" style="left:392px;top:321px" width="16" height="16"><use href="#sicon" x="0.85" y="0.85" width="15" height="15"/></svg>
<svg class="ic" style="left:410px;top:321px" width="16" height="16"><use href="#info" x="0.85" y="0.85" width="15" height="15"/></svg>
<span class="t" style="left:500.3px;top:323px;color:#000;transform:scaleX(0.9650);">16</span>
<span class="t" style="left:535.5px;top:323px;color:#000;transform:scaleX(0.9650);">31744133</span>
<span class="t" style="left:618.5px;top:323px;color:#000;transform:scaleX(0.9650);">12</span>
<span class="t" style="left:654.5px;top:323px;color:#000;transform:scaleX(0.9650);">T417885</span>
<div class="clip" style="left:736px;top:320px;width:122px"><span class="t" style="left:3px;top:3px;color:#000;transform:scaleX(0.9261);">VALVE SPRING INNER</span></div>
<svg class="ic" style="left:358px;top:343px" width="13" height="13"><use href="#gear" x="0.00" y="0.00" width="12" height="12"/></svg>
<svg class="ic" style="left:374px;top:342px" width="18" height="15"><use href="#cart" x="0.30" y="0.10" width="17" height="14"/></svg>
<svg class="ic" style="left:392px;top:341px" width="16" height="16"><use href="#info" x="0.85" y="0.85" width="15" height="15"/></svg>
<span class="t" style="left:500.3px;top:343px;color:#000;transform:scaleX(0.9650);">17</span>
<span class="t" style="left:535.5px;top:343px;color:#000;transform:scaleX(0.9650);">33424107</span>
<span class="t" style="left:618.5px;top:343px;color:#000;transform:scaleX(0.9650);">12</span>
<span class="t" style="left:654.5px;top:343px;color:#000;transform:scaleX(0.9650);">33424107</span>
<div class="clip" style="left:736px;top:340px;width:122px"><span class="t" style="left:3px;top:3px;color:#000;transform:scaleX(0.8840);">CAP</span></div>
<svg class="ic" style="left:358px;top:363px" width="13" height="13"><use href="#gear" x="0.00" y="0.00" width="12" height="12"/></svg>
<svg class="ic" style="left:374px;top:362px" width="18" height="15"><use href="#cart" x="0.30" y="0.10" width="17" height="14"/></svg>
<svg class="ic" style="left:394px;top:360px" width="12" height="18"><use href="#book" x="0.50" y="0.80" width="11" height="17"/></svg>
<svg class="ic" style="left:410px;top:361px" width="16" height="16"><use href="#info" x="0.85" y="0.85" width="15" height="15"/></svg>
<svg class="ic" style="left:436px;top:361px" width="17" height="16"><use href="#bubble" x="0.30" y="0.10" width="16" height="15"/></svg>
<span class="t" style="left:500.3px;top:363px;color:#000;transform:scaleX(0.9650);">18</span>
<span class="t" style="left:535.5px;top:363px;color:#000;transform:scaleX(0.9650);">33173108</span>
<span class="t" style="left:618.5px;top:363px;color:#000;transform:scaleX(0.9650);">12</span>
<span class="t" style="left:654.5px;top:363px;color:#000;transform:scaleX(0.9650);">33173108</span>
<div class="clip" style="left:736px;top:360px;width:122px"><span class="t" style="left:3px;top:3px;color:#000;transform:scaleX(0.8973);">VALVE COLLET</span></div>
<svg class="ic" style="left:358px;top:383px" width="13" height="13"><use href="#gear" x="0.00" y="0.00" width="12" height="12"/></svg>
<svg class="ic" style="left:374px;top:381px" width="16" height="16"><use href="#info" x="0.85" y="0.85" width="15" height="15"/></svg>
<svg class="ic" style="left:436px;top:381px" width="17" height="16"><use href="#bubble" x="0.30" y="0.10" width="16" height="15"/></svg>
<span class="t" style="left:501.5px;top:383px;color:#000;transform:scaleX(0.9650);">36</span>
<span class="t" style="left:619.5px;top:383px;color:#000;transform:scaleX(0.9650);">1</span>
<div class="clip" style="left:736px;top:380px;width:122px"><span class="t" style="left:3px;top:3px;color:#000;transform:scaleX(0.9137);">COVER</span></div>
<svg class="ic" style="left:358px;top:403px" width="13" height="13"><use href="#gear" x="0.00" y="0.00" width="12" height="12"/></svg>
<svg class="ic" style="left:374px;top:401px" width="16" height="16"><use href="#info" x="0.85" y="0.85" width="15" height="15"/></svg>
<svg class="ic" style="left:436px;top:401px" width="17" height="16"><use href="#bubble" x="0.30" y="0.10" width="16" height="15"/></svg>
<span class="t" style="left:501.5px;top:403px;color:#000;transform:scaleX(0.9650);">37</span>
<span class="t" style="left:619.5px;top:403px;color:#000;transform:scaleX(0.9650);">1</span>
<div class="clip" style="left:736px;top:400px;width:122px"><span class="t" style="left:3px;top:3px;color:#000;transform:scaleX(0.9046);">JOINT</span></div>
<svg class="ic" style="left:358px;top:423px" width="13" height="13"><use href="#gear" x="0.00" y="0.00" width="12" height="12"/></svg>
<svg class="ic" style="left:374px;top:421px" width="16" height="16"><use href="#info" x="0.85" y="0.85" width="15" height="15"/></svg>
<svg class="ic" style="left:436px;top:421px" width="17" height="16"><use href="#bubble" x="0.30" y="0.10" width="16" height="15"/></svg>
<span class="t" style="left:501.5px;top:423px;color:#000;transform:scaleX(0.9650);">38</span>
<span class="t" style="left:619.5px;top:423px;color:#000;transform:scaleX(0.9650);">6</span>
<div class="clip" style="left:736px;top:420px;width:122px"><span class="t" style="left:3px;top:3px;color:#000;transform:scaleX(0.8847);">STUD</span></div>
<svg class="ic" style="left:358px;top:443px" width="13" height="13"><use href="#gear" x="0.00" y="0.00" width="12" height="12"/></svg>
<svg class="ic" style="left:374px;top:441px" width="16" height="16"><use href="#info" x="0.85" y="0.85" width="15" height="15"/></svg>
<svg class="ic" style="left:436px;top:441px" width="17" height="16"><use href="#bubble" x="0.30" y="0.10" width="16" height="15"/></svg>
<span class="t" style="left:501.5px;top:443px;color:#000;transform:scaleX(0.9650);">39</span>
<span class="t" style="left:619.5px;top:443px;color:#000;transform:scaleX(0.9650);">6</span>
<div class="clip" style="left:736px;top:440px;width:122px"><span class="t" style="left:3px;top:3px;color:#000;transform:scaleX(0.9178);">NUT</span></div>
<svg class="ic" style="left:358px;top:463px" width="13" height="13"><use href="#gear" x="0.00" y="0.00" width="12" height="12"/></svg>
<svg class="ic" style="left:374px;top:461px" width="16" height="16"><use href="#info" x="0.85" y="0.85" width="15" height="15"/></svg>
<svg class="ic" style="left:436px;top:461px" width="17" height="16"><use href="#bubble" x="0.30" y="0.10" width="16" height="15"/></svg>
<span class="t" style="left:501.5px;top:463px;color:#000;transform:scaleX(0.9650);">40</span>
<span class="t" style="left:619.5px;top:463px;color:#000;transform:scaleX(0.9650);">6</span>
<div class="clip" style="left:736px;top:460px;width:122px"><span class="t" style="left:3px;top:3px;color:#000;transform:scaleX(0.9347);">WASHER</span></div>
<svg class="ic" style="left:358px;top:483px" width="13" height="13"><use href="#gear" x="0.00" y="0.00" width="12" height="12"/></svg>
<svg class="ic" style="left:374px;top:482px" width="18" height="15"><use href="#cart" x="0.30" y="0.10" width="17" height="14"/></svg>
<svg class="ic" style="left:392px;top:481px" width="16" height="16"><use href="#info" x="0.85" y="0.85" width="15" height="15"/></svg>
<span class="t" style="left:501.5px;top:483px;color:#000;transform:scaleX(0.9650);">42</span>
<span class="t" style="left:535.5px;top:483px;color:#000;transform:scaleX(0.9650);">2431154</span>
<span class="t" style="left:619.5px;top:483px;color:#000;transform:scaleX(0.9650);">1</span>
<span class="t" style="left:654.5px;top:483px;color:#000;transform:scaleX(0.9650);">2431154</span>
<div class="clip" style="left:736px;top:480px;width:122px"><span class="t" style="left:3px;top:3px;color:#000;transform:scaleX(0.8843);">PLUG</span></div>
<svg class="ic" style="left:358px;top:503px" width="13" height="13"><use href="#gear" x="0.00" y="0.00" width="12" height="12"/></svg>
<svg class="ic" style="left:374px;top:502px" width="18" height="15"><use href="#cart" x="0.30" y="0.10" width="17" height="14"/></svg>
<svg class="ic" style="left:392px;top:501px" width="16" height="16"><use href="#info" x="0.85" y="0.85" width="15" height="15"/></svg>
<span class="t" style="left:501.5px;top:503px;color:#000;transform:scaleX(0.9650);">44</span>
<span class="t" style="left:535.5px;top:503px;color:#000;transform:scaleX(0.9650);">32114501</span>
<span class="t" style="left:619.5px;top:503px;color:#000;transform:scaleX(0.9650);">3</span>
<span class="t" style="left:654.5px;top:503px;color:#000;transform:scaleX(0.9650);">32114501</span>
<div class="clip" style="left:736px;top:500px;width:122px"><span class="t" style="left:3px;top:3px;color:#000;transform:scaleX(0.8843);">PLUG</span></div>
<svg class="ic" style="left:358px;top:523px" width="13" height="13"><use href="#gear" x="0.00" y="0.00" width="12" height="12"/></svg>
<svg class="ic" style="left:374px;top:522px" width="18" height="15"><use href="#cart" x="0.30" y="0.10" width="17" height="14"/></svg>
<svg class="ic" style="left:392px;top:521px" width="16" height="16"><use href="#info" x="0.85" y="0.85" width="15" height="15"/></svg>
<span class="t" style="left:501.5px;top:523px;color:#000;transform:scaleX(0.9650);">45</span>
<span class="t" style="left:535.5px;top:523px;color:#000;transform:scaleX(0.9650);">0650203</span>
<span class="t" style="left:619.5px;top:523px;color:#000;transform:scaleX(0.9650);">1</span>
<span class="t" style="left:654.5px;top:523px;color:#000;transform:scaleX(0.9650);">0650203</span>
<div class="clip" style="left:736px;top:520px;width:122px"><span class="t" style="left:3px;top:3px;color:#000;transform:scaleX(0.8843);">PLUG</span></div>
<svg class="ic" style="left:358px;top:543px" width="13" height="13"><use href="#gear" x="0.00" y="0.00" width="12" height="12"/></svg>
<svg class="ic" style="left:374px;top:542px" width="18" height="15"><use href="#cart" x="0.30" y="0.10" width="17" height="14"/></svg>
<svg class="ic" style="left:392px;top:541px" width="16" height="16"><use href="#info" x="0.85" y="0.85" width="15" height="15"/></svg>
<span class="t" style="left:501.5px;top:543px;color:#000;transform:scaleX(0.9650);">46</span>
<span class="t" style="left:535.5px;top:543px;color:#000;transform:scaleX(0.9650);">2411157</span>
<span class="t" style="left:619.5px;top:543px;color:#000;transform:scaleX(0.9650);">1</span>
<span class="t" style="left:654.5px;top:543px;color:#000;transform:scaleX(0.9650);">2411157</span>
<div class="clip" style="left:736px;top:540px;width:122px"><span class="t" style="left:3px;top:3px;color:#000;transform:scaleX(0.9347);">WASHER</span></div>
<svg class="ic" style="left:358px;top:563px" width="13" height="13"><use href="#gear" x="0.00" y="0.00" width="12" height="12"/></svg>
<svg class="ic" style="left:374px;top:562px" width="18" height="15"><use href="#cart" x="0.30" y="0.10" width="17" height="14"/></svg>
<svg class="ic" style="left:392px;top:561px" width="16" height="16"><use href="#info" x="0.85" y="0.85" width="15" height="15"/></svg>
<svg class="ic" style="left:436px;top:561px" width="17" height="16"><use href="#bubble" x="0.30" y="0.10" width="16" height="15"/></svg>
<span class="t" style="left:501.5px;top:563px;color:#000;transform:scaleX(0.9650);">49</span>
<span class="t" style="left:535.5px;top:563px;color:#000;transform:scaleX(0.9650);">2415B201</span>
<span class="t" style="left:618.5px;top:563px;color:#000;transform:scaleX(0.9650);">12</span>
<span class="t" style="left:654.5px;top:563px;color:#000;transform:scaleX(0.9650);">2415B201</span>
<div class="clip" style="left:736px;top:560px;width:122px"><span class="t" style="left:3px;top:3px;color:#000;transform:scaleX(0.9320);">SEAL - O RING</span></div>

<div class="abs" style="left:1025px;top:540px;width:43px;height:52px;background:#fff"></div>
<svg class="abs" style="left:1024px;top:540px" width="44" height="52" viewBox="1024 540 44 52">
 <g fill="none" stroke="#10559b" stroke-width="3">
  <circle cx="1036.9" cy="552.1" r="6.6"/><circle cx="1053.1" cy="552.1" r="6.6"/>
  <circle cx="1036.9" cy="568.5" r="6.6"/><circle cx="1053.1" cy="568.5" r="6.6"/>
  <path d="M1032.2 556.8 L1041.6 547.4 M1048.4 547.4 L1057.8 556.8 M1032.2 563.8 L1041.6 573.2 M1057.8 563.8 L1048.4 573.2" stroke-width="2.6"/>
 </g>
 <path d="M1045 543.6 L1046.8 549 L1045 552.4 L1043.2 549 Z M1045 577 L1046.8 571.6 L1045 568.2 L1043.2 571.6 Z M1028.2 560.3 L1033 558.7 L1036.4 560.3 L1033 561.9 Z M1061.8 560.3 L1057 558.7 L1053.6 560.3 L1057 561.9 Z" fill="#10559b"/>
 <text x="1027" y="588.6" font-family='"Liberation Sans", sans-serif' font-weight="bold" font-size="11" fill="#10559b" textLength="36" lengthAdjust="spacingAndGlyphs">Perkins</text>
 <text x="1063.2" y="583.6" font-family='"Liberation Sans", sans-serif' font-size="3" fill="#10559b">®</text>
</svg>

</body></html>
